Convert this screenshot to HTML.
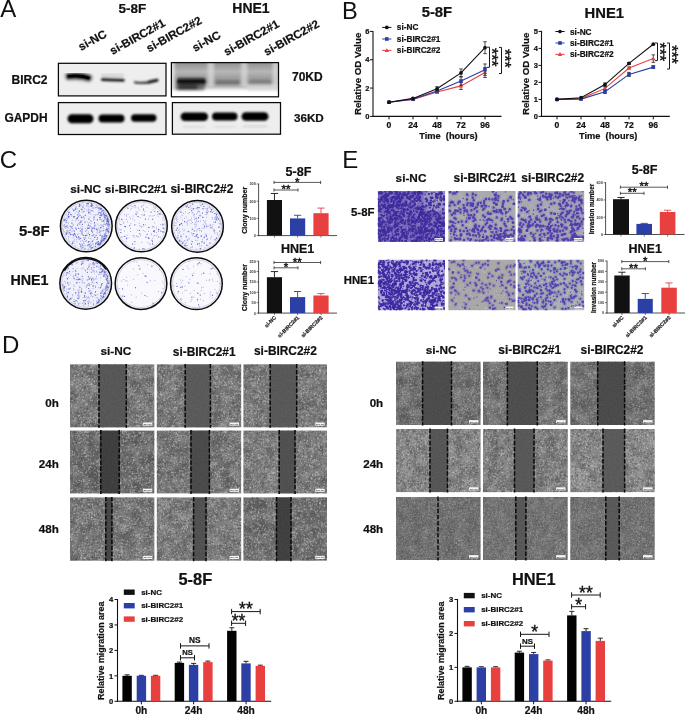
<!DOCTYPE html>
<html lang="en"><head><meta charset="utf-8"><title>Figure</title>
<style>html,body{margin:0;padding:0;background:#fff}svg{display:block}text{font-family:"Liberation Sans",Arial,sans-serif;font-weight:bold;fill:#111;stroke:#111;stroke-width:.22px}.s{stroke-width:0}</style></head>
<body>
<svg width="685" height="715" viewBox="0 0 685 715">
<defs>
<filter id="blur1" x="-10%" y="-30%" width="120%" height="160%"><feGaussianBlur stdDeviation="0.9"/></filter>
<filter id="blur2" x="-10%" y="-30%" width="120%" height="160%"><feGaussianBlur stdDeviation="1.6"/></filter>
<filter id="blur3" x="-20%" y="-20%" width="140%" height="140%"><feGaussianBlur stdDeviation="3"/></filter>
<filter id="grain" x="0" y="0" width="100%" height="100%" color-interpolation-filters="sRGB">
<feTurbulence type="fractalNoise" baseFrequency="0.75" numOctaves="2" seed="4"/>
<feColorMatrix type="matrix" values="0 0 0 1.5 -0.2  0 0 0 1.5 -0.2  0 0 0 1.5 -0.2  0 0 0 0 1"/>
</filter>
<filter id="clump" x="0" y="0" width="100%" height="100%" color-interpolation-filters="sRGB">
<feTurbulence type="fractalNoise" baseFrequency="0.09" numOctaves="2" seed="9"/>
<feColorMatrix type="matrix" values="0 0 0 2.2 -0.6  0 0 0 2.2 -0.6  0 0 0 2.2 -0.6  0 0 0 0 1"/>
</filter>
<filter id="grain2" x="0" y="0" width="100%" height="100%" color-interpolation-filters="sRGB">
<feTurbulence type="fractalNoise" baseFrequency="0.6" numOctaves="2" seed="11"/>
<feColorMatrix type="matrix" values="0 0 0 1.7 -0.27  0 0 0 1.7 -0.27  0 0 0 1.7 -0.27  0 0 0 0 1"/>
</filter>
<filter id="bggrain" x="0" y="0" width="100%" height="100%" color-interpolation-filters="sRGB">
<feTurbulence type="fractalNoise" baseFrequency="0.8" numOctaves="1" seed="2"/>
<feColorMatrix type="matrix" values="0 0 0 0.35 0.52  0 0 0 0.35 0.54  0 0 0 0.33 0.57  0 0 0 0 1"/>
</filter>

<filter id="cE11" x="0" y="0" width="100%" height="100%" color-interpolation-filters="sRGB"><feTurbulence type="fractalNoise" baseFrequency="0.42" numOctaves="2" seed="3"/><feColorMatrix type="matrix" values="0 0 0 0 0.33  0 0 0 0 0.22  0 0 0 0 0.66  0 0 0 7 -3.010"/><feComposite operator="in" in2="SourceGraphic"/></filter>
<filter id="cE12" x="0" y="0" width="100%" height="100%" color-interpolation-filters="sRGB"><feTurbulence type="fractalNoise" baseFrequency="0.36" numOctaves="2" seed="5"/><feColorMatrix type="matrix" values="0 0 0 0 0.36  0 0 0 0 0.27  0 0 0 0 0.68  0 0 0 8 -4.560"/><feComposite operator="in" in2="SourceGraphic"/></filter>
<filter id="cE13" x="0" y="0" width="100%" height="100%" color-interpolation-filters="sRGB"><feTurbulence type="fractalNoise" baseFrequency="0.36" numOctaves="2" seed="8"/><feColorMatrix type="matrix" values="0 0 0 0 0.36  0 0 0 0 0.27  0 0 0 0 0.68  0 0 0 8 -4.320"/><feComposite operator="in" in2="SourceGraphic"/></filter>
<filter id="cE21" x="0" y="0" width="100%" height="100%" color-interpolation-filters="sRGB"><feTurbulence type="fractalNoise" baseFrequency="0.45" numOctaves="2" seed="13"/><feColorMatrix type="matrix" values="0 0 0 0 0.3  0 0 0 0 0.19  0 0 0 0 0.66  0 0 0 7 -3.150"/><feComposite operator="in" in2="SourceGraphic"/></filter>
<filter id="cE22" x="0" y="0" width="100%" height="100%" color-interpolation-filters="sRGB"><feTurbulence type="fractalNoise" baseFrequency="0.42" numOctaves="2" seed="17"/><feColorMatrix type="matrix" values="0 0 0 0 0.36  0 0 0 0 0.27  0 0 0 0 0.7  0 0 0 9 -5.760"/><feComposite operator="in" in2="SourceGraphic"/></filter>
<filter id="cE23" x="0" y="0" width="100%" height="100%" color-interpolation-filters="sRGB"><feTurbulence type="fractalNoise" baseFrequency="0.42" numOctaves="2" seed="21"/><feColorMatrix type="matrix" values="0 0 0 0 0.36  0 0 0 0 0.27  0 0 0 0 0.72  0 0 0 9 -5.400"/><feComposite operator="in" in2="SourceGraphic"/></filter>
<filter id="cC1" x="0" y="0" width="100%" height="100%" color-interpolation-filters="sRGB"><feTurbulence type="fractalNoise" baseFrequency="0.47" numOctaves="3" seed="31"/><feColorMatrix type="matrix" values="0 0 0 0 0.33  0 0 0 0 0.36  0 0 0 0 0.8  0 0 0 9 -5.580"/><feComposite operator="in" in2="SourceGraphic"/></filter>
<filter id="cC2" x="0" y="0" width="100%" height="100%" color-interpolation-filters="sRGB"><feTurbulence type="fractalNoise" baseFrequency="0.47" numOctaves="3" seed="37"/><feColorMatrix type="matrix" values="0 0 0 0 0.33  0 0 0 0 0.36  0 0 0 0 0.8  0 0 0 9 -6.210"/><feComposite operator="in" in2="SourceGraphic"/></filter>
<filter id="cC3" x="0" y="0" width="100%" height="100%" color-interpolation-filters="sRGB"><feTurbulence type="fractalNoise" baseFrequency="0.47" numOctaves="3" seed="41"/><feColorMatrix type="matrix" values="0 0 0 0 0.33  0 0 0 0 0.36  0 0 0 0 0.8  0 0 0 9 -6.615"/><feComposite operator="in" in2="SourceGraphic"/></filter>
</defs>
<rect width="685" height="715" fill="#fff"/>
<filter id="soft2" x="-5%" y="-5%" width="110%" height="110%"><feGaussianBlur stdDeviation="0.35"/></filter>
<filter id="soft" x="-2%" y="-2%" width="104%" height="104%"><feGaussianBlur stdDeviation="0.5"/></filter>
<text x="0.3" y="17.3" font-size="24" style="font-weight:normal;stroke-width:0">A</text>
<text x="132.5" y="13" font-size="13.5" text-anchor="middle">5-8F</text>
<text x="251" y="12.5" font-size="14" text-anchor="middle">HNE1</text>
<text x="81" y="51" font-size="11.6" transform="rotate(-29 81 51)">si-NC</text>
<text x="112.5" y="55" font-size="11.6" transform="rotate(-29 112.5 55)">si-BIRC2#1</text>
<text x="149" y="52.5" font-size="11.6" transform="rotate(-29 149 52.5)">si-BIRC2#2</text>
<text x="195" y="52" font-size="11.6" transform="rotate(-29 195 52)">si-NC</text>
<text x="226.5" y="56" font-size="11.6" transform="rotate(-29 226.5 56)">si-BIRC2#1</text>
<text x="266.5" y="56" font-size="11.6" transform="rotate(-29 266.5 56)">si-BIRC2#2</text>
<text x="11.5" y="84" font-size="12">BIRC2</text>
<text x="4.4" y="121.9" font-size="11.95">GAPDH</text>
<text x="292" y="81.2" font-size="12">70KD</text>
<text x="293.9" y="121.8" font-size="11.7">36KD</text>
<g id="blots">
<rect x="58.4" y="63.3" width="107.6" height="32.6" fill="#eeeeee" stroke="#0a0a0a" stroke-width="1.25"/>
<g filter="url(#blur1)" fill="none" stroke-linecap="round">
<path d="M69 76.3C76 75.5 84 76.3 88.3 77.9" stroke="#d2d2d2" stroke-width="11"/>
<path d="M69 76.3C76 75.5 84 76.3 88.3 77.9" stroke="#040404" stroke-width="6.6"/>
<path d="M103 75.5H122" stroke="#d6d6d6" stroke-width="4"/>
<path d="M102.5 79.3L123 80.1" stroke="#1e1e1e" stroke-width="3.3"/>
<path d="M135 82.4C141 83.4 150 82.6 157 80.3" stroke="#3c3c3c" stroke-width="2.3"/>
<path d="M149 82L157 80.2" stroke="#1c1c1c" stroke-width="3"/>
</g>
<rect x="58.4" y="102.6" width="107.6" height="31.9" fill="#eeeeee" stroke="#0a0a0a" stroke-width="1.25"/>
<g filter="url(#blur1)">
<rect x="67.5" y="114.3" width="26.0" height="9.0" fill="#020202" rx="4.5"/>
<rect x="98.5" y="114.6" width="26.0" height="8.0" fill="#020202" rx="4"/>
<rect x="131.0" y="114.3" width="25.5" height="7.4" fill="#020202" rx="3.7"/>
</g>
<linearGradient id="gA3" x1="0" y1="0" x2="0" y2="1"><stop offset="0" stop-color="#8e8e8e"/><stop offset="0.12" stop-color="#a2a2a2"/><stop offset="0.27" stop-color="#b6b6b6"/><stop offset="0.42" stop-color="#a2a2a2"/><stop offset="0.58" stop-color="#969696"/><stop offset="0.70" stop-color="#b4b4b4"/><stop offset="0.80" stop-color="#efefef"/><stop offset="0.86" stop-color="#fff"/></linearGradient>
<clipPath id="cpA3"><rect x="171" y="62.6" width="107.5" height="34.2"/></clipPath>
<rect x="171.0" y="62.6" width="107.5" height="34.2" fill="#fff"/>
<g clip-path="url(#cpA3)">
<rect x="171.0" y="62.6" width="107.5" height="34.2" fill="url(#gA3)"/>
<g filter="url(#blur2)">
<rect x="168.0" y="60.0" width="6.5" height="30.0" fill="#e2e2e2"/>
<rect x="272.5" y="60.0" width="8.0" height="30.0" fill="#d8d8d8" opacity="0.8"/>
<rect x="207.5" y="58.0" width="6.5" height="29.0" fill="#dadada" opacity="0.75"/>
<rect x="241.0" y="58.0" width="6.5" height="29.0" fill="#d8d8d8" opacity="0.75"/>
<rect x="247.0" y="84.5" width="30.0" height="6.0" fill="#dcdcdc" opacity="0.7"/>
<rect x="175.0" y="84.0" width="30.0" height="6.0" fill="#6a6a6a" rx="3"/>
<rect x="176.0" y="78.6" width="31.0" height="6.0" fill="#0a0a0a" rx="3"/>
<rect x="178.0" y="85.5" width="20.0" height="4.0" fill="#2c2c2c" rx="2"/>
<rect x="214.5" y="80.5" width="26.0" height="3.4" fill="#6c6c6c" rx="1.7"/>
<rect x="248.0" y="80.3" width="24.0" height="3.4" fill="#767676" rx="1.7"/>
</g></g>
<rect x="171.4" y="62.6" width="107.1" height="34.2" fill="none" stroke="#0a0a0a" stroke-width="1.25"/>
<rect x="172.4" y="102.6" width="108.1" height="31.6" fill="#eeeeee" stroke="#0a0a0a" stroke-width="1.25"/>
<g filter="url(#blur1)">
<rect x="180.6" y="112.6" width="27.5" height="8.4" fill="#020202" rx="4.2"/>
<rect x="212.0" y="112.4" width="25.5" height="8.0" fill="#020202" rx="4"/>
<rect x="241.5" y="112.2" width="27.0" height="8.6" fill="#020202" rx="4.3"/>
</g>
<g filter="url(#blur1)" opacity="0.5">
<rect x="183.0" y="126.0" width="22.0" height="1.6" fill="#c0c0c0"/>
<rect x="214.0" y="126.0" width="22.0" height="1.6" fill="#c8c8c8"/>
<rect x="243.0" y="125.5" width="24.0" height="1.8" fill="#b8b8b8"/>
</g>
</g>
<text x="342" y="18.8" font-size="23.6" style="font-weight:normal;stroke-width:0">B</text>
<line x1="373" y1="30.9" x2="373" y2="116.9" stroke="#111" stroke-width="1.1"/>
<line x1="372.5" y1="116.4" x2="501.5" y2="116.4" stroke="#111" stroke-width="1.1"/>
<line x1="370" y1="116.4" x2="373" y2="116.4" stroke="#111" stroke-width="1"/>
<text x="369.4" y="119.0" font-size="7.5" text-anchor="end">0</text>
<line x1="370" y1="88.06666666666668" x2="373" y2="88.06666666666668" stroke="#111" stroke-width="1"/>
<text x="369.4" y="90.66666666666667" font-size="7.5" text-anchor="end">2</text>
<line x1="370" y1="59.73333333333334" x2="373" y2="59.73333333333334" stroke="#111" stroke-width="1"/>
<text x="369.4" y="62.33333333333334" font-size="7.5" text-anchor="end">4</text>
<line x1="370" y1="31.400000000000006" x2="373" y2="31.400000000000006" stroke="#111" stroke-width="1"/>
<text x="369.4" y="34.00000000000001" font-size="7.5" text-anchor="end">6</text>
<line x1="389" y1="116.4" x2="389" y2="119.4" stroke="#111" stroke-width="1"/>
<text x="389" y="127.60000000000001" font-size="8.6" text-anchor="middle">0</text>
<line x1="413" y1="116.4" x2="413" y2="119.4" stroke="#111" stroke-width="1"/>
<text x="413" y="127.60000000000001" font-size="8.6" text-anchor="middle">24</text>
<line x1="437" y1="116.4" x2="437" y2="119.4" stroke="#111" stroke-width="1"/>
<text x="437" y="127.60000000000001" font-size="8.6" text-anchor="middle">48</text>
<line x1="461" y1="116.4" x2="461" y2="119.4" stroke="#111" stroke-width="1"/>
<text x="461" y="127.60000000000001" font-size="8.6" text-anchor="middle">72</text>
<line x1="485" y1="116.4" x2="485" y2="119.4" stroke="#111" stroke-width="1"/>
<text x="485" y="127.60000000000001" font-size="8.6" text-anchor="middle">96</text>
<text x="448.5" y="139.0" font-size="9.25" text-anchor="middle" style="white-space:pre">Time  (hours)</text>
<text x="436.9" y="17.4" font-size="14.8" text-anchor="middle">5-8F</text>
<text x="361.0" y="73.9" font-size="9.7" text-anchor="middle" transform="rotate(-90 361.0 73.9)">Relative OD Value</text>
<polyline points="389.0,102.2 413.0,99.4 437.0,92.0 461.0,85.9 485.0,72.5" fill="none" stroke="#e8403f" stroke-width="1.1"/>
<polyline points="389.0,102.2 413.0,99.1 437.0,90.9 461.0,81.0 485.0,69.7" fill="none" stroke="#2b3fa5" stroke-width="1.1"/>
<polyline points="389.0,102.2 413.0,98.4 437.0,88.8 461.0,72.9 485.0,47.7" fill="none" stroke="#111" stroke-width="1.1"/>
<path d="M389 100.0L391.2 103.8H386.8Z" fill="#e8403f"/>
<line x1="413" y1="98.69166666666668" x2="413" y2="100.10833333333333" stroke="#222" stroke-width="0.8"/>
<line x1="411.2" y1="98.69166666666668" x2="414.8" y2="98.69166666666668" stroke="#222" stroke-width="0.8"/>
<line x1="411.2" y1="100.10833333333333" x2="414.8" y2="100.10833333333333" stroke="#222" stroke-width="0.8"/>
<path d="M413 97.2L415.2 101.0H410.8Z" fill="#e8403f"/>
<line x1="437" y1="90.9" x2="437" y2="93.16666666666669" stroke="#222" stroke-width="0.8"/>
<line x1="435.2" y1="90.9" x2="438.8" y2="90.9" stroke="#222" stroke-width="0.8"/>
<line x1="435.2" y1="93.16666666666669" x2="438.8" y2="93.16666666666669" stroke="#222" stroke-width="0.8"/>
<path d="M437 89.8L439.2 93.6H434.8Z" fill="#e8403f"/>
<line x1="461" y1="82.4" x2="461" y2="89.48333333333335" stroke="#222" stroke-width="0.8"/>
<line x1="459.2" y1="82.4" x2="462.8" y2="82.4" stroke="#222" stroke-width="0.8"/>
<line x1="459.2" y1="89.48333333333335" x2="462.8" y2="89.48333333333335" stroke="#222" stroke-width="0.8"/>
<path d="M461 83.7L463.2 87.5H458.8Z" fill="#e8403f"/>
<line x1="485" y1="67.52500000000002" x2="485" y2="77.44166666666668" stroke="#222" stroke-width="0.8"/>
<line x1="483.2" y1="67.52500000000002" x2="486.8" y2="67.52500000000002" stroke="#222" stroke-width="0.8"/>
<line x1="483.2" y1="77.44166666666668" x2="486.8" y2="77.44166666666668" stroke="#222" stroke-width="0.8"/>
<path d="M485 70.3L487.2 74.1H482.8Z" fill="#e8403f"/>
<rect x="387.2" y="100.4" width="3.6" height="3.6" fill="#2b3fa5"/>
<line x1="413" y1="98.40833333333335" x2="413" y2="99.825" stroke="#222" stroke-width="0.8"/>
<line x1="411.2" y1="98.40833333333335" x2="414.8" y2="98.40833333333335" stroke="#222" stroke-width="0.8"/>
<line x1="411.2" y1="99.825" x2="414.8" y2="99.825" stroke="#222" stroke-width="0.8"/>
<rect x="411.2" y="97.3" width="3.6" height="3.6" fill="#2b3fa5"/>
<line x1="437" y1="89.48333333333333" x2="437" y2="92.31666666666668" stroke="#222" stroke-width="0.8"/>
<line x1="435.2" y1="89.48333333333333" x2="438.8" y2="89.48333333333333" stroke="#222" stroke-width="0.8"/>
<line x1="435.2" y1="92.31666666666668" x2="438.8" y2="92.31666666666668" stroke="#222" stroke-width="0.8"/>
<rect x="435.2" y="89.1" width="3.6" height="3.6" fill="#2b3fa5"/>
<line x1="461" y1="76.73333333333335" x2="461" y2="85.23333333333335" stroke="#222" stroke-width="0.8"/>
<line x1="459.2" y1="76.73333333333335" x2="462.8" y2="76.73333333333335" stroke="#222" stroke-width="0.8"/>
<line x1="459.2" y1="85.23333333333335" x2="462.8" y2="85.23333333333335" stroke="#222" stroke-width="0.8"/>
<rect x="459.2" y="79.2" width="3.6" height="3.6" fill="#2b3fa5"/>
<line x1="485" y1="63.98333333333334" x2="485" y2="75.31666666666668" stroke="#222" stroke-width="0.8"/>
<line x1="483.2" y1="63.98333333333334" x2="486.8" y2="63.98333333333334" stroke="#222" stroke-width="0.8"/>
<line x1="483.2" y1="75.31666666666668" x2="486.8" y2="75.31666666666668" stroke="#222" stroke-width="0.8"/>
<rect x="483.2" y="67.9" width="3.6" height="3.6" fill="#2b3fa5"/>
<circle cx="389" cy="102.2" r="1.85" fill="#111"/>
<line x1="413" y1="97.7" x2="413" y2="99.11666666666666" stroke="#222" stroke-width="0.8"/>
<line x1="411.2" y1="97.7" x2="414.8" y2="97.7" stroke="#222" stroke-width="0.8"/>
<line x1="411.2" y1="99.11666666666666" x2="414.8" y2="99.11666666666666" stroke="#222" stroke-width="0.8"/>
<circle cx="413" cy="98.4" r="1.85" fill="#111"/>
<line x1="437" y1="86.65" x2="437" y2="90.9" stroke="#222" stroke-width="0.8"/>
<line x1="435.2" y1="86.65" x2="438.8" y2="86.65" stroke="#222" stroke-width="0.8"/>
<line x1="435.2" y1="90.9" x2="438.8" y2="90.9" stroke="#222" stroke-width="0.8"/>
<circle cx="437" cy="88.8" r="1.85" fill="#111"/>
<line x1="461" y1="68.94166666666668" x2="461" y2="76.87500000000001" stroke="#222" stroke-width="0.8"/>
<line x1="459.2" y1="68.94166666666668" x2="462.8" y2="68.94166666666668" stroke="#222" stroke-width="0.8"/>
<line x1="459.2" y1="76.87500000000001" x2="462.8" y2="76.87500000000001" stroke="#222" stroke-width="0.8"/>
<circle cx="461" cy="72.9" r="1.85" fill="#111"/>
<line x1="485" y1="41.741666666666674" x2="485" y2="53.64166666666668" stroke="#222" stroke-width="0.8"/>
<line x1="483.2" y1="41.741666666666674" x2="486.8" y2="41.741666666666674" stroke="#222" stroke-width="0.8"/>
<line x1="483.2" y1="53.64166666666668" x2="486.8" y2="53.64166666666668" stroke="#222" stroke-width="0.8"/>
<circle cx="485" cy="47.7" r="1.85" fill="#111"/>
<line x1="382.2" y1="27.4" x2="391.40000000000003" y2="27.4" stroke="#111" stroke-width="1"/>
<circle cx="386.8" cy="27.4" r="1.85" fill="#111"/>
<text x="396.8" y="30.4" font-size="8.25">si-NC</text>
<line x1="382.2" y1="39" x2="391.40000000000003" y2="39" stroke="#2b3fa5" stroke-width="1"/>
<rect x="385.0" y="37.2" width="3.6" height="3.6" fill="#2b3fa5"/>
<text x="396.8" y="42" font-size="8.25">si-BIRC2#1</text>
<line x1="382.2" y1="50.4" x2="391.40000000000003" y2="50.4" stroke="#e8403f" stroke-width="1"/>
<path d="M386.8 48.2L389.0 52.0H384.6Z" fill="#e8403f"/>
<text x="396.8" y="53.4" font-size="8.25">si-BIRC2#2</text>
<path d="M487.0 47.2H489.5V67.3H487.0" fill="none" stroke="#1a1a1a" stroke-width="1"/>
<text x="485.5" y="57.25" font-size="16" text-anchor="middle" style="font-weight:normal;stroke-width:0.4" transform="rotate(90 485.5 57.25)">***</text>
<path d="M499.0 47.4H501.5V73.5H499.0" fill="none" stroke="#1a1a1a" stroke-width="1"/>
<text x="498.5" y="58.45" font-size="16" text-anchor="middle" style="font-weight:normal;stroke-width:0.4" transform="rotate(90 498.5 58.45)">***</text>
<line x1="541.5" y1="30.9" x2="541.5" y2="116.9" stroke="#111" stroke-width="1.1"/>
<line x1="541.0" y1="116.4" x2="669.8" y2="116.4" stroke="#111" stroke-width="1.1"/>
<line x1="538.5" y1="116.4" x2="541.5" y2="116.4" stroke="#111" stroke-width="1"/>
<text x="537.9" y="119.0" font-size="7.5" text-anchor="end">0</text>
<line x1="538.5" y1="99.4" x2="541.5" y2="99.4" stroke="#111" stroke-width="1"/>
<text x="537.9" y="102.0" font-size="7.5" text-anchor="end">1</text>
<line x1="538.5" y1="82.4" x2="541.5" y2="82.4" stroke="#111" stroke-width="1"/>
<text x="537.9" y="85.0" font-size="7.5" text-anchor="end">2</text>
<line x1="538.5" y1="65.4" x2="541.5" y2="65.4" stroke="#111" stroke-width="1"/>
<text x="537.9" y="68.0" font-size="7.5" text-anchor="end">3</text>
<line x1="538.5" y1="48.400000000000006" x2="541.5" y2="48.400000000000006" stroke="#111" stroke-width="1"/>
<text x="537.9" y="51.00000000000001" font-size="7.5" text-anchor="end">4</text>
<line x1="538.5" y1="31.400000000000006" x2="541.5" y2="31.400000000000006" stroke="#111" stroke-width="1"/>
<text x="537.9" y="34.00000000000001" font-size="7.5" text-anchor="end">5</text>
<line x1="557" y1="116.4" x2="557" y2="119.4" stroke="#111" stroke-width="1"/>
<text x="557" y="127.60000000000001" font-size="8.6" text-anchor="middle">0</text>
<line x1="581" y1="116.4" x2="581" y2="119.4" stroke="#111" stroke-width="1"/>
<text x="581" y="127.60000000000001" font-size="8.6" text-anchor="middle">24</text>
<line x1="605" y1="116.4" x2="605" y2="119.4" stroke="#111" stroke-width="1"/>
<text x="605" y="127.60000000000001" font-size="8.6" text-anchor="middle">48</text>
<line x1="629" y1="116.4" x2="629" y2="119.4" stroke="#111" stroke-width="1"/>
<text x="629" y="127.60000000000001" font-size="8.6" text-anchor="middle">72</text>
<line x1="653.3" y1="116.4" x2="653.3" y2="119.4" stroke="#111" stroke-width="1"/>
<text x="653.3" y="127.60000000000001" font-size="8.6" text-anchor="middle">96</text>
<text x="608.2" y="139.0" font-size="9.25" text-anchor="middle" style="white-space:pre">Time  (hours)</text>
<text x="604.3" y="18.2" font-size="14.8" text-anchor="middle">HNE1</text>
<text x="529.4" y="73.9" font-size="9.7" text-anchor="middle" transform="rotate(-90 529.4 73.9)">Relative OD Value</text>
<polyline points="557.0,99.4 581.0,98.6 605.0,88.4 629.0,68.0 653.3,58.6" fill="none" stroke="#e8403f" stroke-width="1.1"/>
<polyline points="557.0,99.4 581.0,99.1 605.0,91.8 629.0,74.4 653.3,67.1" fill="none" stroke="#2b3fa5" stroke-width="1.1"/>
<polyline points="557.0,99.4 581.0,97.7 605.0,84.6 629.0,63.4 653.3,44.2" fill="none" stroke="#111" stroke-width="1.1"/>
<path d="M557 97.2L559.2 101.0H554.8Z" fill="#e8403f"/>
<path d="M581 96.4L583.2 100.2H578.8Z" fill="#e8403f"/>
<line x1="605" y1="86.99000000000001" x2="605" y2="89.71000000000001" stroke="#222" stroke-width="0.8"/>
<line x1="603.2" y1="86.99000000000001" x2="606.8" y2="86.99000000000001" stroke="#222" stroke-width="0.8"/>
<line x1="603.2" y1="89.71000000000001" x2="606.8" y2="89.71000000000001" stroke="#222" stroke-width="0.8"/>
<path d="M605 86.2L607.2 90.0H602.8Z" fill="#e8403f"/>
<line x1="629" y1="66.93" x2="629" y2="68.97" stroke="#222" stroke-width="0.8"/>
<line x1="627.2" y1="66.93" x2="630.8" y2="66.93" stroke="#222" stroke-width="0.8"/>
<line x1="627.2" y1="68.97" x2="630.8" y2="68.97" stroke="#222" stroke-width="0.8"/>
<path d="M629 65.8L631.2 69.5H626.8Z" fill="#e8403f"/>
<line x1="653.3" y1="54.86000000000001" x2="653.3" y2="62.34000000000001" stroke="#222" stroke-width="0.8"/>
<line x1="651.5" y1="54.86000000000001" x2="655.0999999999999" y2="54.86000000000001" stroke="#222" stroke-width="0.8"/>
<line x1="651.5" y1="62.34000000000001" x2="655.0999999999999" y2="62.34000000000001" stroke="#222" stroke-width="0.8"/>
<path d="M653.3 56.4L655.5 60.2H651.0999999999999Z" fill="#e8403f"/>
<rect x="555.2" y="97.6" width="3.6" height="3.6" fill="#2b3fa5"/>
<rect x="579.2" y="97.3" width="3.6" height="3.6" fill="#2b3fa5"/>
<line x1="605" y1="90.05" x2="605" y2="93.45" stroke="#222" stroke-width="0.8"/>
<line x1="603.2" y1="90.05" x2="606.8" y2="90.05" stroke="#222" stroke-width="0.8"/>
<line x1="603.2" y1="93.45" x2="606.8" y2="93.45" stroke="#222" stroke-width="0.8"/>
<rect x="603.2" y="90.0" width="3.6" height="3.6" fill="#2b3fa5"/>
<line x1="629" y1="72.36999999999999" x2="629" y2="76.45" stroke="#222" stroke-width="0.8"/>
<line x1="627.2" y1="72.36999999999999" x2="630.8" y2="72.36999999999999" stroke="#222" stroke-width="0.8"/>
<line x1="627.2" y1="76.45" x2="630.8" y2="76.45" stroke="#222" stroke-width="0.8"/>
<rect x="627.2" y="72.6" width="3.6" height="3.6" fill="#2b3fa5"/>
<line x1="653.3" y1="65.74000000000001" x2="653.3" y2="68.46000000000001" stroke="#222" stroke-width="0.8"/>
<line x1="651.5" y1="65.74000000000001" x2="655.0999999999999" y2="65.74000000000001" stroke="#222" stroke-width="0.8"/>
<line x1="651.5" y1="68.46000000000001" x2="655.0999999999999" y2="68.46000000000001" stroke="#222" stroke-width="0.8"/>
<rect x="651.5" y="65.3" width="3.6" height="3.6" fill="#2b3fa5"/>
<circle cx="557" cy="99.4" r="1.85" fill="#111"/>
<circle cx="581" cy="97.7" r="1.85" fill="#111"/>
<line x1="605" y1="82.91" x2="605" y2="86.31" stroke="#222" stroke-width="0.8"/>
<line x1="603.2" y1="82.91" x2="606.8" y2="82.91" stroke="#222" stroke-width="0.8"/>
<line x1="603.2" y1="86.31" x2="606.8" y2="86.31" stroke="#222" stroke-width="0.8"/>
<circle cx="605" cy="84.6" r="1.85" fill="#111"/>
<line x1="629" y1="62.510000000000005" x2="629" y2="64.21000000000001" stroke="#222" stroke-width="0.8"/>
<line x1="627.2" y1="62.510000000000005" x2="630.8" y2="62.510000000000005" stroke="#222" stroke-width="0.8"/>
<line x1="627.2" y1="64.21000000000001" x2="630.8" y2="64.21000000000001" stroke="#222" stroke-width="0.8"/>
<circle cx="629" cy="63.4" r="1.85" fill="#111"/>
<circle cx="653.3" cy="44.2" r="1.85" fill="#111"/>
<line x1="555.4" y1="31.5" x2="564.6" y2="31.5" stroke="#111" stroke-width="1"/>
<circle cx="560" cy="31.5" r="1.85" fill="#111"/>
<text x="570" y="34.5" font-size="8.25">si-NC</text>
<line x1="555.4" y1="43" x2="564.6" y2="43" stroke="#2b3fa5" stroke-width="1"/>
<rect x="558.2" y="41.2" width="3.6" height="3.6" fill="#2b3fa5"/>
<text x="570" y="46" font-size="8.25">si-BIRC2#1</text>
<line x1="555.4" y1="54.3" x2="564.6" y2="54.3" stroke="#e8403f" stroke-width="1"/>
<path d="M560 52.1L562.2 55.9H557.8Z" fill="#e8403f"/>
<text x="570" y="57.3" font-size="8.25">si-BIRC2#2</text>
<path d="M655.0 43H657.5V60.6H655.0" fill="none" stroke="#1a1a1a" stroke-width="1"/>
<text x="654.2" y="51.8" font-size="16" text-anchor="middle" style="font-weight:normal;stroke-width:0.4" transform="rotate(90 654.2 51.8)">***</text>
<path d="M667.0 43H669.5V69H667.0" fill="none" stroke="#1a1a1a" stroke-width="1"/>
<text x="665.8" y="54.5" font-size="16" text-anchor="middle" style="font-weight:normal;stroke-width:0.4" transform="rotate(90 665.8 54.5)">***</text>
<text x="-0.2" y="168.2" font-size="24" style="font-weight:normal;stroke-width:0">C</text>
<text x="70.3" y="192.5" font-size="11.8">si-NC</text>
<text x="104.8" y="192.5" font-size="11.8">si-BIRC2#1</text>
<text x="170.5" y="192.5" font-size="11.9">si-BIRC2#2</text>
<text x="19" y="236.3" font-size="14.9">5-8F</text>
<text x="10.4" y="285" font-size="14.3">HNE1</text>
<circle cx="86.3" cy="226.0" r="25.85" fill="#f0f0fa"/>
<g filter="url(#soft2)">
<path d="M96.4 229.0h0M84.1 217.5h0M94.0 216.7h0M101.7 227.1h0M87.8 228.6h0M83.5 241.5h0M93.8 246.1h0M80.3 244.5h0M81.9 232.0h0M68.7 233.7h0M67.7 227.5h0M92.6 232.0h0M97.4 237.9h0M95.5 215.0h0M89.6 219.0h0M89.2 244.8h0M90.9 205.8h0M96.7 239.6h0M87.9 246.1h0M69.4 216.7h0M91.2 203.4h0M63.6 230.9h0M80.9 247.2h0M101.8 238.1h0M100.1 215.5h0M72.7 242.2h0M94.0 207.9h0M76.9 239.8h0M103.2 226.2h0M79.5 243.9h0M101.7 227.9h0M96.4 235.2h0M106.4 223.3h0M77.7 214.9h0M89.6 228.4h0M64.2 219.5h0M85.3 215.3h0M97.2 224.1h0M102.2 230.8h0M80.5 227.9h0M97.3 219.9h0M82.7 228.9h0M108.9 227.9h0M104.2 222.0h0M94.7 228.7h0M87.9 227.9h0M90.8 211.0h0M98.1 228.2h0M70.1 230.2h0M77.9 225.0h0M88.5 219.1h0M67.7 233.1h0M88.9 228.1h0M105.6 224.6h0M93.0 243.6h0M103.3 238.6h0M93.8 227.9h0M89.5 244.1h0M94.1 217.6h0M88.6 211.2h0M67.8 231.0h0M87.6 245.5h0M81.1 233.7h0M75.8 213.1h0M108.2 231.7h0M88.1 210.6h0M91.9 206.4h0M91.8 227.1h0M71.2 226.9h0M82.1 217.6h0M95.5 237.0h0M89.5 225.7h0M103.5 220.9h0M81.9 231.7h0M72.0 231.6h0M100.2 231.0h0M106.5 215.7h0M82.2 212.1h0M89.4 222.5h0M82.3 206.9h0M94.7 237.3h0M68.5 236.5h0M76.7 219.8h0M93.1 211.3h0M89.0 212.4h0M79.2 237.4h0M96.9 243.4h0M78.2 213.9h0M70.9 214.3h0M94.6 223.9h0M104.3 238.4h0M104.8 219.1h0M64.2 220.5h0M91.6 221.3h0M79.0 206.4h0M83.0 246.7h0M100.2 217.4h0M70.7 234.6h0M93.0 208.5h0M102.5 224.9h0M82.3 234.0h0M82.8 209.1h0M68.0 211.7h0M98.9 210.3h0M77.7 217.5h0M73.1 225.2h0M63.4 229.2h0M67.1 217.7h0M74.1 216.6h0M99.4 212.8h0M77.1 238.1h0M75.8 206.8h0M92.3 228.8h0M78.3 216.5h0M98.9 243.9h0M78.7 220.4h0M100.1 219.2h0M90.4 226.6h0M97.7 244.5h0M75.2 209.1h0M75.8 209.1h0M79.5 239.1h0M67.7 232.7h0M73.2 241.2h0M88.9 241.5h0M79.6 224.3h0M101.8 236.2h0M94.0 239.7h0M101.4 215.6h0M76.2 211.0h0M85.6 235.6h0M85.7 235.6h0M92.1 241.6h0M67.8 218.6h0M78.7 223.6h0M75.1 234.4h0M100.0 244.2h0M91.3 245.1h0M92.9 240.8h0M91.3 247.8h0M79.7 205.9h0M99.1 225.7h0M70.7 232.8h0M81.3 205.0h0M71.9 223.1h0M93.5 218.0h0M77.6 225.0h0M74.1 217.0h0M106.5 229.3h0M101.5 221.2h0M108.5 230.3h0M77.0 242.1h0M103.7 230.6h0M90.4 214.2h0M69.8 241.7h0M100.7 234.0h0M100.6 227.7h0M88.6 219.3h0M71.2 216.1h0M95.9 207.6h0M83.1 207.1h0M102.7 214.9h0M86.1 230.0h0M79.1 211.2h0M94.5 222.7h0M79.9 244.0h0M75.6 235.7h0M73.1 230.2h0M101.2 208.6h0M83.6 238.0h0M101.2 231.2h0M101.1 225.8h0M89.6 234.5h0M74.0 243.5h0M79.9 205.9h0M94.6 216.9h0M79.8 204.4h0M95.6 207.7h0M90.1 238.3h0M77.1 225.4h0M79.7 206.0h0M82.5 226.8h0M64.5 224.6h0M102.0 237.1h0M80.3 230.8h0M99.4 217.3h0M90.4 220.9h0M91.0 238.8h0M85.0 222.1h0M84.6 218.8h0M92.1 227.5h0M65.3 220.8h0M94.7 225.9h0M73.0 237.7h0M78.3 212.3h0M88.6 233.6h0M95.3 246.6h0M93.0 205.7h0M99.4 232.6h0M76.3 207.1h0M69.5 232.8h0M70.4 214.6h0M105.4 224.9h0M97.6 214.6h0M73.9 210.1h0M93.0 231.8h0M79.2 213.8h0M98.1 233.2h0M74.5 233.3h0M82.2 240.5h0M78.6 233.8h0M73.0 234.3h0M92.0 210.5h0M73.6 235.6h0M85.2 241.2h0M84.1 243.2h0M66.2 233.8h0M105.1 238.8h0M102.5 214.3h0M105.6 229.7h0M80.9 246.0h0M83.6 243.1h0M90.1 212.1h0M85.7 231.5h0M77.2 218.6h0M81.2 244.1h0M93.2 214.9h0M70.4 226.3h0M88.3 225.2h0M72.6 234.8h0M90.8 245.8h0M88.7 209.5h0M76.5 237.0h0M95.9 244.3h0M85.1 248.7h0M97.9 241.5h0M88.3 242.2h0M82.8 203.1h0M97.0 232.7h0M96.7 235.7h0M68.3 216.3h0M101.8 211.6h0M66.0 232.4h0M108.7 221.3h0M78.7 228.4h0M83.6 216.6h0M94.1 234.4h0M65.3 228.1h0M100.1 235.4h0M86.4 206.1h0M76.3 236.7h0M92.5 232.7h0M72.1 228.3h0M103.9 215.8h0M74.3 233.5h0M73.1 242.1h0M81.6 217.2h0M78.9 237.1h0M66.4 230.9h0M72.7 226.5h0M80.6 238.4h0M71.9 215.1h0M81.2 217.7h0M87.3 204.4h0M81.9 229.2h0M101.7 215.1h0M84.1 245.6h0M82.3 230.5h0M81.3 209.3h0M89.2 227.2h0M77.4 234.6h0M64.4 231.9h0M97.2 229.8h0M91.5 229.1h0M68.7 213.1h0M68.4 223.7h0M81.0 221.2h0M79.4 239.0h0M83.0 220.2h0M81.0 246.2h0M88.8 213.1h0M74.7 241.1h0M88.2 208.1h0M89.0 245.8h0M83.9 211.6h0M87.9 206.1h0M104.0 239.2h0M75.4 228.1h0M80.0 222.7h0M75.8 228.0h0M88.6 224.0h0M97.1 206.2h0M66.6 220.6h0M73.8 211.1h0M90.5 243.2h0M68.0 222.2h0M78.5 236.9h0M101.9 219.7h0M96.1 205.4h0M104.8 216.4h0M76.3 229.2h0M88.5 237.7h0M80.7 241.3h0M93.0 244.3h0M85.2 235.5h0M87.4 228.5h0M98.3 214.4h0M106.4 216.2h0M82.6 244.9h0M84.7 208.7h0M103.8 240.0h0M104.2 234.8h0M74.8 234.5h0M105.5 232.3h0M88.3 249.0h0M101.9 213.9h0M66.5 233.1h0M77.3 208.6h0M100.7 213.1h0M78.4 216.1h0M89.0 244.6h0M93.0 207.7h0M101.3 214.3h0M87.2 222.1h0M93.1 235.2h0M88.2 232.0h0M89.4 235.9h0M97.6 231.3h0M73.7 210.4h0M97.3 239.5h0M74.4 239.4h0M92.0 247.2h0M74.3 231.1h0M73.2 224.3h0M96.1 214.8h0M92.2 241.3h0M99.8 244.8h0M105.8 231.8h0M86.2 241.0h0M83.3 217.2h0M73.4 216.8h0M100.7 214.4h0M99.9 231.1h0M101.5 238.0h0M69.4 212.4h0M76.3 218.1h0M95.2 235.4h0M78.4 238.8h0M85.1 237.8h0M100.0 232.1h0M68.6 212.4h0M94.7 219.0h0M83.3 235.3h0M104.3 224.0h0M86.7 230.5h0M99.5 212.6h0M91.7 230.9h0M81.0 225.0h0M86.6 210.0h0M76.1 218.9h0M82.4 224.3h0M74.5 216.9h0M90.0 209.5h0M103.9 224.3h0M91.7 206.3h0M91.1 223.7h0M68.8 240.0h0M86.8 233.9h0M67.0 225.8h0M91.5 230.9h0M90.9 245.2h0M93.0 236.3h0M86.8 235.4h0M89.2 206.7h0M97.0 207.7h0M102.4 221.6h0M107.4 229.3h0M104.2 233.7h0M85.6 245.6h0M75.5 220.8h0M107.9 228.9h0M98.9 207.8h0M99.2 208.4h0M82.6 209.9h0M73.5 235.1h0M87.8 226.9h0M85.7 228.2h0M75.1 236.4h0M95.7 243.4h0M82.8 247.6h0M68.1 228.2h0M91.4 235.4h0M66.1 222.5h0M93.4 220.1h0M100.9 224.6h0M72.3 220.1h0M68.7 217.0h0M99.6 230.2h0M80.3 221.9h0M69.3 226.1h0M70.9 234.4h0M65.4 234.9h0M95.3 225.0h0M88.0 244.4h0M80.0 215.6h0M90.5 225.9h0M89.7 217.0h0M103.1 238.9h0M84.5 239.3h0M81.3 248.3h0M103.1 220.1h0M91.6 205.4h0M98.6 212.8h0M81.3 222.2h0M70.5 234.8h0M86.2 240.8h0M79.4 211.1h0M77.4 214.9h0M86.5 205.3h0M99.0 228.9h0M100.7 209.2h0M104.0 237.7h0M108.5 221.4h0M104.3 238.8h0M65.8 226.4h0M103.3 240.9h0M107.0 218.5h0M107.1 235.8h0M105.1 217.4h0M106.0 221.0h0M63.8 225.6h0M105.6 235.8h0M100.8 212.8h0M66.1 227.8h0M103.8 236.7h0M99.5 207.8h0M108.0 220.3h0M98.8 243.9h0M104.0 238.8h0M99.0 242.9h0M104.4 238.3h0M102.9 210.4h0M98.9 244.3h0M102.9 236.6h0M105.3 215.5h0M98.2 207.9h0M104.5 235.6h0M108.0 224.1h0M72.4 243.3h0M106.3 236.4h0M108.8 223.1h0M104.5 212.2h0M103.8 240.1h0M64.2 225.6h0M101.4 209.9h0M108.6 231.1h0M109.2 224.8h0M103.5 213.9h0M106.1 237.4h0M109.0 224.1h0M103.1 210.5h0M105.2 213.4h0M102.9 210.8h0M85.0 248.7h0M104.9 236.2h0M68.7 238.1h0M104.2 216.9h0M66.7 234.6h0M101.2 241.5h0M67.1 215.6h0M100.7 242.9h0M101.8 241.6h0M105.6 238.2h0M108.4 232.1h0M105.0 216.7h0M101.3 239.8h0M100.2 242.8h0M72.5 209.0h0M64.4 227.1h0M100.4 243.1h0M87.0 203.4h0M83.9 247.7h0M108.2 223.6h0M98.8 208.2h0M68.4 214.4h0M106.3 236.5h0M105.1 217.9h0M102.1 240.9h0M108.9 224.7h0M107.8 221.2h0M63.9 220.9h0M99.9 208.1h0M102.0 240.2h0M108.2 219.2h0M104.1 239.5h0M104.6 236.4h0M92.8 247.5h0M104.8 238.8h0M102.2 241.6h0M103.6 240.7h0M107.6 217.9h0M102.8 239.4h0M101.1 242.2h0M101.8 240.5h0M65.1 219.3h0M106.7 235.9h0M82.5 247.9h0M108.7 225.7h0M104.5 214.8h0M75.7 245.8h0M106.9 229.9h0M106.9 224.7h0M98.3 241.5h0M103.9 240.1h0M107.2 216.6h0M101.8 241.4h0M108.0 221.8h0M100.7 208.3h0M99.5 244.3h0M107.8 223.2h0M100.0 244.4h0M105.0 239.0h0M107.9 219.4h0M103.8 236.6h0M108.3 232.0h0M101.0 208.5h0M99.2 209.5h0M102.6 211.2h0M97.9 244.8h0M98.8 208.0h0M91.8 204.4h0M106.6 227.9h0M107.2 230.8h0M101.3 212.0h0M103.7 214.7h0M105.2 219.1h0M106.3 235.6h0M105.1 233.8h0M107.5 225.8h0M105.1 234.2h0M91.2 248.2h0M101.4 208.6h0M83.5 205.1h0M103.3 212.2h0M107.4 220.2h0M102.6 237.8h0M98.6 243.2h0M65.9 218.6h0M106.9 219.0h0M107.8 218.3h0M103.7 212.1h0M103.8 228.4h0M98.6 244.1h0M101.1 240.1h0M64.1 219.9h0M106.2 229.6h0M92.2 205.3h0M106.9 216.4h0M106.4 221.8h0M101.3 241.6h0M90.0 246.9h0M106.4 233.7h0M97.9 243.1h0M107.9 226.3h0M91.7 204.2h0M97.0 207.1h0M98.9 244.5h0M101.8 210.0h0M102.4 235.8h0M107.6 224.0h0M104.4 214.3h0M108.8 228.0h0M88.3 203.5h0M106.9 220.0h0M104.0 217.3h0M105.4 234.2h0M108.3 222.2h0M107.0 231.7h0M108.6 222.1h0M106.2 230.1h0M107.5 221.4h0M95.6 244.8h0M101.1 241.3h0M100.8 208.6h0M100.8 243.4h0M105.8 218.2h0M107.1 224.9h0M99.0 245.0h0M103.6 213.3h0M104.5 219.8h0M105.3 215.2h0M109.1 224.2h0M107.3 221.2h0M72.1 244.1h0M106.3 235.8h0M105.0 234.7h0M97.0 242.6h0M79.5 204.1h0M101.7 242.1h0M75.6 208.2h0M108.1 221.3h0M100.9 240.6h0M107.9 219.2h0M98.2 244.3h0M88.3 203.8h0M109.1 226.6h0M105.7 215.2h0M75.1 209.1h0M107.7 219.3h0" fill="none" stroke="#5d68cc" stroke-width="0.9" stroke-linecap="round" opacity="0.7"/>
<path d="M96.4 229.0h0M87.8 228.6h0M81.9 232.0h0M97.4 237.9h0M90.9 205.8h0M91.2 203.4h0M100.1 215.5h0M103.2 226.2h0M106.4 223.3h0M85.3 215.3h0M97.3 219.9h0M94.7 228.7h0M70.1 230.2h0M88.9 228.1h0M93.8 227.9h0M67.8 231.0h0M108.2 231.7h0M71.2 226.9h0M103.5 220.9h0M106.5 215.7h0M94.7 237.3h0M89.0 212.4h0M70.9 214.3h0M64.2 220.5h0M100.2 217.4h0M82.3 234.0h0M77.7 217.5h0M74.1 216.6h0M92.3 228.8h0M100.1 219.2h0M75.8 209.1h0M88.9 241.5h0M101.4 215.6h0M92.1 241.6h0M100.0 244.2h0M79.7 205.9h0M71.9 223.1h0M106.5 229.3h0M103.7 230.6h0M100.6 227.7h0M83.1 207.1h0M94.5 222.7h0M101.2 208.6h0M89.6 234.5h0M79.8 204.4h0M79.7 206.0h0M80.3 230.8h0M85.0 222.1h0M94.7 225.9h0M95.3 246.6h0M69.5 232.8h0M73.9 210.1h0M74.5 233.3h0M92.0 210.5h0M66.2 233.8h0M80.9 246.0h0M77.2 218.6h0M88.3 225.2h0M76.5 237.0h0M88.3 242.2h0M68.3 216.3h0M78.7 228.4h0M100.1 235.4h0M72.1 228.3h0M81.6 217.2h0M80.6 238.4h0M81.9 229.2h0M81.3 209.3h0M97.2 229.8h0M81.0 221.2h0M88.8 213.1h0M83.9 211.6h0M80.0 222.7h0M66.6 220.6h0M78.5 236.9h0M76.3 229.2h0M85.2 235.5h0M82.6 244.9h0M74.8 234.5h0M66.5 233.1h0M89.0 244.6h0M93.1 235.2h0M73.7 210.4h0M74.3 231.1h0M99.8 244.8h0M73.4 216.8h0M69.4 212.4h0M85.1 237.8h0M83.3 235.3h0M91.7 230.9h0M82.4 224.3h0M91.7 206.3h0M67.0 225.8h0M86.8 235.4h0M107.4 229.3h0M107.9 228.9h0M73.5 235.1h0M95.7 243.4h0M66.1 222.5h0M68.7 217.0h0M70.9 234.4h0M80.0 215.6h0M84.5 239.3h0M98.6 212.8h0M79.4 211.1h0M100.7 209.2h0M65.8 226.4h0M105.1 217.4h0M100.8 212.8h0M108.0 220.3h0M104.4 238.3h0M105.3 215.5h0M72.4 243.3h0M103.8 240.1h0M109.2 224.8h0M103.1 210.5h0M104.9 236.2h0M101.2 241.5h0M105.6 238.2h0M100.2 242.8h0M87.0 203.4h0M68.4 214.4h0M108.9 224.7h0M102.0 240.2h0M92.8 247.5h0M107.6 217.9h0M65.1 219.3h0M104.5 214.8h0M98.3 241.5h0M108.0 221.8h0M100.0 244.4h0M108.3 232.0h0M97.9 244.8h0M107.2 230.8h0M106.3 235.6h0M91.2 248.2h0M107.4 220.2h0M106.9 219.0h0M98.6 244.1h0M92.2 205.3h0M90.0 246.9h0M91.7 204.2h0M102.4 235.8h0M88.3 203.5h0M108.3 222.2h0M107.5 221.4h0M100.8 243.4h0M103.6 213.3h0M107.3 221.2h0M97.0 242.6h0M108.1 221.3h0M88.3 203.8h0M107.7 219.3h0" fill="none" stroke="#4a54c2" stroke-width="1.25" stroke-linecap="round" opacity="0.7"/>
</g>
<circle cx="86.3" cy="226.0" r="23.950000000000003" fill="none" stroke="#a9adc4" stroke-width="0.5"/>
<circle cx="86.3" cy="226.0" r="25.85" fill="none" stroke="#0c0c10" stroke-width="1.5"/>
<circle cx="141.4" cy="226.0" r="25.85" fill="#f6f6fc"/>
<g filter="url(#soft2)">
<path d="M153.5 231.4h0M153.8 226.3h0M141.7 206.6h0M121.6 229.8h0M120.8 232.5h0M134.7 220.5h0M126.7 219.5h0M130.9 223.6h0M138.0 216.5h0M137.9 236.8h0M140.4 235.8h0M141.8 207.0h0M158.7 229.4h0M157.8 234.8h0M127.1 235.4h0M142.9 205.5h0M136.2 214.5h0M156.1 235.9h0M119.9 221.3h0M148.8 219.2h0M124.8 236.4h0M121.5 237.2h0M156.3 227.3h0M153.9 207.1h0M129.7 225.6h0M130.4 218.9h0M136.9 213.2h0M147.8 242.6h0M143.6 209.9h0M126.7 216.3h0M139.6 225.7h0M126.3 241.6h0M120.9 224.5h0M145.7 224.7h0M139.2 209.9h0M152.3 226.2h0M125.6 226.7h0M150.9 215.9h0M144.9 211.5h0M162.9 218.0h0M152.5 243.9h0M151.6 234.8h0M152.9 215.9h0M143.0 226.2h0M162.9 224.2h0M154.6 223.0h0M134.9 244.1h0M158.5 231.5h0M147.1 234.3h0M141.9 214.7h0M160.4 224.7h0M126.3 215.0h0M142.9 248.7h0M162.8 231.5h0M123.7 222.3h0M127.5 222.0h0M148.3 237.9h0M133.1 216.0h0M146.9 207.4h0M148.4 227.3h0M151.1 212.1h0M152.7 238.6h0M122.8 220.0h0M119.2 229.2h0M163.2 228.0h0M137.6 212.3h0M148.5 231.3h0M135.9 207.8h0M134.8 224.8h0M154.5 235.6h0M151.2 233.9h0M152.3 227.8h0M121.6 219.3h0M154.1 227.1h0M136.1 235.5h0M140.8 226.4h0M145.9 237.1h0M149.3 216.0h0M133.9 207.1h0M136.1 211.6h0M134.8 241.5h0M133.2 235.9h0M137.5 230.0h0M129.8 217.0h0M154.0 231.0h0M156.5 232.5h0M119.6 218.9h0M151.6 240.3h0M144.3 214.9h0M124.4 231.2h0M153.3 236.1h0M159.7 213.4h0M143.6 224.5h0M131.7 208.5h0M136.9 236.4h0M135.3 213.7h0M152.7 219.3h0M154.3 211.5h0M126.7 239.0h0M157.4 214.4h0M139.8 233.8h0M124.6 214.7h0M132.8 218.7h0M130.3 209.9h0M126.4 238.3h0M130.8 205.8h0M163.9 228.6h0M140.1 217.5h0M148.6 238.2h0M128.1 214.3h0M122.8 236.8h0M123.7 223.2h0M135.0 205.7h0M145.0 231.6h0M120.5 229.9h0M154.7 215.3h0M152.4 241.0h0M153.2 209.7h0M143.7 230.5h0M130.4 228.6h0M132.6 244.1h0M143.4 208.5h0M158.3 216.2h0M149.4 238.3h0M134.3 247.9h0M130.6 231.5h0M155.1 207.8h0M133.2 235.5h0M139.3 230.4h0M139.2 223.2h0M162.4 225.3h0M128.0 237.7h0M145.4 219.1h0M132.1 206.6h0M119.7 224.0h0M141.4 227.2h0M144.2 249.0h0M134.3 237.2h0M154.6 232.2h0M141.7 242.4h0M148.9 227.5h0M163.7 228.5h0M143.1 215.4h0M138.2 236.7h0M124.8 226.4h0M138.4 208.0h0M158.7 230.4h0M156.3 228.9h0M154.6 230.8h0M152.7 241.8h0M160.2 237.3h0M163.8 224.8h0M160.9 231.1h0M143.9 204.1h0M163.1 232.4h0M139.3 248.9h0M163.1 231.9h0M149.8 243.5h0M150.2 244.8h0M158.7 237.1h0M160.2 214.0h0M158.8 213.7h0M154.1 245.1h0M158.7 237.1h0M157.8 211.7h0M155.0 211.4h0M159.6 214.2h0M162.8 220.3h0M127.9 208.2h0M155.1 208.6h0" fill="none" stroke="#5d68cc" stroke-width="0.9" stroke-linecap="round" opacity="0.7"/>
<path d="M153.5 231.4h0M120.8 232.5h0M138.0 216.5h0M158.7 229.4h0M136.2 214.5h0M124.8 236.4h0M129.7 225.6h0M143.6 209.9h0M120.9 224.5h0M125.6 226.7h0M152.5 243.9h0M162.9 224.2h0M147.1 234.3h0M142.9 248.7h0M148.3 237.9h0M151.1 212.1h0M163.2 228.0h0M134.8 224.8h0M121.6 219.3h0M145.9 237.1h0M134.8 241.5h0M154.0 231.0h0M144.3 214.9h0M143.6 224.5h0M152.7 219.3h0M139.8 233.8h0M126.4 238.3h0M148.6 238.2h0M135.0 205.7h0M152.4 241.0h0M132.6 244.1h0M134.3 247.9h0M139.3 230.4h0M145.4 219.1h0M144.2 249.0h0M148.9 227.5h0M124.8 226.4h0M154.6 230.8h0M160.9 231.1h0M163.1 231.9h0M160.2 214.0h0M157.8 211.7h0M127.9 208.2h0" fill="none" stroke="#4a54c2" stroke-width="1.25" stroke-linecap="round" opacity="0.7"/>
</g>
<circle cx="141.4" cy="226.0" r="23.950000000000003" fill="none" stroke="#a9adc4" stroke-width="0.5"/>
<circle cx="141.4" cy="226.0" r="25.85" fill="none" stroke="#0c0c10" stroke-width="1.5"/>
<circle cx="197.5" cy="226.3" r="25.85" fill="#f3f3fb"/>
<g filter="url(#soft2)">
<path d="M199.1 207.7h0M188.8 231.9h0M187.3 205.8h0M178.2 235.7h0M214.0 230.1h0M202.4 241.9h0M181.0 212.5h0M176.1 223.2h0M193.6 233.7h0M178.3 230.6h0M196.3 222.0h0M197.6 238.0h0M176.3 230.1h0M196.8 231.2h0M214.9 213.3h0M198.1 221.8h0M196.8 236.1h0M204.6 222.1h0M205.1 234.1h0M200.1 216.3h0M210.3 225.0h0M191.5 218.1h0M191.9 247.2h0M208.9 226.1h0M194.2 230.8h0M202.4 239.8h0M180.1 224.0h0M192.1 233.8h0M184.6 221.6h0M184.6 245.3h0M195.1 224.8h0M219.6 220.2h0M179.8 241.0h0M215.1 240.0h0M208.0 245.2h0M187.5 205.9h0M191.4 244.1h0M205.3 223.3h0M204.4 242.2h0M201.1 230.3h0M211.1 227.6h0M188.2 213.5h0M194.5 224.0h0M211.6 236.7h0M199.0 228.5h0M214.9 233.4h0M213.4 222.2h0M207.8 226.7h0M188.8 207.5h0M201.8 241.6h0M214.1 230.2h0M198.1 209.9h0M200.0 215.3h0M189.5 212.5h0M192.5 222.5h0M180.0 231.5h0M199.2 243.5h0M212.4 228.2h0M214.9 219.5h0M175.8 225.5h0M191.7 210.7h0M182.1 241.6h0M182.6 219.9h0M191.2 232.9h0M204.1 243.1h0M177.6 221.5h0M183.8 230.8h0M186.5 222.3h0M215.5 221.9h0M192.4 241.8h0M209.7 207.2h0M190.8 205.6h0M202.4 213.1h0M183.7 234.1h0M214.4 232.0h0M178.0 219.6h0M185.2 245.7h0M196.2 208.7h0M200.7 248.5h0M190.0 209.4h0M201.1 236.0h0M204.9 247.3h0M179.3 233.1h0M190.0 206.7h0M195.0 236.4h0M206.0 224.3h0M212.1 226.3h0M210.1 228.0h0M199.0 211.6h0M201.6 231.3h0M214.2 231.7h0M184.7 240.5h0M206.2 235.1h0M185.0 221.9h0M193.4 215.2h0M197.6 207.4h0M180.9 236.5h0M184.8 244.6h0M196.8 213.9h0M208.4 211.4h0M210.4 211.5h0M212.2 217.5h0M186.3 242.8h0M212.6 218.8h0M193.7 208.6h0M192.3 235.3h0M190.7 219.7h0M178.1 233.0h0M186.3 236.7h0M214.9 222.5h0M187.6 223.7h0M197.4 212.2h0M192.7 204.1h0M202.9 216.8h0M214.6 218.1h0M199.7 230.6h0M197.7 244.1h0M195.9 226.4h0M203.2 224.4h0M206.2 212.4h0M203.9 206.4h0M192.7 212.8h0M187.1 225.1h0M197.2 229.8h0M182.9 242.9h0M196.4 220.6h0M189.1 239.1h0M181.1 223.9h0M202.9 217.5h0M185.6 211.8h0M206.5 227.2h0M210.9 238.6h0M211.3 209.4h0M206.6 211.7h0M183.6 213.4h0M192.6 241.7h0M206.4 236.3h0M182.4 243.3h0M201.6 242.0h0M202.8 228.4h0M179.7 224.5h0M174.7 222.8h0M179.3 229.1h0M203.4 220.5h0M198.5 217.9h0M212.4 212.5h0M201.7 205.2h0M204.0 228.2h0M192.3 229.2h0M205.8 221.1h0M199.7 246.0h0M214.3 239.9h0M187.3 240.0h0M200.7 220.9h0M197.1 240.6h0M194.2 214.2h0M188.2 231.3h0M184.7 218.3h0M196.4 224.8h0M176.4 218.2h0M198.2 237.6h0M198.7 217.5h0M182.6 225.3h0M204.0 238.0h0M203.0 208.7h0M197.6 244.2h0M206.7 226.0h0M196.4 217.9h0M197.0 234.4h0M181.0 217.2h0M193.3 208.9h0M189.3 220.3h0M196.7 234.8h0M204.5 225.5h0M205.9 214.6h0M207.1 214.3h0M216.2 219.2h0M198.3 221.2h0M195.7 222.7h0M186.2 217.2h0M207.2 239.0h0M191.6 241.2h0M191.6 221.0h0M182.7 229.2h0M216.6 214.4h0M195.6 240.2h0M184.8 229.8h0M217.8 219.1h0M206.8 245.4h0M209.0 208.0h0M195.0 227.8h0M194.2 216.9h0M196.0 218.6h0M191.0 223.4h0M188.0 220.3h0M217.5 234.0h0M197.8 207.6h0M189.0 238.3h0M187.4 221.8h0M194.4 219.4h0M204.3 237.2h0M179.6 225.6h0M193.1 209.2h0M177.9 235.6h0M181.5 223.4h0M201.5 246.0h0M217.3 232.8h0M185.8 206.2h0M207.2 212.7h0M192.1 212.9h0M190.7 247.7h0M181.7 238.1h0M204.6 226.7h0M207.5 210.6h0M197.0 208.2h0M206.5 239.9h0M180.0 224.6h0M213.0 224.8h0M191.8 208.3h0M215.9 239.9h0M177.9 237.9h0M206.4 217.2h0M182.2 215.4h0M194.6 214.6h0M201.3 236.1h0M182.5 243.4h0M181.0 235.3h0M206.8 226.0h0M179.7 240.2h0M184.1 241.7h0M219.1 223.4h0M186.5 245.6h0M216.6 238.0h0M200.3 205.7h0M192.6 246.9h0M216.3 237.8h0M215.9 217.2h0M176.0 218.6h0M216.2 218.8h0M176.6 220.2h0M214.9 213.5h0M219.5 231.5h0M220.2 224.3h0M200.1 203.9h0M186.7 206.8h0M217.0 219.1h0M219.9 226.9h0M211.5 210.5h0M180.8 212.0h0M218.0 235.2h0M220.3 223.3h0M200.5 248.4h0M202.6 204.2h0M205.2 208.4h0M215.5 239.4h0M181.2 241.6h0M200.2 248.8h0M212.5 209.2h0M174.6 225.6h0M216.3 215.9h0M218.8 227.2h0M210.4 208.1h0M217.1 220.7h0M219.9 231.1h0M177.3 228.2h0M207.9 206.9h0M219.8 221.3h0M216.3 215.2h0M217.3 217.2h0M196.8 249.1h0M211.3 212.1h0M185.6 243.5h0M207.1 208.9h0M213.5 211.3h0M187.4 245.8h0M212.5 212.0h0M218.5 218.8h0M177.1 216.8h0M220.1 224.0h0M216.7 214.0h0M210.0 243.2h0" fill="none" stroke="#5d68cc" stroke-width="0.9" stroke-linecap="round" opacity="0.7"/>
<path d="M199.1 207.7h0M214.0 230.1h0M193.6 233.7h0M176.3 230.1h0M196.8 236.1h0M210.3 225.0h0M194.2 230.8h0M184.6 221.6h0M179.8 241.0h0M191.4 244.1h0M211.1 227.6h0M199.0 228.5h0M188.8 207.5h0M200.0 215.3h0M199.2 243.5h0M191.7 210.7h0M204.1 243.1h0M215.5 221.9h0M202.4 213.1h0M185.2 245.7h0M201.1 236.0h0M195.0 236.4h0M199.0 211.6h0M206.2 235.1h0M180.9 236.5h0M210.4 211.5h0M193.7 208.6h0M186.3 236.7h0M192.7 204.1h0M197.7 244.1h0M203.9 206.4h0M182.9 242.9h0M202.9 217.5h0M211.3 209.4h0M206.4 236.3h0M179.7 224.5h0M198.5 217.9h0M192.3 229.2h0M187.3 240.0h0M188.2 231.3h0M198.2 237.6h0M203.0 208.7h0M197.0 234.4h0M196.7 234.8h0M216.2 219.2h0M207.2 239.0h0M216.6 214.4h0M206.8 245.4h0M196.0 218.6h0M197.8 207.6h0M204.3 237.2h0M181.5 223.4h0M207.2 212.7h0M204.6 226.7h0M180.0 224.6h0M177.9 237.9h0M201.3 236.1h0M179.7 240.2h0M216.6 238.0h0M215.9 217.2h0M214.9 213.5h0M186.7 206.8h0M180.8 212.0h0M202.6 204.2h0M200.2 248.8h0M218.8 227.2h0M177.3 228.2h0M217.3 217.2h0M207.1 208.9h0M218.5 218.8h0M210.0 243.2h0" fill="none" stroke="#4a54c2" stroke-width="1.25" stroke-linecap="round" opacity="0.7"/>
</g>
<circle cx="197.5" cy="226.3" r="23.950000000000003" fill="none" stroke="#a9adc4" stroke-width="0.5"/>
<circle cx="197.5" cy="226.3" r="25.85" fill="none" stroke="#0c0c10" stroke-width="1.5"/>
<circle cx="85.7" cy="283.3" r="25.85" fill="#f0f0fa"/>
<g filter="url(#soft2)">
<path d="M103.7 294.8h0M77.0 277.0h0M89.0 265.7h0M94.3 267.3h0M82.3 263.1h0M81.7 289.3h0M92.1 278.5h0M64.0 275.2h0M78.7 292.9h0M78.0 290.3h0M85.7 270.6h0M101.8 291.3h0M85.1 293.1h0M106.9 285.5h0M72.7 295.8h0M64.2 285.9h0M102.6 290.9h0M91.6 272.5h0M73.4 288.8h0M75.6 303.5h0M88.4 303.1h0M105.5 288.9h0M103.8 293.3h0M95.6 287.6h0M84.6 295.6h0M88.5 267.0h0M95.2 286.1h0M68.6 292.9h0M75.5 270.8h0M93.7 262.1h0M107.7 276.1h0M105.9 272.1h0M81.6 264.4h0M73.1 276.0h0M93.2 271.0h0M98.5 274.7h0M106.9 286.3h0M84.1 283.5h0M94.3 264.4h0M97.0 272.2h0M91.1 292.7h0M67.2 278.9h0M75.0 279.3h0M99.4 301.7h0M108.2 283.0h0M79.3 282.5h0M88.9 300.3h0M99.1 269.2h0M103.0 297.3h0M76.1 271.4h0M87.6 268.5h0M82.1 282.4h0M105.6 293.6h0M67.5 293.0h0M75.6 293.8h0M102.6 297.4h0M85.4 303.7h0M91.3 294.8h0M102.2 293.5h0M101.7 274.2h0M78.6 274.2h0M93.2 281.0h0M85.7 300.8h0M77.8 273.7h0M79.1 279.0h0M100.2 287.9h0M66.4 273.1h0M63.7 287.9h0M88.1 260.5h0M81.9 268.7h0M73.0 268.7h0M85.4 293.0h0M78.1 298.6h0M98.9 287.6h0M99.5 301.0h0M69.0 288.5h0M95.7 295.3h0M106.3 278.3h0M93.7 278.4h0M99.0 267.2h0M75.8 292.7h0M96.5 276.6h0M84.0 301.9h0M70.3 282.9h0M68.2 292.3h0M83.0 268.0h0M96.9 278.8h0M83.1 297.6h0M102.2 283.5h0M73.8 285.0h0M70.4 288.2h0M70.7 275.0h0M78.0 295.1h0M89.8 278.8h0M92.3 277.9h0M92.9 296.8h0M96.6 282.5h0M104.9 289.7h0M77.3 282.8h0M99.4 272.0h0M82.2 276.3h0M81.9 280.1h0M85.0 300.8h0M108.1 282.3h0M93.5 304.0h0M91.5 279.0h0M95.6 286.9h0M97.5 283.1h0M67.4 278.7h0M73.9 289.9h0M66.5 275.1h0M86.5 287.6h0M64.1 290.3h0M89.6 278.3h0M82.6 261.4h0M87.6 279.9h0M101.3 284.6h0M106.7 276.1h0M78.8 304.9h0M91.2 269.3h0M89.2 291.0h0M81.7 288.7h0M67.5 282.9h0M92.1 282.3h0M100.8 293.4h0M90.8 290.8h0M69.2 273.2h0M87.6 269.4h0M87.2 285.1h0M90.8 264.1h0M100.9 292.3h0M100.7 288.2h0M97.2 263.6h0M67.0 272.5h0M62.9 284.1h0M86.1 286.4h0M62.7 285.5h0M73.4 268.6h0M89.3 264.1h0M84.8 269.7h0M74.0 301.5h0M85.2 300.1h0M87.7 301.9h0M64.2 288.1h0M81.7 292.2h0M89.1 283.5h0M85.1 304.5h0M94.1 283.2h0M91.6 279.9h0M89.2 269.1h0M95.7 291.5h0M103.8 274.7h0M69.6 271.5h0M96.6 271.3h0M100.2 267.9h0M77.1 268.9h0M89.1 279.2h0M84.0 303.1h0M75.8 273.7h0M100.5 295.4h0M101.8 296.1h0M82.9 278.6h0M78.2 303.5h0M67.0 289.1h0M75.5 275.2h0M73.0 271.6h0M94.9 263.9h0M80.1 291.6h0M78.7 279.5h0M91.7 268.0h0M96.1 297.8h0M97.6 294.6h0M83.7 300.5h0M95.9 262.8h0M74.1 286.4h0M65.5 282.9h0M103.5 276.2h0M93.1 270.8h0M103.1 289.8h0M79.2 289.4h0M84.6 296.9h0M94.6 294.6h0M73.9 276.4h0M79.1 298.5h0M79.9 287.1h0M82.4 281.1h0M100.9 269.7h0M101.2 292.7h0M69.1 289.0h0M65.7 286.4h0M66.6 291.1h0M90.6 277.6h0M93.3 285.9h0M98.4 299.0h0M78.2 279.9h0M69.0 284.7h0M93.0 264.0h0M86.1 297.0h0M106.2 288.2h0M72.7 294.5h0M100.5 287.3h0M66.4 273.1h0M93.3 300.8h0M84.1 282.3h0M78.9 296.9h0M106.5 274.9h0M93.0 267.4h0M96.4 262.7h0M67.8 272.8h0M91.7 284.3h0M74.1 299.6h0M101.9 299.7h0M88.4 276.7h0M89.6 284.4h0M101.3 271.7h0M88.2 296.7h0M95.5 291.9h0M81.3 263.7h0M83.7 305.3h0M94.1 279.6h0M74.0 278.2h0M94.2 272.9h0M88.4 267.3h0M83.2 263.4h0M72.0 264.5h0M68.6 277.4h0M100.1 274.0h0M92.1 293.4h0M77.0 279.6h0M89.6 266.4h0M107.3 283.8h0M92.3 282.4h0M101.7 272.0h0M94.0 265.7h0M83.6 261.9h0M85.5 270.8h0M87.4 272.3h0M92.0 279.5h0M93.1 288.4h0M89.7 298.1h0M80.0 279.3h0M68.1 284.8h0M100.8 277.9h0M91.2 272.0h0M90.3 293.6h0M97.4 302.9h0M100.0 274.0h0M108.9 283.4h0M102.6 271.0h0M64.7 281.3h0M101.4 285.2h0M86.5 299.0h0M97.9 302.7h0M94.3 263.7h0M87.1 280.0h0M88.3 305.0h0M68.6 268.0h0M88.4 283.9h0M78.1 277.6h0M104.9 272.2h0M69.7 299.4h0M82.5 303.4h0M88.6 297.9h0M84.1 260.7h0M88.7 288.5h0M101.6 286.1h0M87.6 297.9h0M91.6 267.8h0M106.9 279.0h0M79.9 303.1h0M77.4 298.0h0M96.4 301.3h0M67.8 282.8h0M95.5 278.9h0M92.8 296.4h0M107.7 276.0h0M76.0 300.6h0M93.0 270.1h0M72.1 297.9h0M97.5 297.7h0M88.2 260.5h0M76.0 274.2h0M100.8 266.1h0M89.4 301.5h0M81.6 291.2h0M105.9 290.8h0M92.7 285.9h0M85.2 300.6h0M76.5 282.8h0M94.5 271.2h0M96.8 303.4h0M77.6 301.3h0M70.8 298.4h0M75.7 301.5h0M81.7 261.3h0M91.0 296.1h0M89.2 285.3h0M99.6 300.3h0M78.9 291.2h0M79.8 295.1h0M100.9 298.2h0M102.8 297.9h0M97.0 301.1h0M108.0 288.4h0M103.5 296.3h0M64.4 286.6h0M106.9 284.1h0M104.8 274.0h0M104.2 272.4h0M67.7 269.9h0M74.2 303.1h0M93.5 262.4h0M104.5 292.9h0M102.5 269.3h0M107.4 290.0h0M105.8 272.2h0M93.1 262.9h0M106.4 288.7h0M104.5 294.2h0M105.2 291.9h0M107.7 276.7h0M76.5 263.2h0M64.6 288.1h0M104.5 271.2h0M101.0 268.7h0M98.1 266.1h0M101.4 269.0h0M103.8 269.2h0M104.0 271.1h0M107.4 289.6h0M105.9 292.1h0M108.2 287.3h0M67.5 296.4h0M108.3 287.5h0M108.3 287.1h0M106.3 274.4h0M107.4 281.1h0M78.7 304.1h0M98.5 302.1h0M103.9 274.9h0M104.3 275.9h0M86.5 260.6h0M104.5 293.3h0M63.2 287.8h0M67.4 297.1h0M66.5 293.9h0M71.2 299.2h0M107.3 277.3h0M102.8 269.9h0M100.4 266.2h0M105.1 273.3h0M103.0 297.1h0M108.3 283.5h0M106.3 287.1h0M108.0 280.7h0M107.7 287.2h0M102.3 271.1h0M105.9 276.7h0M105.6 292.8h0M105.3 277.5h0M107.3 287.6h0M63.1 284.8h0M63.4 288.7h0M77.5 262.5h0M105.8 287.0h0M107.8 287.0h0M104.1 296.6h0M103.8 296.3h0M96.7 266.6h0M104.6 293.7h0M100.1 300.3h0M108.1 281.9h0M100.1 272.4h0M105.1 272.8h0M100.4 296.0h0M63.0 286.4h0M64.3 287.3h0M105.3 288.8h0M105.0 271.5h0M103.9 289.1h0M72.1 264.8h0M67.5 295.1h0M105.3 291.5h0M100.2 265.7h0M98.8 299.9h0M106.9 286.5h0M107.5 282.8h0M101.6 299.9h0M107.6 278.3h0M106.2 285.9h0M106.7 280.5h0M103.8 293.9h0M97.2 302.9h0M107.9 280.2h0M98.9 300.0h0M103.0 292.1h0M106.1 290.0h0M106.6 284.2h0M66.2 275.0h0M104.2 274.2h0M98.5 301.9h0M106.3 275.2h0M102.2 298.0h0M90.9 302.8h0M106.2 279.5h0M105.3 274.3h0M107.8 285.7h0M105.8 274.8h0" fill="none" stroke="#5d68cc" stroke-width="0.9" stroke-linecap="round" opacity="0.7"/>
<path d="M103.7 294.8h0M82.3 263.1h0M78.7 292.9h0M85.1 293.1h0M102.6 290.9h0M88.4 303.1h0M84.6 295.6h0M75.5 270.8h0M81.6 264.4h0M106.9 286.3h0M91.1 292.7h0M108.2 283.0h0M103.0 297.3h0M105.6 293.6h0M85.4 303.7h0M78.6 274.2h0M79.1 279.0h0M88.1 260.5h0M78.1 298.6h0M95.7 295.3h0M75.8 292.7h0M68.2 292.3h0M102.2 283.5h0M78.0 295.1h0M96.6 282.5h0M82.2 276.3h0M93.5 304.0h0M67.4 278.7h0M64.1 290.3h0M101.3 284.6h0M89.2 291.0h0M100.8 293.4h0M87.2 285.1h0M97.2 263.6h0M62.7 285.5h0M74.0 301.5h0M81.7 292.2h0M91.6 279.9h0M69.6 271.5h0M89.1 279.2h0M101.8 296.1h0M75.5 275.2h0M78.7 279.5h0M83.7 300.5h0M103.5 276.2h0M84.6 296.9h0M79.9 287.1h0M69.1 289.0h0M93.3 285.9h0M93.0 264.0h0M100.5 287.3h0M78.9 296.9h0M67.8 272.8h0M88.4 276.7h0M95.5 291.9h0M74.0 278.2h0M72.0 264.5h0M77.0 279.6h0M101.7 272.0h0M87.4 272.3h0M80.0 279.3h0M90.3 293.6h0M102.6 271.0h0M97.9 302.7h0M68.6 268.0h0M69.7 299.4h0M88.7 288.5h0M106.9 279.0h0M67.8 282.8h0M76.0 300.6h0M88.2 260.5h0M81.6 291.2h0M76.5 282.8h0M70.8 298.4h0M89.2 285.3h0M100.9 298.2h0M103.5 296.3h0M104.2 272.4h0M104.5 292.9h0M93.1 262.9h0M107.7 276.7h0M101.0 268.7h0M104.0 271.1h0M67.5 296.4h0M107.4 281.1h0M104.3 275.9h0M67.4 297.1h0M102.8 269.9h0M108.3 283.5h0M102.3 271.1h0M107.3 287.6h0M105.8 287.0h0M96.7 266.6h0M100.1 272.4h0M64.3 287.3h0M72.1 264.8h0M98.8 299.9h0M107.6 278.3h0M97.2 302.9h0M106.1 290.0h0M98.5 301.9h0M106.2 279.5h0" fill="none" stroke="#4a54c2" stroke-width="1.25" stroke-linecap="round" opacity="0.7"/>
</g>
<circle cx="85.7" cy="283.3" r="23.950000000000003" fill="none" stroke="#a9adc4" stroke-width="0.5"/>
<circle cx="85.7" cy="283.3" r="25.85" fill="none" stroke="#0c0c10" stroke-width="1.5"/>
<circle cx="141.0" cy="283.6" r="25.85" fill="#f9f9fd"/>
<g filter="url(#soft2)">
<path d="M135.6 287.7h0M133.7 279.3h0M127.7 285.1h0M137.9 274.9h0M147.1 282.3h0M158.4 291.5h0M162.5 281.4h0M145.1 275.5h0M145.0 295.5h0M141.8 293.2h0M136.2 297.1h0M131.7 302.3h0M145.3 276.2h0M121.3 280.9h0M163.0 288.5h0M126.8 277.3h0M122.8 296.1h0M125.8 280.8h0M150.5 280.7h0M119.2 288.5h0M151.9 266.2h0M146.4 276.4h0M133.3 269.0h0M164.0 283.4h0M124.5 296.4h0M131.3 294.9h0M136.8 262.2h0M143.1 273.6h0M161.7 292.7h0M123.8 279.5h0M134.3 262.0h0M138.4 265.5h0M122.5 288.9h0M139.2 266.2h0M154.8 280.6h0M159.5 269.6h0M139.9 268.9h0M127.1 281.0h0M147.5 264.3h0M147.2 296.5h0M153.1 303.2h0" fill="none" stroke="#5d68cc" stroke-width="0.9" stroke-linecap="round" opacity="0.7"/>
<path d="M135.6 287.7h0M147.1 282.3h0M145.0 295.5h0M145.3 276.2h0M122.8 296.1h0M151.9 266.2h0M124.5 296.4h0M161.7 292.7h0M122.5 288.9h0M139.9 268.9h0M153.1 303.2h0" fill="none" stroke="#4a54c2" stroke-width="1.25" stroke-linecap="round" opacity="0.7"/>
</g>
<circle cx="141.0" cy="283.6" r="23.950000000000003" fill="none" stroke="#a9adc4" stroke-width="0.5"/>
<circle cx="141.0" cy="283.6" r="25.85" fill="none" stroke="#0c0c10" stroke-width="1.5"/>
<circle cx="196.4" cy="283.7" r="25.85" fill="#f8f8fd"/>
<g filter="url(#soft2)">
<path d="M178.3 291.6h0M180.4 280.0h0M201.6 274.0h0M212.9 281.2h0M212.6 295.3h0M199.5 306.4h0M192.2 274.1h0M209.2 280.6h0M198.1 283.2h0M190.9 301.3h0M194.1 297.0h0M210.8 294.7h0M203.7 273.2h0M188.4 268.7h0M189.1 261.7h0M182.8 280.4h0M177.0 286.4h0M219.5 283.5h0M194.0 290.5h0M206.4 280.3h0M192.7 275.6h0M176.6 283.5h0M209.7 279.6h0M177.8 293.2h0M188.8 282.8h0M190.3 293.3h0M197.3 265.0h0M210.5 292.2h0M199.5 262.6h0M193.5 266.2h0M173.8 285.7h0M184.9 286.2h0M191.9 297.2h0M186.3 290.4h0M181.0 298.8h0M201.2 290.6h0M197.8 293.2h0M217.5 281.5h0M196.8 282.8h0M187.0 266.2h0M200.2 295.0h0M181.7 282.7h0M182.4 293.1h0M201.0 263.8h0M211.1 268.8h0M203.3 300.7h0M197.2 300.9h0M181.2 300.0h0M180.8 287.3h0M191.8 299.7h0M189.8 279.2h0M212.4 279.1h0M198.6 304.8h0M215.0 289.7h0M180.2 299.3h0M216.2 293.4h0M183.0 269.4h0M184.9 290.4h0M186.2 276.6h0M210.1 273.8h0M198.2 263.7h0M200.7 299.2h0M203.1 287.2h0M217.3 293.4h0M182.2 286.9h0M193.8 273.1h0M201.3 287.8h0M204.2 293.5h0M197.6 299.3h0M185.4 302.7h0M212.1 298.0h0M216.9 292.1h0M212.9 268.2h0M217.1 274.0h0" fill="none" stroke="#5d68cc" stroke-width="0.9" stroke-linecap="round" opacity="0.7"/>
<path d="M178.3 291.6h0M212.6 295.3h0M198.1 283.2h0M203.7 273.2h0M177.0 286.4h0M192.7 275.6h0M188.8 282.8h0M199.5 262.6h0M191.9 297.2h0M197.8 293.2h0M200.2 295.0h0M211.1 268.8h0M180.8 287.3h0M198.6 304.8h0M183.0 269.4h0M198.2 263.7h0M182.2 286.9h0M197.6 299.3h0M212.9 268.2h0" fill="none" stroke="#4a54c2" stroke-width="1.25" stroke-linecap="round" opacity="0.7"/>
</g>
<circle cx="196.4" cy="283.7" r="23.950000000000003" fill="none" stroke="#a9adc4" stroke-width="0.5"/>
<circle cx="196.4" cy="283.7" r="25.85" fill="none" stroke="#0c0c10" stroke-width="1.5"/>
<path d="M64.7 270.2A24.8 24.8 0 0 1 106.0 269.1" fill="none" stroke="#0c0c10" stroke-width="1.5" stroke-linecap="round"/>
<line x1="258.6" y1="183.6" x2="258.6" y2="236.0" stroke="#222" stroke-width="0.8"/>
<line x1="258.20000000000005" y1="235.6" x2="337" y2="235.6" stroke="#222" stroke-width="0.8"/>
<line x1="256.6" y1="235.6" x2="258.6" y2="235.6" stroke="#222" stroke-width="0.6"/>
<text x="255.8" y="237.0" font-size="3.8" text-anchor="end" class="s" style="fill:#333;stroke:#333">0</text>
<line x1="256.6" y1="218.4" x2="258.6" y2="218.4" stroke="#222" stroke-width="0.6"/>
<text x="255.8" y="219.8" font-size="3.8" text-anchor="end" class="s" style="fill:#333;stroke:#333">100</text>
<line x1="256.6" y1="201.2" x2="258.6" y2="201.2" stroke="#222" stroke-width="0.6"/>
<text x="255.8" y="202.6" font-size="3.8" text-anchor="end" class="s" style="fill:#333;stroke:#333">200</text>
<line x1="256.6" y1="184.0" x2="258.6" y2="184.0" stroke="#222" stroke-width="0.6"/>
<text x="255.8" y="185.4" font-size="3.8" text-anchor="end" class="s" style="fill:#333;stroke:#333">300</text>
<line x1="274.45" y1="199.99599999999998" x2="274.45" y2="193.46" stroke="#111" stroke-width="0.9"/>
<line x1="270.84999999999997" y1="193.46" x2="278.05" y2="193.46" stroke="#111" stroke-width="0.9"/>
<rect x="266.9" y="200.0" width="15.1" height="35.6" fill="#111"/>
<line x1="274.45" y1="235.6" x2="274.45" y2="237.6" stroke="#222" stroke-width="0.6"/>
<line x1="297.6" y1="218.4" x2="297.6" y2="215.304" stroke="#2b3fa5" stroke-width="0.9"/>
<line x1="294.0" y1="215.304" x2="301.20000000000005" y2="215.304" stroke="#2b3fa5" stroke-width="0.9"/>
<rect x="290.0" y="218.4" width="15.2" height="17.2" fill="#2b3fa5"/>
<line x1="297.6" y1="235.6" x2="297.6" y2="237.6" stroke="#222" stroke-width="0.6"/>
<line x1="321.0" y1="213.24" x2="321.0" y2="208.07999999999998" stroke="#e8403f" stroke-width="0.9"/>
<line x1="317.4" y1="208.07999999999998" x2="324.6" y2="208.07999999999998" stroke="#e8403f" stroke-width="0.9"/>
<rect x="313.4" y="213.2" width="15.2" height="22.4" fill="#e8403f"/>
<line x1="321.0" y1="235.6" x2="321.0" y2="237.6" stroke="#222" stroke-width="0.6"/>
<text x="298.5" y="176" font-size="12.6" text-anchor="middle">5-8F</text>
<text x="247.2" y="210.3" font-size="7.0" text-anchor="middle" transform="rotate(-90 247.2 210.3)">Clony number</text>
<path d="M274 184.0V180.8M274 182.4H320.6M320.6 180.8V184.0" fill="none" stroke="#222" stroke-width="0.75"/>
<text x="297.3" y="185.59375000000003" font-size="11.5" text-anchor="middle" style="font-weight:normal;stroke-width:0.4">*</text>
<path d="M274 191.6V188.4M274 190H298M298 188.4V191.6" fill="none" stroke="#222" stroke-width="0.75"/>
<text x="286.0" y="193.19375000000002" font-size="11.5" text-anchor="middle" style="font-weight:normal;stroke-width:0.4">**</text>
<line x1="258.6" y1="260.8" x2="258.6" y2="313.5" stroke="#222" stroke-width="0.8"/>
<line x1="258.20000000000005" y1="313.1" x2="337" y2="313.1" stroke="#222" stroke-width="0.8"/>
<line x1="256.6" y1="313.1" x2="258.6" y2="313.1" stroke="#222" stroke-width="0.6"/>
<text x="255.8" y="314.5" font-size="3.8" text-anchor="end" class="s" style="fill:#333;stroke:#333">0</text>
<line x1="256.6" y1="302.72" x2="258.6" y2="302.72" stroke="#222" stroke-width="0.6"/>
<text x="255.8" y="304.12" font-size="3.8" text-anchor="end" class="s" style="fill:#333;stroke:#333">50</text>
<line x1="256.6" y1="292.34000000000003" x2="258.6" y2="292.34000000000003" stroke="#222" stroke-width="0.6"/>
<text x="255.8" y="293.74" font-size="3.8" text-anchor="end" class="s" style="fill:#333;stroke:#333">100</text>
<line x1="256.6" y1="281.96" x2="258.6" y2="281.96" stroke="#222" stroke-width="0.6"/>
<text x="255.8" y="283.35999999999996" font-size="3.8" text-anchor="end" class="s" style="fill:#333;stroke:#333">150</text>
<line x1="256.6" y1="271.58" x2="258.6" y2="271.58" stroke="#222" stroke-width="0.6"/>
<text x="255.8" y="272.97999999999996" font-size="3.8" text-anchor="end" class="s" style="fill:#333;stroke:#333">200</text>
<line x1="256.6" y1="261.2" x2="258.6" y2="261.2" stroke="#222" stroke-width="0.6"/>
<text x="255.8" y="262.59999999999997" font-size="3.8" text-anchor="end" class="s" style="fill:#333;stroke:#333">250</text>
<line x1="274.45" y1="277.1852" x2="274.45" y2="271.58" stroke="#111" stroke-width="0.9"/>
<line x1="270.84999999999997" y1="271.58" x2="278.05" y2="271.58" stroke="#111" stroke-width="0.9"/>
<rect x="266.9" y="277.2" width="15.1" height="35.9" fill="#111"/>
<line x1="274.45" y1="313.1" x2="274.45" y2="315.1" stroke="#222" stroke-width="0.6"/>
<line x1="297.6" y1="297.1148" x2="297.6" y2="291.5096" stroke="#2b3fa5" stroke-width="0.9"/>
<line x1="294.0" y1="291.5096" x2="301.20000000000005" y2="291.5096" stroke="#2b3fa5" stroke-width="0.9"/>
<rect x="290.0" y="297.1" width="15.2" height="16.0" fill="#2b3fa5"/>
<line x1="297.6" y1="313.1" x2="297.6" y2="315.1" stroke="#222" stroke-width="0.6"/>
<line x1="321.0" y1="295.454" x2="321.0" y2="293.5856" stroke="#e8403f" stroke-width="0.9"/>
<line x1="317.4" y1="293.5856" x2="324.6" y2="293.5856" stroke="#e8403f" stroke-width="0.9"/>
<rect x="313.4" y="295.5" width="15.2" height="17.6" fill="#e8403f"/>
<line x1="321.0" y1="313.1" x2="321.0" y2="315.1" stroke="#222" stroke-width="0.6"/>
<text x="297.6" y="253.2" font-size="12.5" text-anchor="middle">HNE1</text>
<text x="247.2" y="287.65" font-size="7.0" text-anchor="middle" transform="rotate(-90 247.2 287.65)">Clony number</text>
<path d="M274 264.1V260.9M274 262.5H320.6M320.6 260.9V264.1" fill="none" stroke="#222" stroke-width="0.75"/>
<text x="297.3" y="265.69375" font-size="11.5" text-anchor="middle" style="font-weight:normal;stroke-width:0.4">**</text>
<path d="M274 269.40000000000003V266.2M274 267.8H298M298 266.2V269.40000000000003" fill="none" stroke="#222" stroke-width="0.75"/>
<text x="286.0" y="270.99375000000003" font-size="11.5" text-anchor="middle" style="font-weight:normal;stroke-width:0.4">*</text>
<text x="276.45" y="318.1" font-size="5.3" text-anchor="end" transform="rotate(-45 276.45 318.1)" style="fill:#222;stroke:#222">si-NC</text>
<text x="299.6" y="318.1" font-size="5.3" text-anchor="end" transform="rotate(-45 299.6 318.1)" style="fill:#222;stroke:#222">si-BIRC2#1</text>
<text x="323.0" y="318.1" font-size="5.3" text-anchor="end" transform="rotate(-45 323.0 318.1)" style="fill:#222;stroke:#222">si-BIRC2#2</text>
<text x="342.3" y="168.2" font-size="24" style="font-weight:normal;stroke-width:0">E</text>
<text x="395.6" y="182" font-size="11.8">si-NC</text>
<text x="453.6" y="182" font-size="11.9">si-BIRC2#1</text>
<text x="521.3" y="182" font-size="11.9">si-BIRC2#2</text>
<text x="351" y="216" font-size="11.4">5-8F</text>
<text x="343.8" y="283.5" font-size="11.3">HNE1</text>
<clipPath id="cpE0"><rect x="377.7" y="191.0" width="67.4" height="50.9"/></clipPath>
<g clip-path="url(#cpE0)">
<rect x="377.7" y="191.0" width="67.4" height="50.9" fill="#7a66bb"/>
<g filter="url(#soft)">
<ellipse cx="435.7" cy="200.2" rx="12.4" ry="12.2" fill="#9c94c4" filter="url(#blur2)"/>
<path d="M387.9 214.2h0M429.4 226.7h0M426.8 213.1h0M431.3 218.1h0M383.5 214.3h0M381.4 238.1h0M441.1 208.2h0M398.7 229.8h0M391.7 200.4h0M390.7 208.8h0M419.8 239.6h0M392.2 239.2h0M415.1 236.5h0M432.5 199.5h0M421.3 197.7h0M378.6 211.2h0M429.6 219.8h0M391.0 233.5h0M438.9 203.3h0M408.0 223.3h0M438.1 197.8h0M415.0 239.8h0M418.6 227.3h0M429.7 216.8h0M397.4 221.0h0M413.3 208.6h0M434.9 209.6h0M410.3 229.5h0M432.2 235.9h0M421.5 204.1h0M434.5 236.9h0M425.7 229.8h0M412.3 216.1h0M416.9 198.8h0M423.1 234.5h0M389.1 229.1h0M425.1 197.5h0M381.6 221.2h0M392.8 207.0h0M419.4 224.0h0M427.9 219.9h0M400.4 192.1h0M385.8 201.1h0M413.1 227.4h0M392.1 211.0h0M440.4 211.5h0M425.6 222.4h0M422.0 215.3h0M414.4 226.5h0M388.9 231.4h0M436.2 193.9h0M391.4 203.9h0M384.5 198.5h0M420.8 197.6h0M382.6 238.7h0M404.9 218.5h0M409.7 208.6h0M408.4 201.2h0M416.7 204.0h0M387.8 201.9h0M405.6 237.9h0M417.9 240.4h0M404.8 204.5h0M425.4 201.0h0M444.5 211.0h0M396.2 205.0h0M398.4 238.2h0M444.1 219.4h0M393.6 192.0h0M383.5 206.4h0M420.9 222.8h0M434.9 232.5h0M401.6 225.1h0M407.7 227.8h0M390.4 240.2h0M379.7 222.3h0M401.6 231.5h0M387.7 236.0h0M378.4 228.2h0M424.9 216.8h0M389.8 210.6h0M407.9 202.1h0M388.9 233.5h0M414.7 205.0h0M419.7 223.1h0M387.2 220.7h0M417.0 197.0h0M398.2 234.6h0M416.6 202.6h0M404.3 214.4h0M425.2 234.5h0M384.0 193.8h0M407.5 192.5h0M388.4 196.8h0M384.1 222.7h0M384.5 219.8h0M442.4 198.5h0M428.6 220.7h0M389.5 238.9h0M427.1 210.4h0M437.2 196.7h0M433.6 233.5h0M385.9 237.2h0M430.3 237.1h0M396.9 228.3h0M430.0 208.9h0M380.5 192.2h0M411.8 218.8h0M386.5 223.0h0M381.7 215.4h0M412.1 201.7h0M381.4 236.6h0M434.8 220.8h0M380.1 217.7h0M442.1 229.8h0M423.9 193.5h0M416.6 203.1h0M443.7 192.0h0M393.0 235.4h0M386.2 206.5h0M398.5 235.5h0M424.4 238.1h0M390.9 195.9h0M401.0 229.7h0M419.3 238.2h0M425.5 195.6h0M399.1 201.7h0M396.0 224.8h0M407.7 229.3h0M379.3 236.8h0M389.0 228.6h0M434.3 193.6h0M414.2 240.2h0M378.7 216.3h0M406.4 210.5h0M391.1 200.5h0M395.9 202.4h0M397.7 236.5h0M441.2 204.5h0M380.0 204.8h0M435.1 200.3h0M422.2 196.1h0M401.6 200.0h0M419.1 210.0h0M429.6 217.4h0M405.0 192.6h0M433.9 193.4h0M411.3 240.8h0M430.7 209.2h0M439.9 204.4h0M416.8 220.2h0M426.1 205.9h0M404.6 207.7h0M439.2 228.3h0M400.8 230.1h0M419.2 203.8h0M411.3 196.4h0M392.2 195.3h0M383.6 222.2h0M433.3 233.2h0M392.8 238.8h0M400.4 226.0h0M417.7 215.3h0M424.0 236.0h0M424.4 216.9h0M435.4 228.7h0M403.1 240.4h0M405.0 193.5h0M442.2 238.5h0M413.7 228.9h0M424.4 196.4h0M431.0 222.8h0M442.3 215.4h0M396.6 229.9h0M414.9 235.0h0M381.0 225.7h0M438.6 200.6h0M384.2 216.0h0M421.6 223.0h0M413.4 208.4h0M425.4 240.8h0M411.8 211.2h0M442.5 200.4h0M415.6 233.4h0M430.7 228.8h0M423.5 213.9h0M442.3 191.6h0M406.3 214.0h0M425.9 205.8h0M391.3 213.9h0M420.4 217.9h0M436.3 215.1h0M391.8 223.5h0M404.1 192.7h0M404.8 197.0h0M420.7 236.6h0M426.9 239.3h0M387.7 233.2h0M428.9 203.5h0M409.6 200.1h0M398.7 217.7h0M404.0 210.9h0M425.4 225.3h0M385.9 220.0h0M429.8 193.1h0M427.8 192.5h0M406.6 210.6h0M379.5 195.2h0M422.7 204.8h0M412.7 199.6h0M419.1 238.2h0M428.2 209.8h0M441.8 209.0h0M396.7 212.6h0M443.6 210.8h0M397.5 218.6h0M420.5 229.4h0M425.3 225.1h0M405.5 213.4h0M443.4 216.2h0" fill="none" stroke="#d2d2dc" stroke-width="0.9" stroke-linecap="round" opacity="0.5"/>
<path d="M428.7 209.4h0M379.0 211.0h0M412.9 211.4h0M392.1 199.5h0M381.5 226.7h0M413.2 232.2h0M435.5 229.1h0M430.9 236.6h0M438.9 232.4h0M437.7 208.9h0M444.4 236.1h0M432.2 233.9h0M427.8 220.2h0M412.6 238.0h0M397.2 223.7h0M440.2 204.7h0M388.6 207.0h0M407.5 216.8h0M393.7 203.6h0M387.9 215.0h0M387.6 209.1h0M389.6 223.1h0M419.4 203.0h0M444.5 205.7h0M438.4 206.5h0M415.5 220.9h0M416.6 208.4h0M430.7 222.6h0M415.4 215.5h0M397.0 211.9h0M427.0 226.9h0M444.3 227.8h0M444.1 207.9h0M396.6 241.3h0M406.5 220.4h0M435.9 197.7h0M386.1 214.8h0M391.5 194.6h0M425.5 219.0h0M408.4 223.4h0M398.5 211.3h0M400.4 223.6h0M408.6 220.4h0M414.7 219.9h0M381.2 230.4h0M438.5 195.0h0M427.5 220.0h0M427.4 192.3h0M380.5 218.7h0M415.0 196.7h0M429.7 196.4h0M437.5 231.2h0M426.3 234.2h0M397.6 222.0h0M379.7 229.0h0M390.3 194.0h0M428.7 194.5h0M420.9 239.4h0M414.1 218.8h0M428.7 228.6h0M411.4 194.1h0M443.6 227.8h0M409.9 224.8h0M394.9 203.1h0M380.8 211.3h0M415.8 196.6h0M390.5 210.9h0M378.2 231.9h0M388.9 236.7h0M416.1 207.0h0M382.9 222.9h0M382.1 208.1h0M444.5 232.9h0M425.3 220.6h0M419.3 228.7h0M436.4 196.4h0M437.7 240.2h0M416.9 208.0h0M381.7 208.7h0M380.6 225.3h0M417.7 228.0h0M435.9 207.2h0M428.0 228.4h0M415.3 194.6h0M435.6 219.0h0M409.1 234.0h0M385.9 193.2h0M422.4 227.2h0M413.4 219.4h0M429.4 232.7h0M421.2 228.1h0M412.0 199.7h0M431.3 193.9h0M389.4 220.0h0M402.6 235.8h0M398.1 216.0h0M390.7 233.6h0M402.2 227.3h0M427.0 213.9h0M385.8 239.6h0M380.6 232.7h0M388.7 212.9h0M407.7 212.7h0M417.3 225.2h0M423.2 194.8h0M402.8 201.0h0M442.5 218.5h0M443.9 202.0h0M423.7 217.5h0M400.1 201.0h0M418.3 235.9h0M411.0 217.3h0M441.0 204.4h0M401.6 235.5h0M383.5 193.3h0M422.2 215.5h0M438.4 219.9h0M396.7 224.6h0M407.7 222.8h0M391.3 194.7h0M438.6 233.5h0M388.2 196.8h0M433.2 226.9h0M408.0 233.8h0M432.5 232.6h0M438.9 231.9h0M378.3 223.4h0M384.5 236.1h0M432.9 221.8h0M407.2 225.8h0M397.9 225.9h0M442.1 193.4h0M404.1 231.7h0M390.1 209.0h0M432.5 220.0h0M395.6 211.5h0M402.4 216.9h0M444.1 203.9h0M399.6 235.9h0M410.6 223.7h0M435.8 196.5h0M390.0 198.6h0M389.9 194.6h0M393.9 237.2h0M437.9 225.7h0M412.4 228.7h0M441.7 205.6h0M426.7 197.8h0M403.5 217.7h0M419.9 201.8h0M405.5 199.8h0M402.2 231.6h0M394.1 207.9h0M418.2 201.0h0M436.8 207.7h0M398.2 207.4h0M408.3 213.9h0M405.1 212.2h0M391.1 194.7h0M435.6 233.2h0" fill="none" stroke="#8c8c98" stroke-width="0.9" stroke-linecap="round" opacity="0.45"/>
<path d="M427.6 215.7h0M386.8 194.1h0M414.3 218.5h0M425.8 224.6h0M412.3 230.8h0M433.4 230.1h0M392.8 204.9h0M388.0 221.4h0M443.7 217.9h0M385.1 221.3h0M387.0 214.7h0M397.6 205.0h0M442.2 231.4h0M383.2 238.8h0M425.2 224.8h0M405.5 229.6h0M396.3 219.6h0M411.6 219.7h0M389.5 191.7h0M420.8 192.5h0M390.4 214.3h0M430.9 200.7h0M429.3 226.2h0M394.5 213.8h0M419.6 230.8h0M436.7 233.7h0M428.6 230.4h0M393.2 215.4h0M418.3 239.5h0M418.0 232.4h0M387.5 218.9h0M398.6 195.8h0M429.5 241.3h0M425.7 229.5h0M419.0 237.0h0M406.3 202.8h0M426.5 201.7h0M442.1 193.7h0M431.6 224.5h0M396.1 225.0h0M408.6 224.4h0M379.8 206.6h0M387.1 208.0h0M415.4 193.1h0M398.0 223.7h0M408.5 192.2h0M408.8 198.6h0M387.7 210.6h0M402.0 195.9h0M418.0 238.5h0M385.8 211.7h0M393.9 239.1h0M429.2 216.5h0M416.0 241.0h0M427.5 218.4h0M396.4 233.8h0M440.6 194.0h0M393.2 205.5h0M392.2 220.5h0M382.1 229.7h0M412.7 201.5h0M416.4 239.6h0M397.2 198.5h0M410.9 207.5h0M430.5 203.8h0M437.3 205.6h0M381.9 223.1h0M426.0 237.9h0M406.5 235.5h0M382.0 205.0h0M392.9 241.1h0M438.0 238.2h0M402.4 220.3h0M444.2 223.7h0M395.9 220.5h0M426.7 227.8h0M383.9 215.4h0M430.8 202.7h0M396.8 207.3h0M436.9 240.3h0M407.6 194.1h0M408.0 209.8h0M444.6 225.4h0M424.2 231.7h0M410.2 207.4h0M381.2 236.6h0M388.3 235.8h0M428.2 211.9h0M411.7 197.2h0M411.8 222.5h0M389.4 226.6h0M444.2 213.4h0M444.0 231.0h0M423.3 234.9h0M401.2 208.3h0M417.9 192.0h0M397.5 212.0h0M433.3 201.7h0M431.8 193.5h0M425.4 219.4h0M428.9 194.0h0M392.0 218.8h0M414.1 228.9h0M382.0 197.1h0M392.5 197.1h0M407.1 213.2h0M415.2 222.8h0M443.7 224.8h0M410.5 229.3h0M438.1 207.0h0M439.3 204.0h0M395.5 193.8h0M378.7 219.1h0M435.5 240.8h0M411.3 236.5h0M382.4 221.3h0M378.7 203.6h0M420.5 230.8h0M387.2 208.1h0M434.9 213.0h0M425.9 223.3h0M405.0 221.1h0M426.2 205.4h0M382.4 239.6h0M380.5 241.0h0M432.5 198.0h0M428.0 219.6h0M424.8 225.0h0M435.9 223.7h0M413.2 216.7h0M440.7 218.1h0M437.3 230.8h0M385.2 191.8h0M421.6 223.8h0M421.9 236.1h0M440.5 230.9h0M384.8 212.3h0M392.6 210.0h0M396.2 238.7h0M440.7 196.4h0M391.1 201.5h0M397.1 218.4h0M412.3 206.3h0M402.4 196.7h0M394.6 192.0h0M418.8 229.3h0M380.4 211.6h0M434.8 224.0h0M415.8 232.3h0M420.2 219.8h0M437.0 213.1h0M434.5 211.3h0M380.3 232.5h0M391.5 218.7h0M426.0 215.5h0M424.4 240.8h0M378.6 205.9h0M382.4 193.1h0M417.4 197.0h0M430.4 219.1h0M426.3 236.3h0M399.4 201.2h0M381.0 193.2h0M413.9 210.8h0M391.4 199.5h0M427.0 234.7h0M401.7 229.8h0M435.7 216.6h0M381.5 197.6h0M441.2 200.5h0M381.7 205.2h0M379.0 226.2h0M434.9 222.7h0M384.4 206.2h0M437.2 227.6h0M427.7 215.7h0M387.7 229.6h0M406.0 201.7h0M391.1 192.3h0M394.4 205.7h0M434.0 214.2h0M397.6 231.2h0M399.2 194.1h0M387.2 217.6h0M383.8 234.8h0M436.2 207.5h0M381.7 215.3h0M386.2 196.4h0M381.2 209.1h0M390.4 223.7h0M413.5 228.5h0M387.3 238.7h0M421.0 211.6h0M440.2 199.4h0M423.8 232.8h0M422.2 193.7h0M426.8 224.2h0M416.7 239.1h0M441.4 234.8h0M415.2 232.7h0M392.3 198.6h0M385.8 235.8h0M413.1 230.9h0M408.6 217.5h0M416.5 200.9h0M391.1 229.2h0M395.8 194.1h0M420.6 241.1h0M408.6 230.6h0M438.7 238.0h0M427.1 214.0h0M402.6 235.1h0M420.6 220.9h0M421.6 217.3h0M394.1 218.8h0M408.6 191.5h0M437.9 238.3h0M434.1 226.3h0M405.7 195.2h0M418.1 227.7h0M418.3 239.3h0M416.6 233.9h0M412.7 231.2h0M399.2 216.8h0M437.7 232.1h0M409.9 199.2h0M383.1 232.4h0M401.5 236.7h0M379.3 237.4h0M422.5 203.6h0M400.1 201.3h0M384.2 222.4h0M398.9 202.2h0M387.2 212.2h0M381.7 227.0h0M422.2 228.5h0M421.4 215.5h0M444.4 204.5h0M388.9 193.9h0M418.7 209.2h0M419.9 193.3h0M436.1 193.9h0M405.7 237.8h0M429.8 207.7h0M395.3 222.0h0M401.2 221.0h0M416.9 220.4h0M380.3 231.8h0M426.2 236.2h0M391.6 205.5h0M378.5 210.9h0M407.4 209.1h0M433.8 226.1h0M437.3 220.4h0M414.7 226.0h0M396.2 234.7h0M392.8 207.4h0M436.9 194.1h0M391.7 198.3h0M384.8 198.9h0M410.1 211.4h0M428.8 233.8h0M425.9 231.4h0M440.1 223.0h0M410.3 203.7h0M405.2 210.3h0M420.8 215.8h0M407.7 233.0h0M391.5 238.3h0M396.1 213.4h0M389.3 205.0h0M412.1 217.3h0M409.3 220.5h0M385.2 234.4h0M386.0 199.5h0M378.7 229.9h0M424.6 224.3h0M395.3 240.8h0M380.0 238.9h0M438.2 220.7h0M410.9 237.0h0M414.8 222.4h0M393.1 238.1h0M393.1 205.7h0M429.9 221.9h0M439.4 219.2h0M410.2 229.1h0M425.5 222.5h0M387.1 207.6h0M436.3 224.3h0M441.0 239.5h0M393.4 215.5h0M439.0 229.6h0M400.3 213.6h0M414.8 204.0h0M380.6 192.0h0M400.7 221.5h0M381.7 193.5h0M429.0 225.2h0M412.7 234.5h0M438.5 194.2h0M399.9 237.9h0M439.2 217.5h0M431.0 205.3h0M423.9 214.1h0M440.8 235.5h0M404.6 237.2h0M414.3 240.4h0M441.3 228.9h0M413.9 214.7h0M390.9 240.9h0M410.1 196.3h0M404.0 214.8h0M431.0 235.9h0M397.2 197.2h0M383.3 206.2h0M396.1 215.2h0M384.2 228.9h0M384.1 232.0h0M437.4 236.6h0M419.1 191.8h0M388.7 227.3h0M420.6 237.3h0M421.8 211.7h0M438.1 228.4h0M394.0 202.9h0M436.1 237.4h0M379.7 225.3h0M429.2 222.1h0M392.0 227.7h0M379.7 221.3h0M391.4 210.3h0M422.6 212.9h0M442.0 223.9h0M385.8 233.4h0M426.0 235.3h0M427.6 218.2h0M378.2 199.2h0M390.3 206.5h0M442.2 198.6h0M402.2 223.1h0M401.4 211.7h0M411.8 241.2h0M419.3 219.6h0M382.4 222.6h0M399.0 200.7h0M412.7 227.8h0M423.7 226.2h0M443.0 209.5h0M431.8 239.9h0M439.2 221.8h0M413.4 240.9h0M401.3 221.8h0M424.5 231.4h0M390.3 207.4h0M417.8 192.6h0M404.5 236.5h0M408.4 205.6h0M394.6 227.2h0M417.3 207.2h0M379.7 231.6h0M410.4 197.1h0M423.2 209.8h0M413.3 220.8h0M412.2 222.3h0M389.2 230.8h0M385.6 232.1h0M396.6 230.2h0M433.2 238.9h0M384.2 226.6h0M396.5 220.4h0M405.1 209.9h0M418.7 222.2h0M410.2 229.7h0M401.8 194.2h0M395.4 223.0h0M420.8 238.9h0M383.3 207.7h0M393.9 211.2h0M431.7 233.8h0M438.0 213.8h0M440.3 226.1h0M397.7 195.6h0M426.7 221.8h0M402.0 236.3h0M380.6 217.8h0M420.8 226.6h0M399.8 222.1h0M387.2 239.1h0M419.4 207.6h0M440.6 235.0h0M421.8 231.1h0M417.8 195.8h0M429.7 239.3h0M417.4 209.2h0M410.4 223.8h0M423.8 231.6h0M385.9 224.6h0M380.7 222.7h0M409.7 213.7h0M440.6 197.7h0M397.0 202.9h0M406.7 236.7h0M391.5 206.8h0M395.4 226.3h0M394.7 225.9h0M440.8 235.0h0M430.8 211.2h0M400.3 202.3h0M430.5 223.9h0M407.0 238.6h0M394.3 218.1h0M421.4 213.7h0M425.2 207.1h0M391.1 205.9h0M437.8 197.6h0M440.4 231.7h0M393.6 201.5h0M386.0 207.7h0M384.8 195.1h0M401.6 205.3h0M438.9 226.1h0M396.9 191.8h0M387.7 199.4h0M426.6 237.9h0M389.8 216.6h0M415.3 221.5h0M390.4 193.4h0M414.8 226.9h0M381.0 199.3h0M442.6 213.7h0M409.7 229.3h0M395.9 193.5h0M441.5 192.4h0M414.6 204.8h0M407.8 193.4h0M416.6 240.9h0M385.5 207.8h0M383.6 196.2h0M429.0 205.1h0M414.5 227.5h0M444.4 204.0h0M437.3 222.8h0M399.3 198.1h0M422.4 237.6h0M386.8 196.0h0M380.3 235.5h0M403.6 234.1h0M404.0 216.1h0M388.2 221.9h0M387.8 238.8h0M413.8 235.2h0M401.5 232.0h0M399.4 240.8h0M427.4 237.4h0M430.1 215.2h0M407.4 194.2h0M444.0 196.3h0M404.2 209.2h0M402.2 240.9h0M420.7 209.3h0M424.3 217.8h0M379.9 230.7h0M415.7 208.3h0M393.1 204.6h0M424.0 237.6h0M410.8 214.4h0M401.0 200.1h0M395.2 227.1h0M409.1 216.2h0M414.0 201.5h0M389.8 221.5h0M433.0 209.3h0M422.6 212.6h0M422.8 238.2h0M384.2 202.0h0M423.2 228.1h0M398.3 234.2h0M435.1 214.3h0M396.6 240.0h0M383.1 231.6h0M408.7 193.4h0M407.3 209.8h0M392.7 237.0h0M389.3 223.1h0M388.0 206.1h0M396.3 199.5h0M400.1 192.7h0M380.0 200.1h0M401.1 204.8h0M403.5 204.5h0M391.1 218.0h0M430.7 215.4h0M395.3 231.9h0M443.8 240.3h0M398.5 193.3h0M403.8 229.9h0M443.7 217.7h0M425.0 216.2h0M383.1 231.0h0M401.4 227.1h0M421.7 236.8h0M420.5 201.2h0M423.8 212.7h0M391.4 222.8h0M402.1 232.0h0M411.6 226.2h0M444.1 213.7h0M436.2 212.6h0M420.3 227.6h0M404.0 210.3h0M421.8 239.3h0M419.3 232.0h0M386.0 200.1h0M379.8 209.3h0M400.3 238.5h0M406.1 203.6h0M393.5 204.7h0M418.6 218.0h0M397.4 226.2h0M424.2 220.5h0M436.5 197.9h0M435.1 237.2h0M423.2 237.2h0M442.6 238.8h0M427.4 200.3h0M434.0 205.7h0M424.5 224.1h0M419.3 215.9h0M419.4 198.4h0M419.7 214.5h0M379.5 208.5h0M435.6 225.9h0M383.7 230.4h0M412.3 229.5h0M416.3 221.6h0M418.6 198.6h0M440.5 240.9h0M404.8 205.7h0M388.9 205.4h0M388.5 231.9h0M443.8 198.2h0M379.2 231.3h0M398.2 196.7h0M428.9 202.9h0M421.2 208.8h0M439.1 215.4h0M437.8 230.1h0M420.0 196.7h0M392.5 219.1h0M382.1 223.8h0M388.2 227.9h0M437.7 231.7h0M436.7 227.4h0M425.1 229.9h0M432.9 232.1h0M420.7 208.3h0M426.8 240.3h0M408.3 213.6h0M407.7 220.2h0M439.9 215.8h0M429.7 226.1h0M378.8 205.7h0M400.0 199.2h0M417.6 208.1h0M386.5 200.8h0M406.4 236.2h0M430.0 230.7h0M380.8 225.4h0M410.2 204.6h0M421.6 224.0h0M422.4 233.1h0M395.3 212.2h0M438.2 221.0h0M421.6 232.2h0M386.3 198.0h0M414.5 198.9h0M398.6 208.5h0M424.7 233.3h0M385.3 231.1h0M414.1 205.6h0M384.8 240.5h0M402.2 230.4h0M382.0 234.9h0M404.1 195.1h0M425.3 221.6h0M398.0 193.5h0M416.2 230.6h0M426.4 236.4h0M407.4 196.6h0M443.8 233.2h0M416.9 212.2h0M382.0 217.8h0M393.9 211.7h0M391.1 230.4h0M412.2 193.0h0M429.9 207.8h0M442.0 237.2h0M403.0 233.2h0M384.7 238.2h0" fill="none" stroke="#3d2c9c" stroke-width="2.3" stroke-linecap="round" opacity="0.96"/>
<path d="M442.4 230.9h0M434.8 200.9h0M407.4 217.0h0M395.6 196.7h0M403.9 215.8h0M397.5 215.5h0M438.5 195.2h0M442.7 212.3h0M381.4 235.8h0M393.7 236.4h0M382.2 199.1h0M403.1 204.4h0M422.9 211.4h0M420.8 223.5h0M407.8 222.6h0M391.2 239.4h0M422.4 218.9h0M386.7 222.7h0M414.2 204.7h0M443.3 237.0h0M390.9 204.5h0M408.7 218.6h0M426.9 206.5h0M436.0 194.6h0M380.8 199.3h0M403.2 192.6h0M398.9 218.9h0M383.8 221.1h0M402.0 219.9h0M400.9 218.7h0M421.9 221.0h0M439.2 222.1h0M426.6 228.5h0M378.9 209.2h0M443.1 204.5h0M410.9 196.1h0M399.5 219.5h0M385.2 199.0h0M392.9 228.5h0M442.3 209.0h0M431.3 232.0h0M387.4 203.6h0M388.6 237.7h0M423.1 225.1h0M414.0 236.9h0M399.7 204.3h0M402.5 232.7h0M401.1 196.3h0M386.7 201.3h0M438.4 234.6h0M392.7 234.9h0M404.0 205.9h0M429.2 238.8h0M405.0 235.3h0M438.9 207.5h0M379.2 203.8h0M440.0 239.0h0M437.3 212.4h0M434.1 222.7h0M421.1 219.1h0M426.4 191.8h0M413.9 229.3h0M381.7 225.2h0M413.7 195.6h0M422.0 214.4h0M391.4 200.7h0M413.8 236.1h0M402.5 208.9h0M426.3 229.6h0M410.2 231.8h0M402.0 231.5h0M399.3 206.4h0M408.8 227.7h0M403.4 193.1h0M415.9 237.2h0M404.4 235.6h0M381.0 214.7h0M391.8 217.1h0M399.9 227.0h0M383.4 205.6h0M437.2 200.3h0M390.6 214.9h0M412.3 212.8h0M415.7 229.1h0M439.1 218.9h0M402.2 234.2h0M403.6 203.7h0M420.9 237.6h0M431.3 239.7h0M386.0 200.6h0M378.4 201.5h0M388.2 225.0h0M411.8 226.1h0M389.2 206.9h0M430.3 197.2h0M422.7 216.9h0M387.1 240.0h0M404.5 210.0h0M389.8 206.2h0M435.1 199.9h0M401.7 195.2h0M415.5 204.0h0M404.1 212.2h0M403.0 207.3h0M396.6 235.8h0M392.3 233.1h0M418.0 219.3h0M395.8 234.6h0M385.9 196.7h0M430.7 215.0h0M414.9 214.3h0M414.9 191.8h0M388.9 210.5h0M411.5 202.6h0M422.9 216.2h0M423.2 240.1h0M436.1 236.7h0M401.2 228.3h0M421.3 206.5h0M431.1 217.8h0M435.7 225.1h0M442.5 224.6h0M399.8 224.1h0M391.0 216.7h0M396.2 219.4h0M425.1 194.7h0M411.7 220.7h0M391.3 223.3h0M406.8 236.7h0M413.3 225.8h0M409.5 215.0h0M414.5 193.3h0M402.9 198.2h0M379.1 240.6h0M423.3 218.0h0M440.9 234.7h0M417.1 208.5h0M388.9 213.6h0M420.1 230.2h0M433.9 233.0h0M411.9 236.7h0M401.6 206.8h0M394.1 238.0h0M390.2 198.2h0M432.7 230.2h0M387.8 209.7h0M392.0 228.8h0M438.3 220.4h0M392.1 200.2h0M440.3 211.8h0M414.9 235.1h0M392.0 192.8h0M398.7 235.2h0M417.2 197.7h0M403.2 208.5h0M427.9 224.7h0M420.0 237.0h0M415.4 194.4h0M388.3 202.7h0M403.6 195.3h0M430.0 224.3h0M403.7 195.8h0M419.5 240.9h0M380.6 199.3h0M438.3 217.2h0M405.9 203.5h0M428.4 239.9h0M406.7 212.2h0M395.1 202.1h0M404.3 232.4h0M442.1 219.1h0M432.0 213.9h0M440.9 233.9h0M386.2 226.8h0M416.9 200.4h0M392.1 231.0h0M393.9 201.1h0M433.3 215.7h0M417.2 237.6h0M387.6 221.4h0M384.4 202.8h0M412.3 208.1h0M398.8 196.5h0M388.3 228.2h0M403.9 215.9h0M405.5 234.5h0M413.8 228.5h0M388.6 211.3h0M385.2 194.1h0M378.5 206.9h0M416.4 196.4h0M415.2 223.8h0M424.3 220.3h0M379.3 238.9h0M382.5 198.0h0M390.9 218.3h0M398.0 221.7h0M442.1 233.9h0M434.1 222.1h0M384.8 233.8h0M410.9 200.7h0M436.5 212.5h0M385.3 208.8h0M436.2 236.3h0M392.3 216.0h0M418.3 208.9h0M408.8 227.5h0M415.4 200.3h0M436.6 216.1h0M420.8 197.6h0M405.9 203.0h0M409.2 230.4h0M385.9 194.6h0M421.5 223.0h0M423.6 226.5h0M392.9 219.7h0M394.3 241.1h0M380.6 218.6h0M395.6 231.0h0M384.3 207.2h0M411.5 222.2h0M414.6 193.9h0M408.1 234.1h0M394.2 217.4h0M416.3 233.1h0M418.4 239.4h0M418.9 218.9h0M421.0 214.3h0M402.0 237.8h0M434.7 237.0h0M401.4 226.8h0M410.2 225.0h0M431.6 218.0h0M397.5 201.7h0M397.5 205.3h0M395.7 222.8h0M383.5 227.9h0M415.3 198.5h0M443.4 200.0h0M387.7 228.6h0M437.0 218.2h0M384.8 197.7h0M433.4 207.0h0M380.0 230.8h0M383.5 216.6h0M413.2 215.8h0M399.6 195.0h0M394.7 197.7h0M394.8 235.2h0M419.7 199.4h0M379.8 224.1h0M436.3 234.7h0M422.3 220.1h0M429.9 217.3h0M383.0 216.8h0M400.2 193.9h0M429.2 219.4h0M378.6 204.2h0M380.9 197.9h0M438.0 203.2h0M416.0 211.0h0M401.1 204.8h0M405.3 221.6h0M425.4 212.1h0M411.3 217.9h0M387.1 195.2h0M400.4 238.6h0M420.3 233.5h0M398.9 211.5h0M383.3 229.8h0M420.8 210.8h0M398.1 224.2h0M434.6 232.6h0M391.8 209.5h0M381.3 200.1h0M401.4 198.6h0M443.2 219.9h0M404.5 202.2h0M398.0 205.6h0M384.9 200.5h0M379.1 223.4h0M388.7 235.1h0M396.1 192.7h0M431.8 214.1h0M431.8 231.0h0M442.1 241.3h0M413.2 208.6h0M382.8 220.1h0M423.6 218.7h0M427.2 235.3h0M434.1 192.6h0M427.6 231.3h0M398.3 202.6h0M432.8 216.3h0M378.2 236.2h0M408.4 223.8h0M394.8 197.4h0M418.3 231.0h0M404.9 231.8h0M380.8 224.9h0" fill="none" stroke="#3d2c9c" stroke-width="1.4949999999999999" stroke-linecap="round" opacity="0.9"/>
<path d="M396.4 218.0h0M419.3 192.0h0M417.1 197.5h0M398.8 205.3h0M418.2 195.0h0M391.5 193.1h0M395.4 224.9h0M397.9 229.4h0M402.8 214.0h0M396.3 205.6h0M379.0 219.7h0M410.7 211.7h0M416.7 220.1h0M384.6 197.1h0M426.7 221.6h0M382.1 230.5h0M431.9 229.2h0M389.4 212.4h0M418.4 240.0h0M389.0 228.4h0M399.4 239.8h0M436.3 196.3h0M407.5 197.4h0M401.3 217.2h0M426.1 198.9h0M387.7 201.2h0M440.8 222.6h0M418.7 199.4h0M439.7 204.5h0M412.7 222.1h0M402.2 204.6h0M418.2 237.6h0M433.8 211.5h0M388.7 225.7h0M421.4 208.9h0M434.0 232.4h0M431.4 197.9h0M419.8 238.1h0M389.9 207.1h0M406.1 205.0h0M392.8 205.2h0M422.3 221.2h0M384.0 230.3h0M379.3 193.3h0M425.6 215.1h0M419.8 215.1h0M387.7 195.7h0M427.6 230.7h0M421.4 229.5h0M440.1 218.6h0M412.9 195.7h0M430.0 219.5h0M394.3 215.0h0M378.8 233.6h0M436.7 219.6h0M402.6 220.2h0M420.3 233.5h0M386.5 211.4h0M429.6 238.6h0M378.2 224.0h0M411.6 235.9h0M379.5 202.6h0M418.5 194.1h0M406.8 232.4h0M405.7 241.3h0M443.5 222.8h0M384.7 205.2h0M399.1 216.3h0M393.8 197.2h0M421.8 213.9h0M422.9 206.6h0M440.0 192.7h0M397.9 196.5h0M414.5 193.0h0M394.8 226.4h0M404.6 193.4h0M395.8 199.2h0M382.2 200.0h0M408.6 221.1h0M429.5 231.0h0M404.1 211.2h0M442.8 238.1h0M433.2 210.8h0M444.1 199.5h0M390.3 219.5h0M444.1 238.2h0M409.6 207.0h0M442.7 225.7h0M387.8 232.0h0M429.1 212.4h0M424.8 228.0h0M395.0 215.3h0M420.3 213.1h0M379.2 218.5h0M388.0 209.1h0M403.7 233.8h0M404.7 223.5h0M401.9 198.1h0M418.6 217.4h0M416.1 241.3h0" fill="none" stroke="#3d2c9c" stroke-width="2.9899999999999998" stroke-linecap="round" opacity="0.95"/>
<path d="M382.7 217.5h0M399.4 221.3h0M383.4 240.1h0M411.4 204.0h0M427.6 238.1h0M433.4 209.9h0M389.7 224.6h0M420.9 202.4h0M440.0 199.5h0M411.4 234.7h0M388.7 225.4h0M402.2 216.8h0M386.3 237.8h0M420.7 240.0h0M378.4 240.0h0M384.1 208.6h0M414.6 210.7h0M430.7 240.8h0M412.1 192.3h0M392.9 232.0h0M434.9 212.1h0M441.0 237.2h0M410.9 223.6h0M382.9 228.3h0M409.1 206.7h0M436.9 236.4h0M387.4 224.9h0M442.1 198.4h0M379.6 203.4h0M438.5 199.9h0M391.4 223.7h0M444.6 215.0h0M389.7 214.4h0M401.3 192.7h0M422.8 219.5h0M394.7 192.3h0M409.2 211.0h0M401.3 203.7h0M431.3 215.0h0M426.4 226.7h0M432.8 222.5h0M390.7 224.8h0M395.1 204.5h0M418.2 202.8h0M427.1 209.3h0M412.7 208.7h0M418.5 239.9h0M414.2 227.8h0M421.5 217.6h0M434.2 224.1h0M394.6 216.3h0M416.6 206.4h0M385.5 213.1h0M422.4 234.2h0M407.8 217.4h0M413.8 213.1h0M389.0 226.1h0M430.7 222.0h0M409.0 196.0h0M435.1 239.3h0M393.3 227.5h0M432.9 240.7h0M429.4 208.3h0M437.0 206.9h0M396.4 221.3h0M423.8 237.9h0M429.0 225.7h0M442.2 202.3h0M401.9 195.5h0M424.1 210.7h0M393.5 217.9h0M432.8 202.9h0M442.1 214.2h0M407.7 232.2h0M430.8 226.9h0M413.0 234.5h0M427.2 224.5h0M380.7 217.3h0M424.3 203.6h0M417.5 196.9h0M405.2 211.0h0M429.2 235.7h0M398.7 193.0h0M411.7 236.6h0M425.3 207.3h0M383.2 214.4h0M423.6 204.5h0M429.3 206.2h0M405.5 233.7h0M385.4 219.1h0M399.5 210.4h0M423.5 228.7h0M404.3 220.6h0M385.1 220.9h0M418.8 223.4h0M439.4 234.5h0M441.5 212.8h0M391.8 224.7h0M416.9 213.6h0M407.9 211.9h0M427.5 225.6h0M420.5 216.6h0M422.9 236.1h0M424.6 233.8h0M433.4 232.2h0M409.9 205.6h0M440.5 211.9h0M437.8 207.0h0M419.8 195.4h0M379.4 232.5h0" fill="none" stroke="#a99cd8" stroke-width="1.0" stroke-linecap="round" opacity="0.7"/>
</g>
<rect x="434.8" y="238.1" width="8.2" height="2.8" fill="#f6f6f6"/>
<text x="438.9" y="240.3" font-size="2.3" text-anchor="middle" style="font-weight:normal;stroke-width:0">100 μm</text>
</g>
<clipPath id="cpE1"><rect x="448.2" y="191.0" width="67.5" height="50.8"/></clipPath>
<g clip-path="url(#cpE1)">
<rect x="448.2" y="191.0" width="67.5" height="50.8" fill="#a8aab0"/>
<g filter="url(#soft)">
<path d="M487.3 201.2h0M512.9 237.5h0M479.8 224.5h0M463.0 202.5h0M467.9 226.0h0M462.8 239.9h0M453.4 201.1h0M454.6 229.8h0M473.1 215.0h0M470.4 223.2h0M475.6 201.9h0M477.3 206.7h0M456.1 232.5h0M493.9 224.6h0M507.4 211.2h0M473.9 212.6h0M475.6 224.8h0M449.1 214.6h0M484.3 208.7h0M450.2 226.6h0M449.3 219.6h0M458.9 193.2h0M460.7 194.8h0M458.7 225.6h0M497.1 209.6h0M492.1 215.2h0M481.8 235.1h0M469.4 234.8h0M494.7 225.5h0M449.1 195.7h0M450.8 208.7h0M511.6 235.1h0M504.5 197.4h0M495.6 230.1h0M502.5 231.0h0M458.0 200.4h0M501.4 228.3h0M508.0 213.7h0M507.9 198.4h0M512.3 235.5h0M471.1 194.9h0M485.2 225.8h0M472.0 194.4h0M467.2 232.6h0M454.7 238.2h0M465.3 201.7h0M456.2 240.4h0M508.6 207.4h0M455.1 224.0h0M507.7 192.1h0M490.8 234.2h0M479.2 219.9h0M502.2 203.4h0M466.9 224.4h0M485.4 218.2h0M470.9 238.2h0M467.9 225.3h0M508.2 211.5h0M452.3 202.5h0M453.1 198.9h0M456.7 208.6h0M473.3 213.8h0M492.9 225.2h0M494.4 209.6h0M492.8 218.9h0M457.2 218.7h0M469.9 225.2h0M497.6 203.5h0M477.6 214.2h0M468.4 193.5h0M452.0 240.9h0M497.9 213.4h0M493.0 204.9h0M495.9 238.9h0M500.1 214.7h0M514.1 237.4h0M452.6 212.0h0M478.8 205.2h0M489.7 198.6h0M498.4 234.2h0M452.8 226.0h0M466.4 223.3h0M494.7 240.1h0M501.8 208.4h0M497.2 198.8h0M496.2 212.3h0M466.3 203.4h0M463.1 231.2h0M455.1 203.1h0M461.5 199.4h0M497.2 220.7h0M492.9 236.3h0M478.5 193.4h0M461.3 217.2h0M496.3 237.2h0M482.7 202.8h0M488.1 238.0h0M470.8 237.9h0M508.8 220.2h0M480.7 197.9h0M456.0 193.5h0M489.4 227.0h0M514.8 221.5h0M514.8 211.6h0M457.6 194.5h0M467.9 217.9h0M514.3 206.3h0M464.3 227.5h0M474.5 219.3h0M458.8 234.0h0M509.8 229.1h0M510.9 208.1h0M450.9 206.7h0M508.4 214.9h0M462.0 199.0h0M459.6 213.4h0M510.3 235.5h0M499.1 229.2h0M461.4 230.2h0M463.6 217.7h0M450.9 235.9h0M457.2 221.0h0M492.7 223.6h0M494.1 209.9h0M501.4 238.2h0M489.7 240.3h0M505.2 194.3h0M493.4 196.1h0M492.7 210.0h0M505.5 193.7h0M511.6 193.7h0M452.5 191.6h0M457.0 240.6h0M504.2 237.2h0M461.1 225.7h0M501.6 227.7h0M466.6 239.8h0M497.1 225.6h0M467.6 211.3h0M499.1 217.2h0M481.1 237.3h0M476.7 234.3h0M451.8 217.9h0M496.1 192.0h0M495.0 205.7h0M490.3 222.5h0M457.8 238.5h0M464.8 198.3h0M478.1 194.7h0M455.4 229.4h0M455.2 218.5h0M507.6 214.1h0M502.9 232.8h0M459.6 195.3h0M500.9 234.6h0M505.4 227.1h0M482.6 239.2h0M497.9 229.5h0M509.3 194.2h0M498.0 220.6h0M449.5 204.2h0M496.3 217.8h0M486.1 205.8h0M486.4 235.3h0M513.9 219.0h0M497.3 195.8h0M458.0 219.4h0M503.7 197.4h0M458.5 216.4h0M469.0 198.5h0M459.2 212.6h0M501.4 200.0h0M502.3 195.2h0M465.4 224.8h0M449.2 207.5h0M459.0 203.0h0M507.7 199.4h0M496.6 236.8h0M465.1 234.5h0M470.0 230.0h0M487.3 209.0h0M507.6 226.2h0M469.9 220.1h0M468.3 205.7h0M511.1 240.1h0M459.2 237.1h0M496.2 192.1h0M455.9 213.2h0M507.7 235.0h0M465.4 213.7h0M510.2 201.9h0M455.7 212.2h0M494.0 235.0h0M507.0 192.1h0M460.4 197.9h0M488.3 211.7h0M510.0 222.1h0M489.6 225.7h0M462.3 236.1h0M506.0 232.5h0M500.7 200.1h0M452.2 209.7h0M496.4 201.5h0M506.5 234.2h0M495.0 215.6h0M458.7 231.8h0M460.2 216.2h0M499.1 223.1h0M464.4 235.3h0M470.0 212.4h0M477.9 226.4h0M451.3 223.3h0M481.1 231.4h0M473.0 220.0h0M513.0 194.4h0M501.4 214.8h0M468.6 205.2h0M463.2 233.5h0M462.2 239.4h0M483.1 205.7h0" fill="none" stroke="#d2d2dc" stroke-width="0.9" stroke-linecap="round" opacity="0.5"/>
<path d="M500.8 220.4h0M507.5 198.7h0M494.7 192.9h0M460.9 212.2h0M469.5 205.6h0M486.6 228.7h0M476.4 216.8h0M500.7 202.8h0M515.1 192.7h0M473.4 232.6h0M464.3 208.0h0M460.1 240.0h0M507.0 195.5h0M484.5 199.1h0M449.9 202.5h0M495.4 217.8h0M467.8 220.4h0M454.2 208.6h0M455.2 232.5h0M474.1 227.1h0M471.0 212.2h0M487.0 204.4h0M485.1 230.0h0M453.6 201.4h0M450.1 215.8h0M456.0 217.4h0M459.4 217.7h0M467.5 228.8h0M502.9 239.3h0M479.5 235.8h0M506.0 208.2h0M513.9 239.2h0M459.2 228.9h0M494.4 222.2h0M496.0 205.4h0M504.2 227.5h0M460.9 239.6h0M497.5 194.3h0M450.8 199.9h0M492.7 227.5h0M510.6 235.5h0M462.3 201.2h0M454.3 210.9h0M476.9 210.4h0M503.3 222.0h0M502.2 234.4h0M499.6 217.1h0M475.9 218.2h0M479.3 224.8h0M505.4 225.2h0M465.6 219.6h0M479.0 197.6h0M455.7 214.0h0M511.3 226.5h0M452.4 237.1h0M496.9 221.6h0M449.1 206.9h0M470.9 215.5h0M456.9 222.9h0M489.4 223.4h0M481.6 219.3h0M456.2 232.7h0M506.4 233.9h0M499.7 203.6h0M468.2 194.0h0M500.9 234.3h0M511.0 221.4h0M501.8 233.6h0M456.7 194.9h0M507.0 239.8h0M496.3 222.4h0M475.0 234.2h0M467.7 194.2h0M502.1 194.5h0M496.3 223.9h0M456.0 213.2h0M466.8 231.7h0M500.4 207.9h0M459.0 208.6h0M477.9 221.7h0M511.7 207.5h0M458.5 222.7h0M477.0 228.4h0M492.7 218.7h0M503.0 201.3h0M500.8 200.6h0M480.6 219.2h0M484.8 197.1h0M479.2 205.5h0M467.1 212.5h0M476.2 201.8h0M494.3 237.9h0M511.7 200.5h0M464.1 211.8h0M488.2 226.0h0M487.9 216.1h0M515.1 239.4h0M502.1 204.0h0M499.7 193.3h0M511.7 226.4h0M510.2 212.6h0M496.0 204.0h0M510.2 200.4h0M449.3 205.4h0M492.9 218.3h0M502.4 225.5h0M500.6 238.4h0M453.1 196.8h0M467.9 198.2h0M485.4 227.3h0M460.8 216.2h0M465.1 192.3h0M466.3 204.7h0M494.4 239.8h0M453.2 215.9h0M479.6 222.8h0M458.6 239.1h0M467.0 220.3h0M475.8 219.5h0M507.3 222.3h0M471.4 238.9h0M460.4 239.3h0M493.5 203.7h0M514.3 234.6h0M482.5 231.8h0M454.9 205.2h0M480.5 238.5h0M473.3 240.9h0M487.3 227.3h0M500.7 198.1h0M509.8 221.0h0M456.8 199.0h0M501.8 219.5h0M510.4 234.3h0M485.2 212.4h0M499.4 240.2h0M469.1 217.4h0M456.6 193.7h0M452.8 210.2h0M489.8 234.5h0M498.6 239.5h0M465.7 234.0h0M470.0 210.2h0M484.8 241.1h0M479.6 194.4h0M473.1 219.8h0M494.1 199.1h0M467.6 199.8h0M482.8 211.1h0M469.9 216.8h0M498.8 222.2h0M497.5 211.6h0M510.3 197.3h0M453.5 196.3h0M480.7 207.7h0M461.9 191.9h0M501.1 194.4h0M490.7 239.6h0M465.5 220.8h0M507.5 213.3h0" fill="none" stroke="#8c8c98" stroke-width="0.9" stroke-linecap="round" opacity="0.45"/>
<path d="M514.0 233.2h0M494.7 234.9h0M451.8 201.8h0M482.1 240.7h0M500.8 212.4h0M453.1 202.5h0M489.2 199.0h0M473.2 235.3h0M504.4 223.6h0M467.3 205.0h0M484.1 201.1h0M490.6 213.7h0M473.2 231.2h0M471.0 239.3h0M450.5 202.8h0M487.0 222.8h0M501.6 236.4h0M480.5 231.0h0M492.5 199.5h0M472.9 193.8h0M472.8 197.7h0M491.1 235.9h0M496.7 212.1h0M510.7 197.0h0M449.8 205.6h0M473.9 217.5h0M489.5 213.9h0M479.0 226.3h0M498.4 196.2h0M495.1 228.4h0M451.4 222.0h0M474.4 231.7h0M450.7 240.5h0M500.1 234.3h0M499.3 237.9h0M454.0 226.6h0M455.7 218.9h0M497.8 200.5h0M505.1 230.8h0M449.9 227.3h0M491.8 240.0h0M503.0 203.8h0M513.9 241.3h0M490.1 225.7h0M474.5 209.1h0M449.7 210.7h0M492.4 232.3h0M475.1 227.7h0M490.4 228.9h0M458.2 203.4h0M466.2 221.8h0M469.7 217.9h0M472.1 230.6h0M485.6 224.5h0M470.0 235.1h0M479.6 241.2h0M495.8 197.5h0M474.9 219.3h0M479.6 235.6h0M454.5 217.9h0M472.9 203.9h0M493.6 211.0h0M511.6 229.8h0M504.0 232.9h0M496.3 232.1h0M496.1 194.8h0M467.5 231.3h0M452.0 214.8h0M476.2 226.7h0M484.8 217.0h0M510.4 216.9h0M495.0 198.7h0M455.0 213.4h0M481.8 230.3h0M496.8 217.4h0M472.4 204.9h0M501.0 230.9h0M501.5 220.1h0M494.7 211.5h0M506.4 235.5h0M453.8 213.0h0M506.0 226.2h0M454.6 204.9h0M489.0 227.3h0M453.1 193.5h0M483.3 226.9h0M511.0 218.1h0M493.7 236.9h0M507.9 200.6h0M450.3 221.4h0M461.7 221.5h0M488.1 240.4h0M467.1 194.5h0M484.3 208.4h0M483.0 236.9h0M475.8 207.5h0M501.9 218.8h0M471.1 215.2h0M448.9 227.5h0M500.0 236.2h0M466.1 228.1h0M455.3 193.4h0M496.6 210.2h0M454.9 238.2h0M473.3 229.3h0M491.1 220.0h0M511.8 229.6h0M484.5 205.4h0M467.1 234.1h0M454.9 231.5h0M451.3 230.8h0M455.0 228.9h0M472.8 205.9h0M500.9 239.9h0M474.2 214.8h0M466.6 210.2h0M514.1 230.8h0M500.4 238.7h0M470.7 205.5h0M478.7 234.0h0M498.5 239.0h0M460.8 235.4h0M475.7 235.4h0M513.0 235.8h0M470.4 203.1h0M467.0 199.5h0M475.7 240.5h0M513.3 226.9h0M460.4 212.5h0M463.8 231.1h0M483.1 209.6h0M460.4 209.5h0M487.3 220.0h0M504.9 237.6h0M497.2 234.6h0M486.1 206.2h0M464.5 210.5h0M469.2 233.6h0M482.3 228.4h0M505.3 233.5h0M496.4 229.0h0M452.5 202.3h0M482.2 241.0h0M477.6 229.3h0M473.8 200.3h0M458.4 222.1h0M470.0 240.1h0M474.8 225.9h0M460.2 230.5h0M458.8 201.8h0M477.8 205.0h0M467.2 211.7h0M487.8 213.4h0M513.0 239.8h0M457.3 238.9h0M453.6 222.6h0M493.0 191.6h0M473.5 221.0h0M475.6 224.7h0M468.4 214.8h0M475.6 195.1h0M483.4 240.1h0M484.1 203.3h0M506.9 240.4h0M491.5 226.2h0M467.6 203.3h0M480.8 202.7h0M509.8 209.2h0M468.0 238.6h0M477.8 203.8h0M455.5 239.0h0M502.3 213.4h0M463.6 205.1h0M454.0 234.5h0M478.3 232.8h0M477.1 211.5h0M483.2 215.5h0M499.5 210.2h0M485.9 199.2h0M451.5 229.5h0M455.9 228.9h0M464.0 239.9h0M477.9 229.7h0M493.6 207.6h0M496.6 238.2h0M500.9 210.5h0M495.7 224.8h0M462.7 225.3h0M457.0 191.7h0M485.7 239.2h0M486.1 199.1h0M507.1 230.2h0M512.1 218.8h0M494.2 238.1h0M471.5 210.2h0" fill="none" stroke="#7d6cc0" stroke-width="5.0" stroke-linecap="round" opacity="0.33"/>
<path d="M514.0 233.2h0M494.7 234.9h0M451.8 201.8h0M482.1 240.7h0M500.8 212.4h0M453.1 202.5h0M489.2 199.0h0M473.2 235.3h0M504.4 223.6h0M467.3 205.0h0M484.1 201.1h0M490.6 213.7h0M473.2 231.2h0M471.0 239.3h0M450.5 202.8h0M487.0 222.8h0M501.6 236.4h0M480.5 231.0h0M492.5 199.5h0M472.9 193.8h0M472.8 197.7h0M491.1 235.9h0M496.7 212.1h0M510.7 197.0h0M449.8 205.6h0M473.9 217.5h0M489.5 213.9h0M479.0 226.3h0M498.4 196.2h0M495.1 228.4h0M451.4 222.0h0M474.4 231.7h0M450.7 240.5h0M500.1 234.3h0M499.3 237.9h0M454.0 226.6h0M455.7 218.9h0M497.8 200.5h0M505.1 230.8h0M449.9 227.3h0M491.8 240.0h0M503.0 203.8h0M513.9 241.3h0M490.1 225.7h0M474.5 209.1h0M449.7 210.7h0M492.4 232.3h0M475.1 227.7h0M490.4 228.9h0M458.2 203.4h0M466.2 221.8h0M469.7 217.9h0M472.1 230.6h0M485.6 224.5h0M470.0 235.1h0M479.6 241.2h0M495.8 197.5h0M474.9 219.3h0M479.6 235.6h0M454.5 217.9h0M472.9 203.9h0M493.6 211.0h0M511.6 229.8h0M504.0 232.9h0M496.3 232.1h0M496.1 194.8h0M467.5 231.3h0M452.0 214.8h0M476.2 226.7h0M484.8 217.0h0M510.4 216.9h0M495.0 198.7h0M455.0 213.4h0M481.8 230.3h0M496.8 217.4h0M472.4 204.9h0M501.0 230.9h0M501.5 220.1h0M494.7 211.5h0M506.4 235.5h0M453.8 213.0h0M506.0 226.2h0M454.6 204.9h0M489.0 227.3h0M453.1 193.5h0M483.3 226.9h0M511.0 218.1h0M493.7 236.9h0M507.9 200.6h0M450.3 221.4h0M461.7 221.5h0M488.1 240.4h0M467.1 194.5h0M484.3 208.4h0M483.0 236.9h0M475.8 207.5h0M501.9 218.8h0M471.1 215.2h0M448.9 227.5h0M500.0 236.2h0M466.1 228.1h0M455.3 193.4h0M496.6 210.2h0M454.9 238.2h0M473.3 229.3h0M491.1 220.0h0M511.8 229.6h0M484.5 205.4h0M467.1 234.1h0M454.9 231.5h0M451.3 230.8h0M455.0 228.9h0M472.8 205.9h0M500.9 239.9h0M474.2 214.8h0M466.6 210.2h0M514.1 230.8h0M500.4 238.7h0M470.7 205.5h0M478.7 234.0h0M498.5 239.0h0M460.8 235.4h0M475.7 235.4h0M513.0 235.8h0M470.4 203.1h0M467.0 199.5h0M475.7 240.5h0M513.3 226.9h0M460.4 212.5h0M463.8 231.1h0M483.1 209.6h0M460.4 209.5h0M487.3 220.0h0M504.9 237.6h0M497.2 234.6h0M486.1 206.2h0M464.5 210.5h0M469.2 233.6h0M482.3 228.4h0M505.3 233.5h0M496.4 229.0h0M452.5 202.3h0M482.2 241.0h0M477.6 229.3h0M473.8 200.3h0M458.4 222.1h0M470.0 240.1h0M474.8 225.9h0M460.2 230.5h0M458.8 201.8h0M477.8 205.0h0M467.2 211.7h0M487.8 213.4h0M513.0 239.8h0M457.3 238.9h0M453.6 222.6h0M493.0 191.6h0M473.5 221.0h0M475.6 224.7h0M468.4 214.8h0M475.6 195.1h0M483.4 240.1h0M484.1 203.3h0M506.9 240.4h0M491.5 226.2h0M467.6 203.3h0M480.8 202.7h0M509.8 209.2h0M468.0 238.6h0M477.8 203.8h0M455.5 239.0h0M502.3 213.4h0M463.6 205.1h0M454.0 234.5h0M478.3 232.8h0M477.1 211.5h0M483.2 215.5h0M499.5 210.2h0M485.9 199.2h0M451.5 229.5h0M455.9 228.9h0M464.0 239.9h0M477.9 229.7h0M493.6 207.6h0M496.6 238.2h0M500.9 210.5h0M495.7 224.8h0M462.7 225.3h0M457.0 191.7h0M485.7 239.2h0M486.1 199.1h0M507.1 230.2h0M512.1 218.8h0M494.2 238.1h0M471.5 210.2h0" fill="none" stroke="#4f3cac" stroke-width="2.4" stroke-linecap="round" opacity="0.96"/>
<path d="M501.9 234.0h0M502.2 241.1h0M472.8 216.4h0M460.0 201.0h0M512.9 219.1h0M496.4 232.1h0M455.5 223.5h0M500.6 210.5h0M509.1 230.4h0M484.6 220.7h0M505.2 224.1h0M513.7 203.9h0M493.0 220.5h0M460.3 201.9h0M472.1 195.5h0M478.8 202.4h0M457.0 235.9h0M458.9 207.9h0M505.6 192.0h0M454.8 237.5h0M505.9 216.2h0M498.5 198.0h0M498.2 230.7h0M450.5 211.7h0M477.6 240.2h0M508.4 211.6h0M496.2 192.5h0M449.2 205.7h0M463.2 198.5h0M504.3 231.2h0M507.6 240.2h0M456.3 235.3h0M483.4 234.4h0M466.8 220.2h0M451.7 202.7h0M479.0 237.6h0M508.9 236.9h0M504.3 234.6h0M469.9 229.7h0M504.5 221.6h0M497.9 198.2h0M463.7 213.3h0M451.5 214.6h0M509.2 237.0h0M464.9 208.1h0M452.8 221.8h0M451.3 237.0h0M507.9 221.8h0M450.7 233.9h0M480.1 219.9h0M452.7 225.2h0M464.0 215.2h0M490.9 231.9h0M483.2 220.0h0M472.6 218.1h0M487.0 237.1h0M469.1 215.9h0M488.1 237.5h0M477.3 207.4h0M453.8 232.2h0M494.1 240.6h0M505.7 214.1h0M498.3 212.3h0M504.3 237.0h0M495.4 227.5h0M476.4 236.5h0M466.7 217.9h0M502.9 239.5h0M480.0 239.8h0M490.9 213.2h0M476.5 229.4h0M508.8 221.5h0M481.7 229.7h0M513.4 199.7h0M511.4 198.8h0M502.3 233.9h0M509.2 197.9h0M451.0 239.8h0M504.4 225.2h0M478.0 230.4h0M450.9 231.2h0M454.4 192.2h0M489.1 206.5h0M492.5 222.4h0M511.7 234.7h0M467.4 230.0h0M460.4 231.6h0M488.2 211.6h0M494.3 234.2h0M476.1 220.5h0M468.0 195.7h0M497.5 238.2h0M494.7 236.5h0M486.4 235.7h0M464.6 211.8h0M489.0 206.6h0M490.5 226.5h0" fill="none" stroke="#4f3cac" stroke-width="1.56" stroke-linecap="round" opacity="0.9"/>
<path d="M506.3 212.3h0M450.0 192.0h0M489.0 219.1h0M455.5 210.6h0M508.0 219.3h0M494.1 202.7h0M513.9 203.8h0M504.7 209.0h0M500.8 228.4h0M510.7 234.9h0M495.0 194.8h0M473.7 229.6h0M461.1 234.6h0M485.2 231.3h0M487.1 237.2h0M498.6 235.8h0M513.0 222.5h0M481.8 206.1h0M472.6 203.9h0M503.6 201.3h0M452.3 225.7h0M495.5 199.6h0M459.9 238.9h0M504.3 236.3h0M502.6 206.6h0M498.0 238.2h0M508.0 236.1h0M469.1 218.3h0M464.1 207.8h0M496.5 204.4h0M500.6 210.8h0M457.6 210.7h0" fill="none" stroke="#4f3cac" stroke-width="3.12" stroke-linecap="round" opacity="0.95"/>
</g>
<rect x="505.4" y="238.0" width="8.2" height="2.8" fill="#f6f6f6"/>
<text x="509.5" y="240.2" font-size="2.3" text-anchor="middle" style="font-weight:normal;stroke-width:0">100 μm</text>
</g>
<clipPath id="cpE2"><rect x="517.5" y="191.0" width="66.9" height="50.8"/></clipPath>
<g clip-path="url(#cpE2)">
<rect x="517.5" y="191.0" width="66.9" height="50.8" fill="#a6a9b0"/>
<g filter="url(#soft)">
<path d="M527.8 222.2h0M529.2 227.0h0M558.1 210.6h0M558.7 219.7h0M520.8 217.9h0M558.8 217.4h0M576.0 228.1h0M542.9 202.8h0M526.4 231.8h0M563.5 221.8h0M547.1 216.5h0M532.6 217.9h0M527.6 222.4h0M559.5 224.9h0M534.2 196.1h0M539.9 225.7h0M551.6 228.7h0M546.4 211.3h0M577.8 199.8h0M531.7 220.8h0M559.6 213.1h0M554.8 213.4h0M562.1 235.8h0M572.4 223.3h0M549.0 238.7h0M547.5 222.7h0M575.2 225.5h0M543.7 228.5h0M557.6 237.1h0M559.1 218.1h0M582.2 217.8h0M544.3 238.2h0M580.2 200.1h0M522.8 234.2h0M576.2 210.6h0M534.8 225.6h0M580.0 202.1h0M547.5 224.5h0M532.6 212.2h0M527.4 215.4h0M533.2 195.5h0M543.6 199.0h0M525.8 199.0h0M545.5 207.3h0M566.0 212.1h0M534.0 200.9h0M537.6 228.5h0M531.3 214.7h0M571.2 232.8h0M548.5 233.5h0M560.3 202.8h0M524.1 200.0h0M570.1 210.9h0M573.2 239.7h0M578.6 214.9h0M518.5 205.3h0M532.4 223.8h0M564.3 237.4h0M564.5 239.3h0M560.0 215.1h0M573.1 205.1h0M569.3 227.7h0M575.1 194.5h0M530.4 238.8h0M527.4 214.0h0M557.7 215.5h0M575.9 239.1h0M540.5 198.2h0M578.3 214.1h0M534.4 198.4h0M518.6 220.5h0M536.5 219.2h0M578.9 215.6h0M580.8 194.8h0M568.0 229.1h0M581.2 193.0h0M551.4 219.2h0M557.4 215.0h0M536.0 236.5h0M575.9 226.4h0M581.2 219.1h0M523.2 226.1h0M524.9 228.9h0M560.7 201.8h0M528.0 194.9h0M529.7 240.2h0M533.0 235.5h0M526.9 208.4h0M549.1 209.3h0M581.6 203.5h0M549.9 201.7h0M525.2 225.9h0M540.3 215.8h0M563.7 195.9h0M521.6 225.7h0M583.5 192.4h0M547.8 241.0h0M572.9 240.8h0M552.9 239.9h0M521.7 215.0h0M573.9 211.0h0M547.0 213.9h0M543.0 232.0h0M582.1 203.0h0M539.3 231.5h0M567.0 232.1h0M562.9 237.1h0M573.7 223.1h0M536.7 195.7h0M574.7 234.2h0M576.8 204.7h0M566.7 237.8h0M531.6 192.7h0M529.5 202.4h0M562.8 232.4h0M572.0 225.8h0M582.5 239.9h0M547.0 237.4h0M565.4 203.7h0M556.6 200.0h0M544.3 232.0h0M518.7 218.2h0M546.7 205.6h0M522.3 217.6h0M540.0 196.3h0M544.5 225.3h0M523.2 230.6h0M523.5 214.9h0M542.2 234.2h0M576.8 228.2h0M537.4 207.7h0M572.4 216.9h0M559.9 227.5h0M530.6 210.7h0M580.9 208.0h0M573.9 199.2h0M518.9 216.5h0M536.7 221.2h0M568.7 193.4h0M550.9 210.1h0M577.7 233.5h0M576.3 228.4h0M540.9 222.3h0M553.9 209.8h0M537.1 223.8h0M577.1 203.5h0M541.5 199.4h0M542.1 210.8h0M524.2 223.6h0M540.7 231.7h0M534.0 228.1h0M582.6 199.9h0M542.4 239.9h0M544.6 207.9h0M528.1 232.8h0M539.5 235.3h0M554.8 200.5h0M583.4 236.3h0M567.3 221.4h0M567.7 238.7h0M531.0 203.5h0M568.2 212.3h0M582.9 233.0h0M552.4 199.4h0M558.3 221.5h0M556.2 230.3h0M549.5 236.0h0M557.2 199.5h0M572.1 199.9h0M577.7 237.7h0M530.9 201.5h0M564.3 214.2h0M542.7 228.9h0M540.1 198.0h0M554.3 235.2h0M581.3 196.8h0M567.2 207.6h0M582.0 210.9h0M524.8 208.0h0M552.0 200.3h0M568.7 207.9h0M566.9 203.1h0M550.4 224.3h0M531.6 205.9h0M573.3 211.1h0M541.0 222.3h0M563.6 234.5h0M555.2 234.0h0M576.8 237.7h0M578.6 226.1h0M563.9 210.9h0M525.0 237.4h0M545.3 208.3h0M554.2 229.1h0M572.7 197.2h0M569.7 238.4h0M582.5 238.4h0M555.7 235.8h0M556.9 233.8h0M583.2 210.2h0M526.1 228.9h0M579.8 236.5h0M548.5 213.9h0M526.2 233.9h0M535.9 197.6h0M524.7 237.9h0M545.4 231.0h0M522.6 215.5h0M567.2 229.9h0M530.5 215.5h0M571.6 237.0h0M524.2 220.8h0M576.6 222.4h0M569.7 206.3h0M550.5 192.2h0M570.6 219.5h0M529.9 238.4h0M531.9 193.2h0M565.8 195.5h0M561.4 198.3h0" fill="none" stroke="#d2d2dc" stroke-width="0.9" stroke-linecap="round" opacity="0.5"/>
<path d="M519.5 228.2h0M558.4 224.3h0M564.7 227.2h0M529.6 212.6h0M557.0 234.6h0M560.5 215.8h0M572.0 233.5h0M534.5 200.6h0M518.4 234.9h0M532.0 220.3h0M552.6 224.3h0M579.8 224.2h0M529.3 212.9h0M530.2 210.5h0M566.8 224.0h0M559.4 234.5h0M583.8 204.0h0M564.2 223.7h0M519.8 240.9h0M544.3 225.0h0M533.1 212.6h0M525.8 239.7h0M520.8 195.1h0M565.9 220.2h0M539.3 238.4h0M564.1 213.8h0M564.9 238.2h0M575.5 209.6h0M569.0 202.5h0M543.4 241.0h0M566.4 211.5h0M553.8 213.3h0M564.6 217.5h0M547.9 212.4h0M576.0 231.9h0M534.0 211.3h0M577.3 227.8h0M557.6 222.8h0M531.3 219.8h0M567.2 213.5h0M545.0 213.0h0M557.5 202.4h0M572.1 194.7h0M569.0 217.6h0M534.5 204.0h0M535.8 199.6h0M583.4 205.4h0M523.6 224.3h0M582.3 205.8h0M533.2 220.6h0M539.5 214.4h0M555.7 241.2h0M542.8 209.6h0M564.7 219.9h0M575.8 213.1h0M559.9 216.9h0M557.8 215.9h0M528.7 197.7h0M544.2 241.3h0M551.6 216.4h0M547.5 230.1h0M541.3 210.9h0M540.1 220.0h0M549.6 221.5h0M579.7 208.6h0M559.2 240.9h0M566.9 233.5h0M571.5 201.3h0M559.7 208.7h0M541.4 197.9h0M569.5 237.5h0M574.8 213.2h0M578.5 231.5h0M558.6 231.5h0M569.2 192.1h0M558.9 223.9h0M541.7 231.8h0M566.6 196.0h0M543.5 191.9h0M542.7 197.0h0M518.1 206.4h0M565.2 200.2h0M581.9 200.8h0M572.7 205.0h0M575.7 216.7h0M573.4 213.7h0M536.4 235.6h0M519.3 197.9h0M527.2 219.4h0M568.0 203.7h0M556.3 233.9h0M518.3 229.5h0M527.1 192.8h0M550.5 210.8h0M544.0 223.2h0M519.0 221.6h0M527.6 238.5h0M549.2 202.1h0M552.6 212.0h0M522.7 229.4h0M546.4 233.5h0M568.0 232.6h0M580.8 206.2h0M555.2 219.9h0M558.7 228.6h0M568.3 223.9h0M557.8 218.5h0M527.3 205.0h0M525.9 221.2h0M557.9 202.7h0M542.9 234.6h0M528.3 218.2h0M551.8 215.0h0M536.8 238.9h0M555.0 216.5h0M523.1 193.4h0M548.9 204.7h0M563.1 226.8h0M522.0 210.4h0M538.5 223.8h0M555.3 234.4h0M520.6 215.3h0M565.9 199.7h0M520.7 213.7h0M533.4 193.7h0M574.0 228.4h0M562.2 234.9h0M566.4 213.5h0M568.4 237.8h0M580.3 235.0h0M570.1 239.7h0M580.2 222.9h0M545.7 226.0h0M582.3 196.2h0M546.6 198.4h0M525.0 220.0h0M530.3 196.6h0M556.2 219.1h0M550.7 192.8h0M526.8 218.4h0M522.2 196.9h0M540.5 238.6h0M568.4 235.7h0M569.5 196.6h0M565.6 224.9h0M578.8 194.5h0M529.4 197.9h0M545.9 208.4h0M536.0 230.1h0M579.7 238.2h0M523.1 199.8h0M547.5 229.9h0M568.2 233.3h0M526.2 219.3h0M521.4 225.8h0M572.7 207.2h0M543.1 195.1h0M575.8 208.5h0M536.4 210.5h0M528.4 240.8h0" fill="none" stroke="#8c8c98" stroke-width="0.9" stroke-linecap="round" opacity="0.45"/>
<path d="M579.7 218.6h0M550.1 238.1h0M532.5 225.1h0M550.8 196.3h0M579.4 226.2h0M574.1 200.3h0M581.5 210.0h0M558.0 237.1h0M536.1 226.6h0M583.4 218.9h0M568.1 213.4h0M540.8 192.4h0M575.1 223.4h0M519.4 231.5h0M564.6 239.3h0M523.5 239.0h0M557.0 193.0h0M573.0 199.3h0M572.2 200.6h0M529.3 199.9h0M569.5 210.9h0M564.6 227.5h0M562.3 217.5h0M557.7 222.1h0M549.6 194.0h0M551.2 234.1h0M573.2 216.3h0M563.8 209.3h0M567.3 238.7h0M560.2 231.3h0M533.5 234.7h0M533.0 223.9h0M576.3 197.7h0M551.8 233.4h0M579.3 224.1h0M545.7 219.5h0M551.8 194.8h0M568.4 240.1h0M563.0 230.5h0M572.0 196.5h0M581.2 201.6h0M575.3 220.5h0M554.3 203.0h0M561.8 208.5h0M569.2 220.3h0M570.7 210.6h0M546.2 193.7h0M535.5 192.9h0M551.3 203.9h0M562.7 212.5h0M559.2 196.4h0M576.2 209.4h0M559.7 196.6h0M539.1 219.6h0M555.3 193.0h0M524.6 192.1h0M543.1 195.7h0M570.8 232.6h0M551.6 219.6h0M519.5 239.3h0M536.3 217.8h0M572.3 236.4h0M524.1 240.0h0M567.8 239.7h0M557.2 231.7h0M572.2 224.8h0M553.5 229.5h0M561.9 234.8h0M540.1 211.4h0M564.9 192.2h0M528.4 224.0h0M536.2 193.2h0M578.2 216.4h0M550.3 222.0h0M558.5 226.3h0M541.2 210.6h0M546.8 197.9h0M575.3 224.9h0M549.4 229.4h0M550.9 226.1h0M540.6 240.7h0M543.2 191.9h0M540.0 235.1h0M565.0 193.0h0M531.0 219.5h0M522.2 240.0h0M545.8 217.9h0M573.1 239.6h0M569.7 196.7h0M579.0 200.1h0M566.2 194.7h0M544.7 234.7h0M569.1 212.8h0M556.8 237.7h0M568.3 220.0h0M574.3 197.7h0M518.6 197.8h0M519.5 231.7h0M564.0 240.2h0M565.4 222.1h0M523.0 194.7h0M529.3 225.6h0M560.4 194.3h0M563.0 202.8h0M527.6 225.9h0M570.9 239.9h0M520.3 192.4h0M564.3 201.2h0M571.2 205.8h0M568.4 194.5h0M581.5 240.4h0M571.5 238.2h0M537.4 230.4h0M535.0 221.9h0M579.1 198.4h0M576.4 206.6h0M552.1 238.7h0M580.2 225.8h0M573.6 214.5h0M521.4 210.3h0M557.6 240.0h0M531.0 233.2h0M562.4 224.9h0M524.5 196.5h0M549.0 223.9h0M529.9 217.1h0M568.0 205.1h0M549.6 230.3h0M545.2 196.8h0M518.6 215.1h0M562.5 234.9h0M581.8 221.3h0M554.3 231.3h0M577.8 237.7h0M577.2 236.7h0M561.3 213.8h0M547.8 240.0h0M520.9 232.0h0M519.1 202.1h0M555.7 196.5h0M564.9 239.3h0M575.7 238.6h0M574.2 211.6h0M520.5 223.0h0M574.6 202.0h0M540.2 240.7h0M544.0 234.0h0M561.2 224.4h0M566.5 228.7h0M519.9 224.5h0M564.6 219.8h0M551.2 213.3h0M537.9 205.8h0M549.8 231.3h0M579.5 237.0h0M530.0 193.1h0M523.3 224.5h0M540.9 204.4h0M582.5 213.1h0M555.5 225.3h0M557.8 197.8h0M540.3 221.6h0M538.1 208.8h0M563.7 234.3h0M567.5 204.7h0M547.4 199.2h0M571.8 217.2h0M566.9 211.4h0M538.3 209.3h0M520.8 230.5h0M557.5 229.5h0M550.8 236.1h0M578.9 240.5h0M541.4 229.8h0M534.8 192.2h0M557.1 237.4h0M519.4 193.9h0M539.7 199.2h0M581.7 203.0h0M581.4 222.6h0M523.3 207.9h0M577.9 223.8h0M578.6 209.1h0M566.7 203.1h0M578.7 240.4h0M541.9 215.9h0M519.4 196.8h0M547.9 238.1h0M528.1 192.6h0M525.4 220.4h0M579.4 205.2h0M546.8 228.4h0M520.8 230.2h0M561.8 226.3h0M560.7 205.9h0M534.4 237.9h0M560.3 215.8h0M548.7 229.6h0M536.6 218.6h0M577.5 229.0h0M577.7 227.9h0M525.0 236.0h0M527.3 211.9h0M575.0 198.8h0M559.6 193.7h0M571.4 221.4h0M562.6 239.5h0M553.8 236.3h0M573.6 192.6h0M575.9 237.3h0M518.3 238.8h0M565.1 233.9h0M543.7 215.0h0M521.0 193.0h0M579.6 196.7h0M536.7 224.8h0M530.7 192.9h0M567.0 214.2h0M550.2 228.0h0M577.1 217.2h0M575.5 199.2h0M576.0 236.1h0M537.9 225.2h0M574.4 224.2h0M523.6 219.9h0M565.9 216.2h0M557.8 235.2h0M522.0 236.4h0M527.7 194.6h0M573.5 234.7h0M521.8 226.7h0M565.6 205.8h0M577.1 213.2h0M556.2 231.3h0M547.9 233.2h0M525.7 222.0h0M546.5 219.4h0M564.2 192.6h0M550.8 198.7h0M521.7 219.3h0M521.1 240.2h0M567.2 197.6h0M554.3 229.0h0M521.2 237.9h0M571.3 191.5h0" fill="none" stroke="#7d6cc0" stroke-width="5.0" stroke-linecap="round" opacity="0.33"/>
<path d="M579.7 218.6h0M550.1 238.1h0M532.5 225.1h0M550.8 196.3h0M579.4 226.2h0M574.1 200.3h0M581.5 210.0h0M558.0 237.1h0M536.1 226.6h0M583.4 218.9h0M568.1 213.4h0M540.8 192.4h0M575.1 223.4h0M519.4 231.5h0M564.6 239.3h0M523.5 239.0h0M557.0 193.0h0M573.0 199.3h0M572.2 200.6h0M529.3 199.9h0M569.5 210.9h0M564.6 227.5h0M562.3 217.5h0M557.7 222.1h0M549.6 194.0h0M551.2 234.1h0M573.2 216.3h0M563.8 209.3h0M567.3 238.7h0M560.2 231.3h0M533.5 234.7h0M533.0 223.9h0M576.3 197.7h0M551.8 233.4h0M579.3 224.1h0M545.7 219.5h0M551.8 194.8h0M568.4 240.1h0M563.0 230.5h0M572.0 196.5h0M581.2 201.6h0M575.3 220.5h0M554.3 203.0h0M561.8 208.5h0M569.2 220.3h0M570.7 210.6h0M546.2 193.7h0M535.5 192.9h0M551.3 203.9h0M562.7 212.5h0M559.2 196.4h0M576.2 209.4h0M559.7 196.6h0M539.1 219.6h0M555.3 193.0h0M524.6 192.1h0M543.1 195.7h0M570.8 232.6h0M551.6 219.6h0M519.5 239.3h0M536.3 217.8h0M572.3 236.4h0M524.1 240.0h0M567.8 239.7h0M557.2 231.7h0M572.2 224.8h0M553.5 229.5h0M561.9 234.8h0M540.1 211.4h0M564.9 192.2h0M528.4 224.0h0M536.2 193.2h0M578.2 216.4h0M550.3 222.0h0M558.5 226.3h0M541.2 210.6h0M546.8 197.9h0M575.3 224.9h0M549.4 229.4h0M550.9 226.1h0M540.6 240.7h0M543.2 191.9h0M540.0 235.1h0M565.0 193.0h0M531.0 219.5h0M522.2 240.0h0M545.8 217.9h0M573.1 239.6h0M569.7 196.7h0M579.0 200.1h0M566.2 194.7h0M544.7 234.7h0M569.1 212.8h0M556.8 237.7h0M568.3 220.0h0M574.3 197.7h0M518.6 197.8h0M519.5 231.7h0M564.0 240.2h0M565.4 222.1h0M523.0 194.7h0M529.3 225.6h0M560.4 194.3h0M563.0 202.8h0M527.6 225.9h0M570.9 239.9h0M520.3 192.4h0M564.3 201.2h0M571.2 205.8h0M568.4 194.5h0M581.5 240.4h0M571.5 238.2h0M537.4 230.4h0M535.0 221.9h0M579.1 198.4h0M576.4 206.6h0M552.1 238.7h0M580.2 225.8h0M573.6 214.5h0M521.4 210.3h0M557.6 240.0h0M531.0 233.2h0M562.4 224.9h0M524.5 196.5h0M549.0 223.9h0M529.9 217.1h0M568.0 205.1h0M549.6 230.3h0M545.2 196.8h0M518.6 215.1h0M562.5 234.9h0M581.8 221.3h0M554.3 231.3h0M577.8 237.7h0M577.2 236.7h0M561.3 213.8h0M547.8 240.0h0M520.9 232.0h0M519.1 202.1h0M555.7 196.5h0M564.9 239.3h0M575.7 238.6h0M574.2 211.6h0M520.5 223.0h0M574.6 202.0h0M540.2 240.7h0M544.0 234.0h0M561.2 224.4h0M566.5 228.7h0M519.9 224.5h0M564.6 219.8h0M551.2 213.3h0M537.9 205.8h0M549.8 231.3h0M579.5 237.0h0M530.0 193.1h0M523.3 224.5h0M540.9 204.4h0M582.5 213.1h0M555.5 225.3h0M557.8 197.8h0M540.3 221.6h0M538.1 208.8h0M563.7 234.3h0M567.5 204.7h0M547.4 199.2h0M571.8 217.2h0M566.9 211.4h0M538.3 209.3h0M520.8 230.5h0M557.5 229.5h0M550.8 236.1h0M578.9 240.5h0M541.4 229.8h0M534.8 192.2h0M557.1 237.4h0M519.4 193.9h0M539.7 199.2h0M581.7 203.0h0M581.4 222.6h0M523.3 207.9h0M577.9 223.8h0M578.6 209.1h0M566.7 203.1h0M578.7 240.4h0M541.9 215.9h0M519.4 196.8h0M547.9 238.1h0M528.1 192.6h0M525.4 220.4h0M579.4 205.2h0M546.8 228.4h0M520.8 230.2h0M561.8 226.3h0M560.7 205.9h0M534.4 237.9h0M560.3 215.8h0M548.7 229.6h0M536.6 218.6h0M577.5 229.0h0M577.7 227.9h0M525.0 236.0h0M527.3 211.9h0M575.0 198.8h0M559.6 193.7h0M571.4 221.4h0M562.6 239.5h0M553.8 236.3h0M573.6 192.6h0M575.9 237.3h0M518.3 238.8h0M565.1 233.9h0M543.7 215.0h0M521.0 193.0h0M579.6 196.7h0M536.7 224.8h0M530.7 192.9h0M567.0 214.2h0M550.2 228.0h0M577.1 217.2h0M575.5 199.2h0M576.0 236.1h0M537.9 225.2h0M574.4 224.2h0M523.6 219.9h0M565.9 216.2h0M557.8 235.2h0M522.0 236.4h0M527.7 194.6h0M573.5 234.7h0M521.8 226.7h0M565.6 205.8h0M577.1 213.2h0M556.2 231.3h0M547.9 233.2h0M525.7 222.0h0M546.5 219.4h0M564.2 192.6h0M550.8 198.7h0M521.7 219.3h0M521.1 240.2h0M567.2 197.6h0M554.3 229.0h0M521.2 237.9h0M571.3 191.5h0" fill="none" stroke="#4f3cac" stroke-width="2.4" stroke-linecap="round" opacity="0.96"/>
<path d="M557.5 235.2h0M567.1 227.2h0M575.8 199.5h0M576.0 230.8h0M532.1 236.6h0M520.6 198.1h0M583.4 238.7h0M556.1 240.2h0M571.9 234.9h0M518.4 240.2h0M528.9 216.5h0M541.8 192.8h0M574.9 224.2h0M557.5 221.2h0M565.6 215.1h0M575.8 215.0h0M541.9 202.1h0M531.1 194.5h0M565.2 199.7h0M550.9 230.5h0M571.0 223.0h0M553.0 219.7h0M580.2 207.1h0M579.0 228.7h0M534.7 221.5h0M559.3 217.5h0M574.3 237.6h0M561.1 219.4h0M547.3 196.5h0M567.3 205.9h0M558.5 203.8h0M521.9 207.5h0M541.2 233.6h0M574.1 231.7h0M544.4 237.2h0M557.7 193.7h0M521.6 226.7h0M552.9 220.3h0M543.2 197.5h0M578.7 213.4h0M575.9 234.5h0M582.6 228.3h0M563.5 218.0h0M545.7 226.2h0M552.5 225.4h0M549.2 207.4h0M518.8 195.3h0M518.2 235.8h0M558.1 215.8h0M529.1 224.6h0M550.0 232.4h0M557.8 213.6h0M524.6 210.4h0M565.9 238.4h0M520.4 199.4h0M540.7 231.6h0M582.2 224.4h0M568.9 200.5h0M581.4 211.7h0M582.4 237.4h0M548.2 228.1h0M519.7 234.4h0M518.4 207.1h0M560.5 208.5h0M542.8 230.0h0M577.7 210.2h0M569.8 225.6h0M540.6 196.5h0M533.2 236.9h0M533.2 214.3h0M578.0 227.9h0M561.4 220.6h0M573.8 231.3h0M528.8 195.1h0M559.2 209.3h0M565.5 208.0h0M581.8 195.7h0M559.2 204.8h0M546.7 197.7h0M535.5 225.8h0M537.1 215.9h0M542.9 240.4h0M530.3 216.0h0M560.0 230.4h0M537.7 196.2h0M521.4 201.7h0M537.5 199.1h0M542.0 236.7h0M582.7 191.7h0M556.9 237.9h0M577.9 198.2h0M535.7 233.5h0M559.9 217.9h0M524.4 220.4h0M566.0 197.4h0M519.8 225.1h0M561.5 235.2h0M566.6 227.0h0M539.7 227.5h0M572.7 197.6h0M571.3 206.8h0M553.5 198.1h0M569.2 193.1h0M573.5 195.7h0M524.0 238.1h0M573.3 218.1h0M536.5 217.7h0M529.1 210.6h0M557.3 192.0h0M560.1 201.0h0M570.9 221.1h0M570.5 206.6h0M518.0 230.5h0M540.4 198.0h0M566.2 229.0h0M530.0 241.1h0M527.1 230.9h0M583.8 233.0h0M582.1 224.7h0M533.6 210.1h0M548.4 238.4h0M574.9 195.5h0" fill="none" stroke="#4f3cac" stroke-width="1.56" stroke-linecap="round" opacity="0.9"/>
<path d="M543.3 226.0h0M518.2 216.0h0M554.6 213.8h0M528.3 227.2h0M530.3 225.8h0M548.0 226.9h0M582.7 236.7h0M557.1 240.7h0M556.8 218.3h0M559.6 204.0h0M564.0 200.1h0M576.7 224.2h0M562.9 195.2h0M540.0 238.9h0M571.7 231.2h0M577.3 209.8h0M525.3 208.8h0M576.0 224.6h0M545.3 209.7h0M572.9 237.0h0M580.6 208.2h0M571.3 224.6h0M540.5 225.9h0M573.7 229.7h0M549.4 196.6h0M551.0 236.3h0M574.7 233.9h0M550.2 219.0h0M550.5 196.2h0M534.6 240.2h0M525.4 197.4h0M573.7 236.0h0M581.3 200.0h0M519.4 229.1h0M539.7 199.6h0M576.5 224.5h0M527.0 230.4h0M572.3 227.9h0M536.8 219.3h0M529.3 221.7h0" fill="none" stroke="#4f3cac" stroke-width="3.12" stroke-linecap="round" opacity="0.95"/>
</g>
<rect x="574.1" y="238.0" width="8.2" height="2.8" fill="#f6f6f6"/>
<text x="578.2" y="240.2" font-size="2.3" text-anchor="middle" style="font-weight:normal;stroke-width:0">100 μm</text>
</g>
<clipPath id="cpE3"><rect x="377.7" y="259.5" width="67.4" height="50.9"/></clipPath>
<g clip-path="url(#cpE3)">
<rect x="377.7" y="259.5" width="67.4" height="50.9" fill="#b0a4dc"/>
<g filter="url(#soft)">
<path d="M443.2 282.8h0M425.9 296.7h0M392.5 263.9h0M418.2 266.1h0M403.6 304.4h0M436.1 265.9h0M383.7 271.1h0M433.2 261.2h0M393.2 265.4h0M386.7 286.1h0M390.4 280.4h0M426.9 296.1h0M405.8 299.2h0M416.2 301.3h0M394.7 278.4h0M416.7 307.2h0M419.3 283.7h0M394.9 274.0h0M392.5 309.2h0M437.1 304.6h0M413.3 295.3h0M397.9 284.0h0M387.9 281.0h0M395.0 265.0h0M439.3 264.8h0M432.2 294.9h0M384.2 284.2h0M444.3 309.2h0M415.6 298.5h0M425.3 274.6h0M414.7 289.8h0M404.4 300.9h0M407.7 297.4h0M382.5 282.2h0M381.2 292.3h0M436.1 287.1h0M415.7 291.1h0M393.4 279.3h0M416.6 292.2h0M403.4 283.8h0M400.2 287.7h0M423.1 276.4h0M423.7 302.4h0M413.8 308.9h0M398.8 305.9h0M390.3 278.1h0M432.4 261.6h0M419.0 303.5h0M440.9 294.0h0M401.1 276.6h0M420.1 263.3h0M380.1 304.0h0M419.8 268.1h0M406.7 274.4h0M435.9 274.3h0M426.3 297.1h0M399.4 272.6h0M412.8 279.9h0M417.6 276.4h0M431.0 281.0h0M387.2 298.6h0M437.6 294.0h0M414.5 303.5h0M440.2 260.5h0M410.6 260.9h0M400.3 272.1h0M408.8 293.8h0M435.4 273.0h0M379.0 309.9h0M430.1 287.5h0M385.7 262.6h0M440.2 286.4h0M435.3 299.1h0M428.1 300.2h0M395.0 272.3h0M407.0 298.3h0M430.9 297.8h0M416.7 283.8h0M391.1 293.3h0M421.6 285.7h0M426.5 308.9h0M440.9 265.3h0M397.3 290.6h0M424.0 274.2h0M440.0 283.0h0M429.0 262.6h0M396.7 261.1h0M430.7 286.0h0M441.5 290.3h0M399.8 277.8h0M403.1 269.9h0M385.4 292.4h0M399.0 282.6h0M425.3 273.7h0M407.4 276.1h0M399.7 293.2h0M384.7 279.9h0M385.5 293.4h0M398.0 308.2h0M410.3 293.0h0M413.0 300.9h0M424.7 292.0h0M380.3 267.1h0M428.1 280.6h0M443.0 291.7h0M432.9 297.2h0M442.2 292.8h0M440.5 281.2h0M396.0 265.5h0M395.0 304.6h0M421.9 262.2h0M380.0 283.0h0M414.4 278.0h0M379.5 273.1h0M436.4 296.2h0M432.5 273.5h0M422.5 269.8h0M398.2 307.7h0M392.4 274.6h0M392.7 303.3h0M423.8 289.5h0M434.7 283.1h0M439.0 298.8h0M398.1 271.8h0M413.9 282.3h0M430.6 292.5h0M427.5 290.1h0M395.7 297.1h0M443.4 291.8h0M425.4 271.7h0M386.0 282.4h0M417.6 296.3h0M409.7 287.1h0M384.1 262.4h0M386.3 275.9h0M394.4 267.1h0M400.7 276.8h0M432.9 306.7h0M444.2 296.8h0M378.9 271.9h0M444.5 294.7h0M435.2 270.0h0M394.2 264.9h0M413.1 278.3h0M409.5 266.9h0M379.9 279.3h0M439.7 292.6h0M416.2 263.1h0M407.0 278.4h0M420.1 280.1h0M431.4 273.7h0M426.6 260.2h0M387.9 299.8h0M434.9 275.1h0M391.4 308.0h0M417.5 264.5h0M443.9 288.2h0M398.1 285.2h0M402.7 288.8h0M405.7 278.8h0M426.8 275.2h0M433.3 297.3h0M440.8 267.7h0M435.4 295.6h0M390.3 305.5h0M411.6 268.9h0M392.1 309.9h0M431.5 271.7h0M437.5 261.9h0M424.4 291.6h0M435.9 305.3h0M426.8 302.1h0M409.0 306.6h0M406.7 296.3h0M428.1 280.2h0M432.6 295.8h0M388.8 289.3h0M410.5 289.7h0M380.1 295.0h0M404.6 296.8h0M394.2 261.0h0M409.1 291.9h0M429.9 287.0h0M436.7 268.2h0M386.4 280.1h0M421.9 298.2h0M382.5 289.9h0M401.4 286.4h0M384.7 268.0h0M420.5 277.0h0M443.0 285.3h0M401.4 269.3h0M413.1 285.5h0M395.2 308.4h0M412.0 298.6h0M423.6 301.5h0M385.1 308.0h0M417.9 268.2h0M417.7 262.9h0M406.3 264.9h0M381.4 282.5h0M433.9 297.9h0M440.3 298.9h0M419.2 290.0h0M441.9 266.5h0M412.7 287.2h0M379.1 303.7h0M423.3 277.0h0M431.0 283.8h0M426.4 287.4h0M435.3 285.2h0M384.2 298.1h0M393.5 288.5h0M440.2 296.1h0M382.8 301.9h0M442.4 283.2h0M395.1 283.1h0M413.5 262.3h0M434.4 292.1h0M404.8 300.7h0" fill="none" stroke="#d2d2dc" stroke-width="0.9" stroke-linecap="round" opacity="0.5"/>
<path d="M389.7 304.4h0M435.2 283.7h0M385.7 282.4h0M385.2 287.4h0M387.6 286.0h0M405.4 276.1h0M416.9 286.7h0M436.8 282.3h0M416.3 296.3h0M389.1 286.8h0M390.2 284.7h0M412.0 305.2h0M442.1 275.2h0M434.9 278.6h0M394.8 289.8h0M398.3 307.2h0M438.0 261.6h0M443.6 304.3h0M387.3 292.9h0M415.3 267.9h0M425.0 260.5h0M401.1 285.3h0M431.5 280.3h0M397.3 283.4h0M414.0 280.0h0M384.6 301.9h0M391.9 269.3h0M392.7 308.1h0M383.3 291.1h0M416.2 271.4h0M430.2 268.9h0M385.8 261.3h0M422.1 262.6h0M419.1 292.8h0M385.0 308.3h0M387.3 276.3h0M431.3 273.3h0M429.9 294.8h0M428.6 278.7h0M396.5 283.5h0M419.6 261.1h0M384.3 273.6h0M381.6 297.6h0M442.8 285.7h0M400.3 281.2h0M436.3 296.1h0M415.3 291.8h0M438.9 290.9h0M392.2 304.4h0M381.1 267.0h0M391.1 279.1h0M416.4 301.2h0M395.1 303.7h0M444.3 303.6h0M432.2 288.3h0M408.3 267.8h0M403.7 271.2h0M402.2 263.5h0M442.2 280.9h0M384.3 266.3h0M407.9 263.9h0M422.8 275.3h0M420.7 277.0h0M404.0 304.0h0M408.6 305.6h0M423.1 297.3h0M426.9 288.0h0M399.0 294.0h0M380.6 272.3h0M431.6 302.1h0M379.6 299.0h0M408.1 270.6h0M439.2 288.8h0M394.7 305.8h0M382.5 295.2h0M426.5 296.8h0M409.6 275.0h0M392.8 297.9h0M411.4 261.4h0M424.3 296.4h0M430.7 283.7h0M423.5 290.3h0M430.8 273.4h0M392.7 301.9h0M395.5 261.0h0M423.4 299.1h0M435.6 309.1h0M383.2 307.1h0M397.0 266.8h0M397.0 264.5h0M378.6 267.4h0M415.2 263.2h0M428.7 260.1h0M392.8 268.3h0M385.9 260.0h0M412.0 263.4h0M386.0 260.1h0M433.5 267.9h0M405.5 298.6h0M387.8 278.1h0M433.6 291.6h0M387.2 286.0h0M433.7 286.9h0M396.3 270.6h0M438.3 279.6h0M391.2 273.7h0M417.8 302.7h0M422.0 290.3h0M401.5 271.7h0M423.0 277.9h0M398.0 297.1h0M439.2 302.3h0M386.2 298.0h0M414.0 263.3h0M431.9 287.1h0M410.2 263.4h0M415.1 284.0h0M433.1 305.3h0M387.0 305.3h0M404.5 260.8h0M428.1 300.5h0M430.9 267.7h0M427.2 306.4h0M441.5 278.1h0M434.1 265.5h0M437.1 289.3h0M422.1 298.1h0M395.4 271.4h0M382.4 295.6h0M380.4 261.1h0M421.5 284.8h0M444.1 266.8h0M413.5 269.7h0M431.5 307.6h0M442.2 265.7h0M426.8 287.4h0M384.9 281.9h0M426.4 295.9h0M408.5 264.2h0M403.6 276.0h0M401.4 307.5h0M419.1 291.5h0M378.4 277.1h0M429.5 267.7h0M379.5 274.4h0M387.5 288.7h0M399.8 301.0h0M430.1 278.8h0M439.0 303.5h0M440.5 307.9h0M437.6 306.9h0M408.8 309.4h0M396.2 293.0h0M379.4 309.6h0M423.4 262.5h0M442.2 291.7h0M404.8 284.7h0M442.1 305.8h0M386.6 272.1h0M389.9 261.7h0" fill="none" stroke="#8c8c98" stroke-width="0.9" stroke-linecap="round" opacity="0.45"/>
<path d="M387.6 289.2h0M429.5 301.6h0M407.6 297.9h0M429.2 293.3h0M427.4 275.1h0M400.0 265.9h0M424.9 277.2h0M435.6 294.9h0M393.2 305.1h0M388.1 283.4h0M418.6 302.7h0M398.2 272.2h0M396.2 292.5h0M412.5 297.3h0M389.3 268.3h0M396.8 306.1h0M389.9 293.8h0M395.1 272.8h0M404.6 298.4h0M400.5 290.4h0M410.9 274.1h0M389.2 289.1h0M382.4 295.0h0M387.9 304.0h0M405.5 292.2h0M399.7 307.9h0M411.3 281.8h0M432.6 279.5h0M385.1 304.8h0M431.6 289.6h0M421.2 263.0h0M403.1 269.7h0M439.7 298.5h0M407.8 305.0h0M397.4 291.0h0M431.7 279.2h0M431.7 267.9h0M386.7 278.3h0M443.1 297.6h0M387.5 268.3h0M421.9 305.3h0M388.3 264.0h0M424.6 301.3h0M383.8 265.3h0M431.0 277.3h0M387.1 284.5h0M388.5 288.1h0M423.1 273.6h0M391.3 291.7h0M414.4 286.9h0M440.3 276.4h0M401.7 274.5h0M401.6 295.0h0M378.4 267.4h0M427.9 274.8h0M415.1 269.0h0M379.9 273.8h0M412.2 291.7h0M388.4 301.2h0M400.1 289.2h0M405.0 276.6h0M441.3 287.5h0M439.4 263.8h0M382.9 284.1h0M435.3 305.9h0M420.4 292.6h0M397.1 292.7h0M380.8 281.1h0M407.2 304.3h0M437.5 301.9h0M406.9 299.4h0M432.4 304.1h0M432.8 265.2h0M388.0 308.6h0M393.1 283.9h0M435.3 277.2h0M409.6 271.3h0M392.1 303.3h0M400.3 275.6h0M411.4 292.8h0M433.8 278.0h0M432.9 297.1h0M395.4 291.3h0M419.5 293.9h0M395.5 264.2h0M436.2 270.7h0M388.0 303.3h0M441.1 284.3h0M412.1 276.3h0M428.2 286.7h0M400.2 300.5h0M435.2 299.3h0M398.9 294.8h0M408.4 296.2h0M382.1 270.0h0M416.4 261.9h0M423.8 297.3h0M387.2 299.8h0M428.6 308.5h0M401.2 283.7h0M407.6 284.8h0M435.7 264.4h0M415.3 301.7h0M422.9 295.7h0M414.0 285.6h0M383.8 295.0h0M412.8 286.9h0M414.5 308.5h0M411.1 288.2h0M395.6 292.5h0M441.2 287.6h0M392.5 261.0h0M379.1 306.1h0M444.0 292.7h0M392.8 301.4h0M386.1 294.0h0M385.0 270.7h0M385.3 303.5h0M416.1 297.8h0M430.3 300.3h0M432.5 269.1h0M406.2 268.1h0M432.6 295.2h0M395.2 305.9h0M407.2 271.9h0M403.1 291.2h0M417.5 304.1h0M392.0 262.2h0M422.3 289.7h0M425.4 306.0h0M403.9 262.3h0M401.6 260.6h0M387.6 307.4h0M437.9 271.4h0M394.5 293.8h0M402.2 291.7h0M386.0 274.6h0M413.0 263.5h0M389.5 272.5h0M387.8 272.7h0M412.6 302.8h0M398.6 274.7h0M393.9 264.8h0M378.8 266.7h0M425.1 295.4h0M416.0 295.2h0M443.3 301.2h0M436.4 285.6h0M416.9 309.2h0M407.1 286.3h0M402.3 308.5h0M388.5 275.0h0M409.2 286.8h0M430.7 281.5h0M426.5 260.6h0M378.8 307.7h0M401.9 283.8h0M382.5 266.3h0M402.2 282.9h0M406.6 306.5h0M391.7 288.7h0M400.8 269.5h0M391.6 274.7h0M402.7 267.9h0M414.1 280.3h0M389.8 298.6h0M387.2 266.7h0M385.3 290.2h0M383.8 265.0h0M391.9 280.5h0M394.7 279.6h0M431.5 307.7h0M400.1 271.7h0M394.5 306.2h0M437.9 272.5h0M401.0 296.9h0M427.5 291.0h0M438.5 297.8h0M425.8 303.9h0M397.3 290.2h0M435.7 309.0h0M442.3 307.2h0M394.7 269.2h0M412.9 290.6h0M395.8 297.3h0M381.9 282.5h0M411.1 270.1h0M399.6 272.4h0M442.8 283.6h0M383.7 273.8h0M386.1 269.2h0M397.3 297.9h0M400.1 290.2h0M412.3 293.8h0M421.2 300.3h0M438.0 270.0h0M389.1 262.1h0M414.1 289.9h0M380.7 281.0h0M408.5 277.5h0M388.1 268.1h0M386.5 284.5h0M412.8 264.3h0M440.4 280.5h0M413.5 278.7h0M415.6 307.1h0M399.9 284.5h0M414.8 298.2h0M388.7 276.4h0M403.5 274.8h0M422.7 287.5h0M399.8 265.1h0M416.0 280.1h0M380.7 306.2h0M444.5 263.4h0M401.4 278.0h0M436.2 288.8h0M436.4 276.8h0M401.0 286.2h0M421.3 286.2h0M384.7 309.5h0M388.7 303.2h0M432.8 303.6h0M442.8 304.1h0M430.0 272.5h0M407.0 289.5h0M440.8 280.3h0M415.4 298.5h0M412.0 309.4h0M411.5 308.0h0M416.1 288.3h0M379.5 309.5h0M395.4 277.7h0M408.0 296.6h0M405.8 280.6h0M435.6 260.3h0M383.8 286.0h0M412.2 307.1h0M387.8 281.0h0M391.9 298.1h0M392.1 286.3h0M392.8 285.5h0M379.2 307.1h0M391.6 267.7h0M420.7 268.2h0M379.9 267.8h0M416.6 304.0h0M413.8 278.0h0M383.9 292.9h0M405.4 290.6h0M384.1 294.3h0M433.1 271.1h0M433.2 280.7h0M442.1 295.9h0M444.2 308.5h0M435.5 298.6h0M405.4 308.3h0M417.4 283.3h0M400.2 300.5h0M405.0 272.4h0M425.7 267.3h0M440.9 294.5h0M428.4 266.7h0M437.9 264.7h0M417.5 300.7h0M442.0 271.2h0M389.0 292.6h0M432.1 300.2h0M392.0 297.3h0M417.9 291.8h0M406.0 274.3h0M426.1 274.3h0M388.6 265.7h0M380.0 280.5h0M395.7 291.7h0M383.2 271.9h0M429.6 281.5h0M379.1 277.2h0M410.2 302.5h0M381.1 292.4h0M441.8 303.4h0M440.7 291.8h0M398.9 291.2h0M402.6 291.1h0M401.0 287.6h0M423.0 308.8h0M427.4 267.7h0M393.5 263.9h0M407.5 287.6h0M400.7 285.7h0M406.3 293.6h0M416.0 307.4h0M406.9 291.0h0M394.3 306.6h0M392.4 275.5h0M391.7 297.3h0M406.8 277.1h0M400.8 293.8h0M382.5 300.5h0M388.6 270.5h0M403.9 281.2h0M413.7 267.2h0M426.7 300.7h0M394.1 289.6h0M416.7 297.3h0M378.8 307.6h0M413.4 281.8h0M426.9 284.7h0M439.1 290.1h0M411.0 304.8h0M390.8 303.0h0M382.8 271.0h0M398.9 291.9h0M383.3 274.6h0M388.3 260.1h0M397.6 302.1h0M399.8 284.6h0M378.4 271.1h0M379.2 281.5h0M400.9 270.4h0M398.2 296.5h0M423.1 301.8h0M404.3 292.0h0M383.3 270.4h0M401.2 275.8h0M420.5 280.5h0M417.9 308.1h0M396.0 277.7h0M396.5 274.2h0M431.3 301.2h0M386.2 269.7h0M400.4 308.0h0M392.0 262.9h0M402.6 270.0h0M401.0 270.1h0M407.3 295.2h0M426.7 260.1h0M385.9 276.9h0M393.0 302.5h0M398.7 306.2h0M381.9 284.6h0M426.9 292.7h0M428.8 295.6h0M441.9 304.6h0M397.5 295.4h0M441.2 292.0h0M394.7 296.9h0M435.5 289.3h0M410.1 306.2h0M440.3 263.3h0M422.7 309.5h0M404.0 305.4h0M390.1 279.5h0M430.0 290.5h0M438.0 270.0h0M394.6 290.7h0M387.7 288.6h0M417.6 298.0h0M443.8 287.8h0M425.8 272.9h0M392.5 276.7h0M435.2 298.6h0M390.8 266.9h0M429.7 264.2h0M434.8 301.3h0M387.6 287.3h0M397.0 262.1h0M411.6 286.0h0M392.9 290.3h0M397.2 307.2h0M425.0 280.6h0M406.3 280.8h0M441.5 288.5h0M407.7 261.7h0M434.4 293.4h0M401.8 298.0h0M385.1 267.2h0M420.5 264.9h0M382.5 287.7h0M405.7 274.2h0M405.5 280.5h0M387.0 295.6h0M412.7 282.5h0M414.3 304.9h0M385.8 297.1h0M434.0 309.2h0M403.9 292.2h0M441.4 282.5h0M427.4 291.7h0M390.6 297.3h0M380.9 276.4h0M431.8 280.9h0M397.9 271.0h0M393.3 264.4h0M435.7 268.4h0M388.5 274.4h0M396.5 303.9h0M438.5 267.7h0M399.0 301.1h0M395.0 304.6h0M444.2 293.4h0M417.9 304.7h0M391.5 290.5h0M389.0 282.3h0M402.9 267.5h0M395.3 281.5h0M429.6 283.7h0M435.1 292.2h0M424.7 289.7h0M390.2 300.6h0M398.5 264.1h0M414.2 290.0h0M383.7 280.0h0M405.2 262.3h0M410.5 284.7h0M378.6 297.3h0M421.7 280.5h0M413.6 273.6h0M389.8 285.1h0M431.0 302.3h0M409.8 273.2h0M423.4 266.7h0M398.8 292.4h0M423.5 264.4h0M439.9 285.7h0M385.0 290.3h0M392.9 306.9h0M396.4 303.5h0M390.9 304.4h0M424.2 265.2h0M417.2 296.1h0M378.3 283.6h0M443.5 303.7h0M439.2 296.3h0M390.9 300.1h0M432.3 295.6h0M443.3 275.1h0M407.9 299.8h0M425.7 287.5h0M424.8 309.1h0M417.2 308.7h0M429.0 297.9h0M400.7 300.2h0M415.4 264.3h0M409.6 301.1h0M378.3 264.9h0M395.4 267.0h0M444.6 266.2h0M425.6 288.4h0M391.5 297.1h0M417.9 288.8h0M398.7 270.5h0M397.9 306.4h0M415.0 284.0h0M434.6 300.8h0M419.2 268.1h0M402.0 262.1h0M385.4 281.8h0M409.1 266.8h0M378.5 270.4h0M432.0 287.8h0M390.8 281.8h0M387.6 296.6h0M429.3 308.6h0M388.9 286.1h0M386.1 293.7h0M437.4 270.4h0M401.9 293.2h0M438.5 298.0h0M401.6 303.4h0M402.8 281.2h0M385.3 304.2h0M418.0 299.3h0M396.8 281.2h0M390.6 309.7h0M440.2 296.7h0M422.6 306.0h0M436.4 263.9h0M399.6 269.1h0M393.8 285.5h0M410.6 302.9h0M391.9 269.6h0M396.0 263.2h0M407.9 297.8h0M403.1 283.4h0M416.4 275.1h0M440.4 300.6h0M433.5 300.7h0M395.0 266.2h0M431.2 304.9h0M426.7 268.6h0M394.6 281.1h0M433.6 298.2h0M393.2 306.7h0M442.4 304.5h0M385.6 306.3h0M402.7 298.4h0M404.9 300.1h0M437.0 291.2h0M431.3 290.2h0M407.3 263.6h0M385.4 294.7h0M400.3 309.4h0M396.0 275.1h0M393.3 296.4h0M378.8 282.5h0M392.6 275.2h0M400.9 309.1h0M436.8 304.5h0M421.0 294.1h0M432.7 292.9h0M399.9 299.6h0M429.5 277.2h0M417.7 302.7h0M436.4 294.8h0M391.1 291.3h0M405.3 299.4h0M396.4 287.3h0M422.7 296.5h0M382.4 279.5h0M396.3 302.3h0M433.4 262.6h0M440.5 278.9h0M383.3 276.6h0M386.6 291.7h0M399.0 301.8h0M405.6 271.2h0M440.4 264.6h0M390.6 308.1h0M414.7 274.8h0M392.4 271.4h0M384.5 275.0h0M424.4 291.7h0M378.6 283.5h0M395.8 300.1h0M386.6 307.0h0M421.9 276.0h0M382.3 305.4h0M414.8 268.7h0M408.6 286.5h0M441.7 276.4h0M394.8 284.8h0M401.3 295.6h0M402.8 281.2h0M393.0 261.7h0M429.6 309.2h0M408.7 309.7h0M384.7 276.9h0M430.8 295.9h0M436.6 290.5h0M420.4 289.2h0M380.1 272.4h0M439.2 288.6h0M415.6 282.9h0M389.4 280.9h0M383.5 266.4h0M395.5 284.7h0M404.4 268.5h0M426.4 277.8h0M439.5 270.3h0M410.7 282.3h0M404.6 267.3h0M434.2 289.1h0M397.1 270.9h0M419.5 290.4h0M438.0 308.7h0M397.9 308.6h0M399.7 309.5h0M424.6 275.9h0M386.1 277.0h0M403.6 301.9h0M425.4 291.5h0M394.2 309.2h0M438.5 307.8h0M393.4 287.0h0M386.6 278.3h0M423.8 309.8h0M382.9 261.2h0M427.6 286.9h0M418.6 262.4h0M427.0 273.0h0M416.6 271.0h0M425.6 303.2h0M420.7 293.3h0M394.8 282.7h0M403.6 297.1h0M444.0 261.2h0M434.3 260.2h0M432.9 306.0h0M378.3 272.7h0M397.9 276.5h0M422.8 286.2h0M424.6 295.2h0M395.7 300.6h0M391.7 276.3h0M396.4 309.8h0M416.5 274.0h0M444.6 268.4h0M438.7 308.1h0M413.5 280.3h0" fill="none" stroke="#3a28a0" stroke-width="2.3" stroke-linecap="round" opacity="0.96"/>
<path d="M396.3 276.8h0M426.0 291.3h0M399.6 275.9h0M397.3 300.2h0M429.0 260.9h0M398.8 281.2h0M394.6 300.5h0M423.3 305.1h0M437.0 273.6h0M406.1 260.5h0M441.5 305.1h0M437.6 296.2h0M416.3 299.0h0M435.6 281.4h0M420.0 277.8h0M383.6 308.5h0M412.8 261.6h0M441.7 279.1h0M438.8 294.2h0M398.1 292.7h0M432.7 294.7h0M415.3 304.8h0M394.7 281.3h0M412.5 291.7h0M412.4 286.6h0M436.5 306.1h0M416.3 302.9h0M396.2 291.9h0M424.0 291.2h0M414.5 302.9h0M406.7 279.0h0M434.6 280.4h0M417.1 283.5h0M389.1 293.8h0M400.6 262.3h0M435.5 300.0h0M423.6 275.5h0M441.3 280.3h0M420.1 309.8h0M428.5 296.9h0M418.7 284.6h0M421.2 281.3h0M409.5 308.8h0M408.9 290.7h0M386.9 291.3h0M381.3 286.2h0M422.8 269.5h0M399.9 281.7h0M423.8 276.7h0M403.6 286.2h0M379.0 263.4h0M402.7 289.1h0M417.7 295.4h0M423.4 299.8h0M392.1 269.8h0M409.9 304.1h0M393.8 303.8h0M378.4 282.3h0M411.4 302.1h0M411.5 285.8h0M443.7 283.0h0M384.5 273.4h0M383.7 268.5h0M436.0 301.3h0M415.4 264.2h0M431.0 282.4h0M426.2 302.4h0M438.6 272.5h0M435.8 262.9h0M424.7 293.8h0M413.2 291.1h0M416.1 295.1h0M442.0 284.0h0M399.1 266.7h0M395.7 307.5h0M379.5 271.7h0M440.7 307.0h0M399.2 266.4h0M409.2 289.2h0M428.4 308.4h0M437.6 300.5h0M444.2 297.2h0M436.9 267.3h0M398.1 303.5h0M386.3 260.7h0M427.2 288.0h0M409.1 291.0h0M381.2 263.1h0M393.7 270.0h0M425.4 290.2h0M407.3 285.6h0M410.1 302.7h0M379.2 276.3h0M394.4 279.0h0M436.3 266.5h0M396.7 297.9h0M414.6 262.0h0M397.9 288.5h0M418.4 269.7h0M391.6 278.5h0M432.3 289.1h0M399.4 277.6h0M418.1 288.3h0M395.0 275.2h0M430.4 304.0h0M390.5 282.7h0M420.0 288.6h0M429.8 307.6h0M388.8 299.8h0M401.5 283.8h0M410.1 297.3h0M436.6 291.2h0M396.6 279.7h0M397.0 269.8h0M434.1 302.3h0M386.3 302.9h0M393.5 303.1h0M402.3 277.2h0M427.6 307.2h0M421.0 261.7h0M441.5 275.3h0M410.7 260.7h0M432.9 306.3h0M388.0 273.7h0M436.5 291.5h0M422.8 308.3h0M422.9 276.1h0M394.7 291.0h0M385.7 282.5h0M413.2 283.6h0M394.1 264.3h0M417.2 294.5h0M400.0 308.7h0M421.9 278.2h0M411.1 283.7h0M406.9 299.1h0M388.8 294.4h0M431.8 268.3h0M392.8 293.0h0M433.2 307.8h0M407.9 287.3h0M421.8 295.3h0M426.5 267.9h0M432.3 279.0h0M410.9 296.0h0M386.2 295.2h0M420.8 309.0h0M438.5 277.0h0M394.0 306.3h0M402.0 275.2h0M407.2 287.2h0M430.8 307.9h0M432.5 262.4h0M435.3 300.0h0M411.7 299.5h0M442.3 290.9h0M390.2 295.1h0M434.6 277.9h0M406.7 272.6h0M379.6 298.7h0M383.6 303.1h0M406.2 261.1h0M384.2 275.5h0M425.6 282.4h0M404.2 268.5h0M437.6 285.7h0M388.9 269.6h0M430.6 309.3h0M441.9 291.9h0M410.8 301.5h0M415.1 269.7h0M442.9 291.1h0M392.6 292.1h0M443.8 305.0h0M419.5 302.9h0M388.5 270.2h0M436.7 297.2h0M382.7 301.7h0M433.1 296.8h0M404.6 291.8h0M423.4 279.5h0M398.9 307.3h0M399.0 286.4h0M386.6 306.2h0M437.4 290.4h0M434.3 270.9h0M436.9 307.7h0M399.7 292.6h0M426.8 272.8h0M416.2 295.2h0M425.2 302.0h0M430.3 282.2h0M383.9 260.9h0M386.3 297.7h0M385.7 294.6h0M422.3 305.3h0M428.5 288.9h0M413.9 267.2h0M416.5 308.2h0M443.6 273.8h0M381.6 264.4h0M421.0 292.4h0M396.4 284.7h0M439.5 296.9h0M423.3 297.7h0M383.6 299.9h0M394.4 280.8h0M384.9 284.8h0M415.2 304.2h0M413.0 273.8h0M386.0 276.1h0M394.8 298.9h0M414.3 272.6h0M378.7 301.9h0M413.6 271.9h0M409.5 275.4h0M408.4 307.0h0M383.4 294.9h0M381.5 273.2h0M423.1 288.6h0M429.5 298.6h0M404.5 301.1h0M437.4 305.5h0M385.4 299.4h0M423.4 303.7h0M427.8 276.4h0M386.7 292.1h0M399.3 280.6h0M406.7 264.5h0M424.4 266.6h0M386.5 308.4h0M428.5 292.0h0M405.7 305.9h0M391.5 285.3h0M379.2 284.9h0M437.0 293.5h0M397.0 280.8h0M389.4 269.1h0M420.3 288.0h0M393.6 264.9h0M382.3 287.7h0M380.1 304.9h0M408.9 277.7h0M438.8 293.6h0M391.5 300.5h0M405.7 277.0h0M443.9 292.9h0M436.9 291.5h0M415.3 285.3h0M382.4 304.6h0M400.8 285.0h0M415.4 305.0h0M393.0 308.1h0M443.3 296.3h0M401.7 292.1h0M399.7 281.1h0M392.5 298.4h0M415.5 290.7h0M410.2 291.1h0M438.3 265.1h0M386.6 300.1h0M387.4 262.7h0M393.9 294.5h0M403.7 277.6h0M415.9 266.2h0M394.7 289.8h0M388.5 275.6h0M430.1 264.8h0M434.0 270.3h0M380.8 288.3h0M434.7 262.0h0M434.5 302.5h0M438.0 306.8h0M392.3 306.9h0M378.8 289.7h0M426.0 276.3h0M388.5 262.9h0M425.0 267.9h0M421.0 300.9h0M383.1 264.6h0M386.8 281.4h0M407.1 269.4h0M407.1 299.5h0M420.0 309.3h0M381.2 293.5h0M407.4 293.0h0M427.5 307.5h0M412.1 290.8h0M423.6 292.9h0M383.7 302.8h0M405.4 295.3h0M410.3 265.1h0M399.5 280.1h0M433.1 294.8h0M389.3 290.6h0M383.1 268.3h0M407.6 274.7h0M397.0 278.3h0M395.8 288.6h0M393.4 267.5h0" fill="none" stroke="#3a28a0" stroke-width="1.4949999999999999" stroke-linecap="round" opacity="0.9"/>
<path d="M415.7 292.6h0M396.2 265.2h0M421.3 286.5h0M438.8 299.7h0M405.0 275.5h0M380.3 303.8h0M402.5 283.7h0M401.2 300.4h0M422.0 261.1h0M381.0 282.1h0M381.0 261.4h0M395.1 291.2h0M423.8 293.3h0M385.2 287.8h0M432.7 301.2h0M383.9 262.4h0M426.8 288.7h0M435.4 276.2h0M380.3 284.2h0M431.2 276.6h0M414.7 294.3h0M403.4 278.7h0M384.1 287.1h0M407.6 262.1h0M410.4 268.0h0M409.7 303.3h0M386.2 288.9h0M420.9 286.0h0M387.1 279.2h0M390.5 302.5h0M391.6 295.1h0M406.0 271.7h0M400.9 268.7h0M395.5 283.5h0M410.8 302.4h0M404.0 298.2h0M434.0 306.2h0M415.3 274.2h0M389.9 306.5h0M433.3 264.6h0M397.7 305.5h0M440.6 265.8h0M388.6 297.3h0M383.0 273.1h0M428.9 282.8h0M441.2 308.7h0M434.0 301.6h0M401.1 303.6h0M413.2 269.4h0M380.7 261.8h0M429.9 291.6h0M400.4 294.3h0M438.6 274.9h0M399.1 278.7h0M408.9 297.8h0M386.0 267.7h0M393.6 270.7h0M379.7 286.4h0M379.3 263.4h0M390.0 288.1h0M407.3 296.3h0M434.6 300.1h0M412.4 286.0h0M395.2 273.2h0M383.7 287.6h0M398.2 288.6h0M410.0 282.5h0M429.1 267.9h0M429.6 266.4h0M393.9 265.4h0M393.7 307.9h0M392.0 293.5h0M385.3 283.2h0M381.7 290.9h0M405.8 279.9h0M399.5 262.8h0M430.3 307.8h0M443.5 264.1h0M381.6 264.0h0M384.0 283.4h0M432.2 309.2h0M402.7 291.8h0M414.0 268.7h0M383.1 304.4h0M438.2 297.0h0M435.4 291.1h0M426.9 293.4h0M427.9 298.9h0M418.7 290.7h0M415.2 262.8h0M434.2 299.8h0M407.5 296.7h0M441.7 279.0h0M388.6 277.5h0M426.5 300.6h0M432.0 301.7h0M405.5 290.9h0M400.4 306.0h0M404.0 267.3h0M421.1 270.8h0" fill="none" stroke="#3a28a0" stroke-width="2.9899999999999998" stroke-linecap="round" opacity="0.95"/>
<path d="M414.6 302.1h0M404.6 284.3h0M407.4 269.9h0M385.5 293.5h0M410.6 308.6h0M428.2 266.4h0M418.0 268.4h0M428.4 260.6h0M387.9 275.8h0M427.8 262.1h0M422.0 284.4h0M402.5 274.7h0M427.7 284.9h0M435.0 262.7h0M405.7 304.8h0M421.0 297.1h0M422.2 260.7h0M396.1 300.4h0M389.3 261.5h0M414.5 296.5h0M412.0 262.6h0M402.5 263.7h0M425.6 308.5h0M409.0 302.5h0M380.3 308.0h0M440.9 277.0h0M440.3 305.2h0M417.0 296.8h0M415.3 294.0h0M391.7 269.2h0M385.6 289.3h0M428.2 277.9h0M413.9 282.1h0M428.4 260.1h0M382.6 286.4h0M421.9 294.0h0M402.0 304.3h0M443.1 294.2h0M421.5 286.5h0M431.5 284.2h0M426.5 277.1h0M437.1 270.9h0M411.7 286.5h0M441.1 270.2h0M381.2 263.4h0M442.1 283.5h0M440.8 273.3h0M419.1 281.2h0M380.5 302.2h0M403.5 303.3h0M408.7 292.7h0M385.5 294.8h0M441.7 278.3h0M433.8 298.2h0M431.3 267.6h0M402.1 262.0h0M411.7 306.1h0M392.7 261.8h0M404.2 281.0h0M424.3 275.4h0M382.5 284.0h0M438.3 290.8h0M392.2 298.2h0M411.5 281.7h0M423.0 276.8h0M382.7 278.5h0M404.7 296.6h0M405.5 309.7h0M443.9 273.0h0M434.9 272.6h0M405.3 306.4h0M418.4 304.9h0M441.1 297.4h0M440.7 268.4h0M426.7 304.1h0M383.7 298.7h0M436.6 308.5h0M395.2 279.9h0M381.4 309.6h0M403.8 280.4h0M430.2 289.1h0M429.9 270.4h0M399.3 271.5h0M426.5 288.7h0M384.6 307.4h0M415.8 286.5h0M381.6 284.0h0M403.8 298.6h0M425.7 262.0h0M402.7 301.4h0M425.9 271.4h0M382.2 261.0h0M410.1 261.7h0M396.2 289.3h0M396.0 285.8h0M420.0 270.1h0M423.6 274.8h0M389.2 263.8h0M394.9 277.5h0M431.8 261.7h0M418.5 293.2h0M411.1 300.0h0M388.5 273.7h0M386.9 261.8h0M440.5 295.0h0M430.8 267.2h0M385.8 273.7h0M437.2 296.9h0M384.0 285.2h0M388.6 260.7h0M409.3 298.5h0M419.7 263.6h0M424.4 304.4h0M392.6 265.2h0M402.3 293.5h0M387.5 288.5h0M429.5 294.5h0M379.6 287.4h0M379.7 305.2h0M409.7 296.1h0M390.1 271.2h0M388.6 267.0h0M382.4 268.5h0M431.6 279.4h0M420.5 298.0h0M391.8 295.9h0M402.7 267.9h0M391.7 266.5h0M415.5 264.1h0M431.2 306.1h0M422.2 266.7h0M381.4 302.4h0M440.2 269.9h0M392.1 270.7h0M441.5 272.7h0M404.4 300.3h0M396.9 305.9h0M380.9 289.0h0M434.2 262.4h0M413.6 287.4h0M438.6 269.7h0M443.5 301.9h0M401.5 289.3h0M435.6 294.0h0M396.5 305.8h0M387.3 290.7h0M396.4 279.5h0M443.7 267.9h0M435.7 272.7h0M437.8 277.0h0" fill="none" stroke="#d8d0f0" stroke-width="1.1" stroke-linecap="round" opacity="0.8"/>
</g>
<rect x="434.8" y="306.6" width="8.2" height="2.8" fill="#f6f6f6"/>
<text x="438.9" y="308.8" font-size="2.3" text-anchor="middle" style="font-weight:normal;stroke-width:0">100 μm</text>
</g>
<clipPath id="cpE4"><rect x="448.2" y="259.5" width="67.5" height="50.9"/></clipPath>
<g clip-path="url(#cpE4)">
<rect x="448.2" y="259.5" width="67.5" height="50.9" fill="#aaa8a6"/>
<g filter="url(#soft)">
<path d="M512.5 303.5h0M497.4 271.4h0M470.7 295.6h0M502.3 260.8h0M459.8 304.7h0M456.6 292.7h0M470.6 292.2h0M506.0 289.0h0M474.7 276.1h0M490.0 291.4h0M475.9 283.3h0M484.4 272.9h0M460.7 288.4h0M455.4 289.8h0M502.0 301.3h0M465.5 280.7h0M510.1 277.5h0M514.6 270.0h0M504.6 262.0h0M493.1 300.2h0M485.1 291.6h0M509.5 309.7h0M460.6 286.1h0M451.4 278.9h0M458.3 268.0h0M490.3 264.2h0M458.9 260.5h0M502.8 272.2h0M453.5 291.0h0M496.4 291.5h0M485.1 286.7h0M496.6 275.5h0M504.7 294.6h0M505.8 304.4h0M504.5 285.9h0M483.4 296.6h0M487.2 261.4h0M509.7 269.9h0M480.9 282.6h0M454.9 288.9h0M488.0 300.6h0M489.4 275.3h0M486.3 307.9h0M491.0 302.1h0M449.5 294.4h0M462.7 268.1h0M470.7 268.9h0M454.4 270.5h0M464.0 272.4h0M501.8 264.2h0M462.0 262.7h0M482.4 271.4h0M484.0 271.9h0M461.8 284.3h0M453.5 304.1h0M486.1 279.7h0M485.3 307.3h0M481.6 279.7h0M463.1 279.0h0M500.2 290.6h0M467.0 304.8h0M457.6 277.8h0M500.3 305.7h0M479.2 260.6h0M486.0 281.3h0M450.7 277.4h0M507.4 261.9h0M460.5 268.3h0M501.8 275.3h0M494.2 293.7h0M449.5 281.9h0M456.6 299.9h0M481.2 278.4h0M502.7 301.0h0M453.2 264.7h0M470.2 275.6h0M478.0 281.3h0M513.4 293.5h0M512.6 290.9h0M464.2 288.3h0M459.3 289.1h0M458.2 306.4h0M468.9 304.6h0M463.3 270.4h0M465.1 301.1h0M503.8 297.2h0M486.9 267.3h0M464.6 261.6h0M510.6 266.4h0M496.3 260.0h0M467.6 290.1h0M460.9 263.5h0M508.3 274.3h0M449.1 295.2h0M514.5 287.2h0M451.0 280.8h0M489.2 272.2h0M476.4 297.0h0M492.4 301.5h0M511.9 285.9h0M513.9 265.9h0M483.1 293.7h0M510.5 283.5h0M477.7 304.5h0M480.0 262.9h0M478.7 273.5h0M492.3 300.7h0M451.8 275.8h0M508.5 300.4h0M500.8 279.4h0M512.2 302.3h0M503.2 287.1h0M491.3 266.6h0M451.1 260.7h0M452.3 285.4h0M511.5 288.7h0M501.1 297.6h0M511.5 273.8h0M481.8 306.1h0M470.7 294.8h0M476.1 267.6h0M462.2 278.0h0M450.6 304.0h0M472.3 272.0h0M501.9 260.3h0M499.4 282.5h0M454.7 279.8h0M514.3 262.0h0M467.6 268.9h0M488.0 269.9h0M505.1 278.2h0M511.9 266.1h0M464.0 261.3h0M451.7 269.2h0M487.8 287.5h0M497.0 271.7h0M488.5 309.1h0M470.1 271.7h0M461.0 308.2h0M491.0 284.7h0M481.7 264.0h0M463.7 294.9h0M465.4 285.6h0M508.8 269.1h0M480.1 298.0h0M498.2 301.2h0M509.3 288.8h0M463.7 285.4h0M510.3 269.9h0M468.2 269.8h0M507.1 264.8h0M458.8 290.4h0M497.2 281.1h0M498.5 295.3h0M474.7 263.7h0M494.7 290.9h0M512.5 295.0h0M452.9 269.8h0M469.2 296.2h0M469.3 271.7h0M461.1 273.5h0M481.8 295.4h0M505.1 265.0h0M485.4 308.5h0M475.0 266.2h0M492.2 301.1h0M451.3 264.2h0M469.1 278.2h0M456.4 264.2h0M476.7 307.7h0M486.4 273.8h0M512.5 274.1h0M458.1 266.2h0M450.3 305.7h0M484.1 308.9h0M484.7 263.5h0M473.3 277.2h0M459.2 264.0h0M494.6 303.5h0M510.8 271.9h0M489.7 272.7h0M504.8 305.6h0M449.5 269.5h0M506.5 309.0h0M505.1 263.2h0M488.6 298.4h0M486.7 287.1h0M500.2 262.9h0M486.6 308.5h0M485.3 278.0h0M457.7 304.4h0M493.3 307.7h0M512.8 294.5h0M505.5 300.8h0M498.1 280.8h0M493.7 299.1h0M466.4 299.3h0M488.8 278.9h0M477.5 305.8h0M453.1 262.2h0M481.9 265.3h0M505.6 305.9h0M472.5 277.5h0M492.6 304.1h0M491.1 304.6h0M471.4 283.3h0M494.4 297.0h0M474.2 277.6h0M505.0 293.3h0M484.1 272.6h0M473.0 264.3h0M465.0 264.5h0M463.6 291.1h0M485.8 302.4h0M486.3 277.0h0M471.9 301.4h0M450.0 268.1h0M478.3 267.3h0M475.2 267.9h0M489.8 303.3h0" fill="none" stroke="#d2d2dc" stroke-width="0.9" stroke-linecap="round" opacity="0.5"/>
<path d="M474.7 298.6h0M448.8 265.4h0M458.4 299.1h0M467.0 288.5h0M506.3 288.1h0M475.7 287.3h0M492.5 289.6h0M484.8 266.8h0M513.2 296.3h0M507.2 299.4h0M463.4 282.1h0M488.5 268.8h0M503.1 284.5h0M487.5 305.8h0M469.8 276.9h0M488.3 265.1h0M465.6 270.4h0M513.3 291.9h0M501.8 291.8h0M469.9 278.4h0M511.9 290.6h0M489.1 281.4h0M508.8 271.4h0M507.0 294.9h0M497.3 309.5h0M481.2 286.6h0M476.4 293.6h0M505.3 298.2h0M464.1 300.4h0M450.9 292.2h0M460.3 275.9h0M486.5 267.1h0M496.6 293.1h0M500.4 283.9h0M504.6 297.1h0M485.0 292.8h0M465.7 289.7h0M467.5 267.0h0M488.9 306.2h0M479.9 268.2h0M491.3 269.7h0M491.8 296.9h0M462.6 274.9h0M478.2 293.1h0M494.9 307.6h0M488.7 306.5h0M462.9 272.6h0M513.2 299.2h0M474.8 263.1h0M465.5 280.4h0M450.1 290.2h0M509.5 276.9h0M471.7 274.0h0M475.3 290.3h0M468.3 262.4h0M453.1 306.0h0M492.5 266.4h0M476.3 297.5h0M474.0 292.8h0M515.1 278.0h0M478.8 267.4h0M495.3 283.9h0M484.4 275.4h0M490.1 290.0h0M509.6 298.3h0M454.1 266.2h0M474.3 269.6h0M460.7 268.9h0M504.7 265.1h0M501.2 283.4h0M497.7 283.0h0M463.8 279.8h0M509.2 298.5h0M492.0 280.5h0M498.1 267.5h0M479.6 277.9h0M476.6 300.6h0M459.4 274.0h0M486.2 274.8h0M508.7 282.1h0M449.0 273.8h0M467.2 280.6h0M448.7 306.4h0M476.8 295.2h0M479.3 283.0h0M468.9 304.9h0M458.5 285.8h0M467.1 275.4h0M455.4 307.6h0M469.4 295.1h0M498.2 305.7h0M478.4 284.3h0M503.7 287.4h0M464.2 278.0h0M509.0 275.6h0M488.8 298.5h0M502.0 291.0h0M500.3 308.9h0M481.1 277.1h0M475.1 297.1h0M461.6 302.4h0M466.2 267.8h0M497.2 276.0h0M499.0 270.1h0M466.5 283.4h0M496.2 287.2h0M512.2 306.6h0M457.2 301.9h0M515.2 274.4h0M476.3 287.9h0M514.2 272.6h0M468.5 303.3h0M468.0 306.3h0M479.3 309.6h0M469.4 277.7h0M499.5 300.1h0M495.8 273.1h0M483.9 296.6h0M498.0 308.1h0M499.6 293.4h0M495.9 292.9h0M504.0 281.8h0M492.7 287.0h0M452.8 281.0h0M468.3 277.5h0M450.3 302.1h0M469.9 286.4h0M461.3 283.8h0M499.0 291.9h0M499.0 292.8h0M513.1 289.2h0M458.4 264.3h0M511.5 289.0h0M490.3 296.0h0M498.2 277.3h0M464.4 287.1h0M471.5 286.4h0M474.6 308.7h0M511.4 294.2h0M508.0 289.7h0M473.1 276.2h0M471.4 288.1h0M452.7 263.8h0M514.2 268.5h0M462.0 294.0h0M480.9 296.9h0M450.3 260.9h0M472.9 299.3h0M463.5 282.6h0M501.6 296.7h0M480.7 265.7h0M458.9 268.7h0M476.2 308.8h0M463.1 294.8h0M498.6 280.6h0M501.4 267.0h0M513.7 263.8h0M472.5 262.5h0M464.6 262.4h0M484.6 274.5h0" fill="none" stroke="#8c8c98" stroke-width="0.9" stroke-linecap="round" opacity="0.45"/>
<path d="M514.4 285.9h0M455.6 304.5h0M451.2 287.9h0M470.3 272.6h0M482.9 264.7h0M481.3 287.6h0M491.2 297.6h0M452.1 300.2h0M475.2 283.1h0M452.1 277.9h0M469.4 299.2h0M489.7 303.1h0M467.0 270.5h0M478.8 262.7h0M456.2 279.7h0M514.4 300.6h0M463.6 260.5h0M458.0 264.7h0M511.2 274.7h0M465.9 304.3h0M483.0 289.1h0M451.7 262.3h0M464.6 275.8h0M478.8 290.6h0M488.0 277.6h0M449.0 269.2h0M514.3 274.5h0M501.8 277.8h0M488.0 264.9h0M498.8 278.2h0M501.8 302.9h0M465.9 295.5h0M514.4 282.1h0M453.3 287.0h0M467.9 272.0h0M515.1 264.9h0M464.1 280.7h0M464.2 268.8h0M467.4 285.0h0M495.0 308.3h0M476.3 262.9h0M506.8 292.0h0M512.7 300.9h0M451.2 292.8h0M473.9 290.5h0M453.8 261.7h0M482.3 283.6h0M509.7 272.0h0M487.4 287.7h0M478.7 291.2h0M493.7 285.6h0M472.1 265.8h0M452.3 287.4h0M479.1 280.1h0M499.5 277.0h0M470.2 283.0h0M510.3 280.6h0M458.5 293.7h0M508.9 295.3h0M488.3 300.9h0M487.8 297.7h0M454.9 290.4h0M465.0 278.2h0M476.1 285.3h0M454.5 278.1h0M455.0 290.3h0M460.0 265.3h0M507.8 282.3h0M461.1 277.3h0M509.7 299.1h0M497.9 269.2h0M467.9 272.6h0M479.6 291.6h0M485.3 300.2h0M469.3 275.8h0M508.6 293.9h0M489.3 273.5h0M478.0 274.0h0M506.9 267.2h0M485.8 285.0h0M488.0 260.8h0M492.7 305.3h0M498.5 263.3h0M492.4 276.1h0M489.8 283.8h0M510.4 266.7h0M510.9 284.7h0M512.9 293.6h0M513.6 266.3h0M465.3 270.8h0M483.5 292.8h0M456.4 291.6h0M491.3 296.6h0M458.6 272.7h0M485.1 263.9h0M460.0 266.1h0M505.0 307.6h0M494.7 300.9h0M502.3 275.2h0M502.0 285.1h0" fill="none" stroke="#7d6cc0" stroke-width="4.800000000000001" stroke-linecap="round" opacity="0.33"/>
<path d="M514.4 285.9h0M455.6 304.5h0M451.2 287.9h0M470.3 272.6h0M482.9 264.7h0M481.3 287.6h0M491.2 297.6h0M452.1 300.2h0M475.2 283.1h0M452.1 277.9h0M469.4 299.2h0M489.7 303.1h0M467.0 270.5h0M478.8 262.7h0M456.2 279.7h0M514.4 300.6h0M463.6 260.5h0M458.0 264.7h0M511.2 274.7h0M465.9 304.3h0M483.0 289.1h0M451.7 262.3h0M464.6 275.8h0M478.8 290.6h0M488.0 277.6h0M449.0 269.2h0M514.3 274.5h0M501.8 277.8h0M488.0 264.9h0M498.8 278.2h0M501.8 302.9h0M465.9 295.5h0M514.4 282.1h0M453.3 287.0h0M467.9 272.0h0M515.1 264.9h0M464.1 280.7h0M464.2 268.8h0M467.4 285.0h0M495.0 308.3h0M476.3 262.9h0M506.8 292.0h0M512.7 300.9h0M451.2 292.8h0M473.9 290.5h0M453.8 261.7h0M482.3 283.6h0M509.7 272.0h0M487.4 287.7h0M478.7 291.2h0M493.7 285.6h0M472.1 265.8h0M452.3 287.4h0M479.1 280.1h0M499.5 277.0h0M470.2 283.0h0M510.3 280.6h0M458.5 293.7h0M508.9 295.3h0M488.3 300.9h0M487.8 297.7h0M454.9 290.4h0M465.0 278.2h0M476.1 285.3h0M454.5 278.1h0M455.0 290.3h0M460.0 265.3h0M507.8 282.3h0M461.1 277.3h0M509.7 299.1h0M497.9 269.2h0M467.9 272.6h0M479.6 291.6h0M485.3 300.2h0M469.3 275.8h0M508.6 293.9h0M489.3 273.5h0M478.0 274.0h0M506.9 267.2h0M485.8 285.0h0M488.0 260.8h0M492.7 305.3h0M498.5 263.3h0M492.4 276.1h0M489.8 283.8h0M510.4 266.7h0M510.9 284.7h0M512.9 293.6h0M513.6 266.3h0M465.3 270.8h0M483.5 292.8h0M456.4 291.6h0M491.3 296.6h0M458.6 272.7h0M485.1 263.9h0M460.0 266.1h0M505.0 307.6h0M494.7 300.9h0M502.3 275.2h0M502.0 285.1h0" fill="none" stroke="#5a48b0" stroke-width="2.2" stroke-linecap="round" opacity="0.96"/>
<path d="M503.0 290.9h0M454.2 297.8h0M505.3 303.8h0M455.6 294.8h0M482.2 264.7h0M501.4 293.2h0M472.7 290.5h0M482.8 266.0h0M483.5 301.3h0M486.5 284.9h0M452.5 273.6h0M465.0 287.3h0M463.9 289.9h0M455.7 278.5h0M476.4 273.3h0M511.8 299.4h0M448.8 260.5h0M482.5 291.3h0M496.5 280.8h0M510.8 264.9h0M450.1 281.2h0M462.5 306.9h0M499.3 303.1h0M449.3 260.4h0M462.9 265.4h0M474.0 264.2h0M490.3 289.1h0M461.4 274.4h0M453.0 301.6h0M464.1 302.5h0M489.9 284.6h0M499.5 269.4h0M500.1 286.6h0M482.0 301.8h0M503.7 285.8h0M477.3 305.3h0M464.6 266.3h0M476.8 277.3h0M488.1 292.0h0M505.9 269.0h0M476.8 296.9h0M456.2 303.2h0M468.7 298.3h0M469.5 309.0h0M474.1 297.9h0M507.6 265.1h0M488.7 274.1h0M486.7 300.7h0M455.1 261.9h0M484.9 268.9h0" fill="none" stroke="#5a48b0" stroke-width="1.4300000000000002" stroke-linecap="round" opacity="0.9"/>
<path d="M496.0 270.5h0M462.9 264.4h0M493.2 308.9h0M501.2 281.9h0M489.9 307.7h0M486.8 298.5h0M480.7 267.6h0M506.0 287.9h0M514.4 287.3h0M476.3 277.8h0M476.2 285.0h0M508.8 281.2h0M465.1 308.0h0M453.7 283.6h0M506.6 303.9h0M452.9 272.5h0" fill="none" stroke="#5a48b0" stroke-width="2.8600000000000003" stroke-linecap="round" opacity="0.95"/>
</g>
<rect x="505.4" y="306.6" width="8.2" height="2.8" fill="#f6f6f6"/>
<text x="509.5" y="308.8" font-size="2.3" text-anchor="middle" style="font-weight:normal;stroke-width:0">100 μm</text>
</g>
<clipPath id="cpE5"><rect x="517.5" y="259.5" width="66.9" height="50.9"/></clipPath>
<g clip-path="url(#cpE5)">
<rect x="517.5" y="259.5" width="66.9" height="50.9" fill="#a8b0b0"/>
<g filter="url(#soft)">
<path d="M575.9 277.4h0M570.1 307.5h0M538.6 298.3h0M540.1 268.2h0M541.0 297.5h0M527.7 292.9h0M541.1 268.4h0M546.3 279.3h0M548.3 304.0h0M578.7 271.3h0M583.1 290.5h0M581.2 300.8h0M552.6 272.5h0M579.2 309.9h0M559.2 265.8h0M572.2 298.2h0M576.0 308.7h0M582.3 296.7h0M543.9 286.6h0M551.3 297.9h0M559.3 301.2h0M552.0 289.4h0M581.5 299.5h0M579.4 294.9h0M526.2 280.9h0M537.2 273.1h0M526.4 265.5h0M549.7 299.1h0M575.2 308.3h0M556.4 260.7h0M530.6 262.9h0M575.2 276.0h0M565.7 282.5h0M556.5 302.5h0M561.3 263.7h0M559.8 277.7h0M582.4 273.4h0M533.9 306.0h0M545.3 264.1h0M570.5 305.9h0M550.4 268.3h0M575.1 277.0h0M534.2 262.2h0M576.1 271.7h0M525.9 278.2h0M564.1 309.7h0M531.9 290.8h0M535.8 303.0h0M550.1 294.1h0M573.2 286.7h0M549.0 260.5h0M528.9 294.5h0M568.1 288.8h0M521.2 297.3h0M574.0 302.7h0M567.5 293.1h0M541.0 278.1h0M530.5 292.1h0M540.3 300.4h0M533.3 273.1h0M523.6 274.0h0M569.3 301.2h0M578.4 261.8h0M563.2 288.1h0M541.0 306.9h0M563.0 275.6h0M572.7 282.1h0M549.0 283.8h0M549.3 261.3h0M572.0 275.1h0M547.7 268.8h0M555.5 263.5h0M520.0 270.5h0M575.9 294.1h0M565.6 264.6h0M547.7 296.7h0M567.1 282.4h0M523.1 278.9h0M580.5 304.4h0M558.5 277.6h0M557.7 288.7h0M548.4 302.5h0M555.1 264.8h0M566.3 294.9h0M524.7 286.2h0M582.4 292.3h0M562.4 283.9h0M546.0 309.2h0M536.5 283.2h0M524.2 285.6h0M561.7 294.5h0M582.4 273.1h0M531.7 277.9h0M540.1 305.6h0M531.7 283.5h0M583.8 280.4h0M548.2 280.9h0M539.3 276.0h0M573.2 260.7h0M522.4 300.3h0M565.7 281.2h0M549.6 283.6h0M534.9 281.6h0M541.5 289.5h0M540.2 289.4h0M520.7 309.4h0M518.9 283.6h0M542.8 266.5h0M582.1 282.4h0M530.2 276.4h0M530.5 287.2h0M583.8 308.1h0M533.2 295.4h0M555.1 298.1h0M528.3 262.3h0M526.0 305.3h0M521.5 262.1h0M548.5 263.0h0M529.5 307.6h0M529.9 298.0h0M573.6 282.7h0M547.2 270.6h0M539.6 286.6h0M555.6 286.6h0M541.9 304.2h0M548.2 279.0h0M549.4 302.0h0M557.8 297.1h0M572.4 277.7h0M565.6 264.8h0M549.9 283.0h0M543.7 268.3h0M570.9 277.1h0M543.9 265.9h0M575.0 303.2h0M530.0 279.4h0M536.7 269.4h0M572.7 290.7h0M577.9 294.4h0M539.9 299.0h0M525.0 289.4h0M551.9 263.9h0M536.9 286.0h0M526.1 264.1h0M558.6 308.7h0M556.7 309.8h0M550.0 265.1h0M528.9 282.7h0M575.6 300.6h0M582.3 289.4h0M567.8 287.4h0M528.9 287.0h0M536.3 300.5h0M571.9 271.1h0M526.7 274.5h0M519.3 269.6h0M581.1 306.1h0M546.6 304.1h0M530.6 309.9h0M555.6 290.6h0M536.3 260.3h0M553.7 291.4h0M564.4 298.7h0M579.0 261.3h0M562.9 264.4h0M573.8 286.5h0M518.5 279.9h0M573.4 304.1h0M578.8 285.6h0M563.2 294.0h0M550.5 298.4h0M528.8 271.5h0M558.7 297.2h0M582.5 263.3h0M583.8 275.3h0M542.2 295.0h0M583.3 270.2h0M543.9 304.9h0M573.8 280.7h0M535.6 300.0h0M531.2 278.4h0M518.9 270.9h0M547.6 285.1h0M568.7 290.8h0M533.1 279.8h0M534.0 266.7h0M528.7 307.8h0M570.6 302.3h0M565.4 273.2h0M567.0 286.9h0M570.0 288.9h0M560.2 266.3h0M574.9 295.2h0M555.4 272.9h0M561.7 280.6h0M532.6 298.3h0M564.1 300.2h0M583.5 279.9h0M557.4 263.9h0M561.5 301.0h0M545.6 261.0h0M565.0 279.5h0M530.4 297.5h0M544.9 285.3h0M557.5 282.6h0M562.7 274.4h0M533.1 283.2h0M571.2 276.3h0M530.4 273.0h0M541.2 267.1h0M548.9 288.8h0M583.5 264.5h0M535.5 267.9h0M542.8 302.7h0M528.7 285.6h0M546.1 302.0h0M554.7 309.9h0M574.6 305.8h0M569.5 265.5h0M525.2 308.5h0" fill="none" stroke="#d2d2dc" stroke-width="0.9" stroke-linecap="round" opacity="0.5"/>
<path d="M530.3 263.3h0M558.4 289.5h0M529.2 281.5h0M545.0 282.9h0M541.7 266.6h0M561.0 276.6h0M574.7 309.1h0M520.3 298.4h0M566.7 274.7h0M556.1 274.6h0M574.8 276.8h0M560.5 272.8h0M574.8 271.1h0M580.5 268.3h0M545.0 294.9h0M544.2 299.2h0M529.5 309.5h0M552.0 304.4h0M529.4 280.4h0M551.1 307.1h0M583.5 279.8h0M544.1 277.3h0M523.1 266.9h0M568.2 265.4h0M572.4 281.2h0M530.5 275.5h0M526.3 291.7h0M535.2 290.5h0M547.8 291.1h0M523.9 296.7h0M530.8 281.1h0M580.5 309.2h0M553.9 283.1h0M552.7 292.5h0M581.6 274.4h0M518.4 288.0h0M540.5 285.0h0M550.4 266.2h0M540.9 304.3h0M555.2 294.5h0M557.5 274.1h0M525.9 287.8h0M529.2 288.8h0M578.0 261.9h0M573.9 289.7h0M582.5 278.4h0M542.5 269.7h0M568.1 263.5h0M528.7 273.7h0M581.3 306.4h0M559.4 291.6h0M538.2 293.8h0M579.6 277.9h0M527.3 270.8h0M545.3 276.6h0M538.9 287.1h0M579.1 291.9h0M540.0 284.1h0M528.4 304.8h0M520.2 288.0h0M568.8 293.6h0M519.3 298.5h0M546.8 299.6h0M523.6 284.5h0M580.3 266.5h0M576.2 285.5h0M546.4 268.3h0M550.8 265.2h0M525.6 262.5h0M527.4 289.6h0M542.5 302.8h0M531.4 272.6h0M567.0 287.3h0M523.5 286.7h0M534.6 306.7h0M562.2 292.7h0M536.6 300.7h0M569.3 291.9h0M545.1 298.9h0M542.4 265.7h0M542.3 276.6h0M558.8 267.1h0M568.9 267.0h0M552.9 277.4h0M583.5 288.1h0M534.5 272.7h0M538.3 291.3h0M539.0 308.7h0M568.8 269.1h0M518.9 263.3h0M547.0 272.7h0M544.2 280.0h0M578.3 269.8h0M582.9 301.4h0M579.1 283.1h0M548.4 284.8h0M573.5 284.0h0M521.8 271.7h0M582.1 260.1h0M558.0 302.5h0M543.4 283.5h0M551.0 263.1h0M546.4 304.8h0M545.1 270.6h0M575.0 300.5h0M557.8 292.6h0M535.5 289.7h0M566.4 264.4h0M542.9 274.7h0M533.4 289.4h0M522.4 266.6h0M550.4 279.4h0M554.3 270.2h0M540.4 303.2h0M547.0 263.8h0M581.9 295.6h0M562.4 296.5h0M565.6 292.8h0M523.7 261.0h0M520.5 303.2h0M522.7 272.0h0M576.1 271.9h0M559.9 265.4h0M520.6 284.3h0M563.7 263.9h0M573.0 289.2h0M556.0 276.0h0M523.5 284.5h0M568.6 279.1h0M541.3 290.5h0M522.4 262.9h0M547.6 289.7h0M553.9 264.3h0M549.2 304.9h0M525.8 306.6h0M555.4 307.8h0M528.9 280.5h0M533.2 285.6h0M571.4 275.1h0M556.3 305.6h0M560.1 283.0h0M530.8 305.8h0M581.1 272.0h0M537.0 305.7h0M540.4 275.5h0M557.2 302.0h0M524.6 288.6h0M524.3 297.8h0M528.4 290.1h0M545.2 285.9h0M575.1 260.0h0M571.6 274.5h0M559.7 273.4h0M536.2 271.1h0M551.4 264.5h0M564.0 296.3h0M566.0 267.5h0M562.6 295.5h0M568.4 267.6h0M555.0 276.3h0" fill="none" stroke="#8c8c98" stroke-width="0.9" stroke-linecap="round" opacity="0.45"/>
<path d="M579.5 304.7h0M533.1 272.6h0M537.2 300.0h0M562.3 308.8h0M529.1 267.2h0M531.3 286.0h0M550.8 286.2h0M575.4 285.9h0M538.5 273.5h0M531.2 273.6h0M525.1 271.8h0M548.1 265.3h0M545.9 300.6h0M559.1 260.9h0M525.8 309.4h0M526.7 305.0h0M544.7 279.8h0M519.6 289.4h0M537.2 262.9h0M524.0 272.3h0M537.2 302.8h0M578.3 261.4h0M547.4 297.5h0M518.2 300.8h0M578.2 273.1h0M544.2 265.8h0M538.8 264.3h0M552.8 284.2h0M546.0 309.5h0M554.6 307.5h0M576.6 282.8h0M538.2 281.0h0M529.4 305.2h0M580.4 298.8h0M554.4 280.3h0M541.9 293.5h0M543.9 285.1h0M527.4 292.4h0M520.9 266.6h0M529.6 289.9h0M554.7 292.5h0M535.2 307.3h0M545.3 266.0h0M562.7 308.9h0M540.8 297.0h0M549.6 293.6h0M569.8 283.5h0M543.2 261.9h0M524.2 299.4h0M572.6 285.3h0M549.9 291.5h0M532.3 277.1h0M533.6 273.6h0M577.0 279.5h0M575.0 285.3h0M550.6 270.8h0M575.3 266.3h0M578.0 272.7h0M575.0 307.1h0M533.0 270.1h0M530.4 261.0h0M576.1 268.8h0M518.7 285.5h0M572.4 275.3h0M526.1 290.9h0M565.3 264.9h0M558.1 285.1h0M560.7 294.5h0M537.4 301.2h0M564.2 301.9h0M562.9 275.6h0M580.5 269.5h0M565.7 299.3h0M557.0 296.5h0M530.9 261.6h0M550.7 277.3h0M537.0 287.9h0M564.7 292.7h0M564.6 303.8h0M568.3 308.1h0M528.5 280.5h0M521.1 306.8h0M571.3 272.0h0M546.0 304.1h0M572.1 298.5h0M547.3 295.3h0M530.1 297.6h0M528.1 274.8h0M560.1 274.1h0M578.5 279.1h0M528.3 281.4h0M564.5 289.1h0M556.3 285.4h0M582.9 306.0h0M531.8 306.3h0M519.8 265.3h0M522.6 279.2h0M542.3 263.1h0M564.7 273.7h0M552.4 283.4h0M576.3 291.9h0M583.2 273.2h0M525.4 300.5h0M565.7 308.9h0M526.5 303.3h0M541.3 263.5h0M555.2 262.4h0M564.6 278.9h0M542.1 306.5h0M564.1 273.3h0M555.6 277.0h0M548.8 261.9h0M540.0 285.9h0M543.7 307.6h0M523.1 294.9h0M556.9 271.4h0M534.5 302.9h0M571.7 270.8h0M551.5 265.6h0M542.8 293.4h0M554.5 300.2h0M543.4 302.0h0M541.4 269.3h0M572.7 266.9h0M528.2 297.1h0M580.0 277.4h0M524.5 267.8h0M519.0 298.1h0M569.2 300.4h0M537.7 288.2h0M538.5 264.4h0M518.5 302.5h0M580.8 263.5h0M553.7 287.3h0M535.4 265.3h0M582.6 277.9h0M574.8 296.5h0M570.8 263.6h0M519.8 267.2h0M567.6 287.2h0M546.6 286.5h0M562.6 265.4h0M534.4 287.4h0M570.9 261.3h0M557.1 279.3h0M546.1 288.9h0M548.0 269.4h0M561.7 262.9h0M528.6 284.6h0M521.9 307.1h0M543.8 273.4h0M575.8 295.9h0M529.0 307.9h0M558.6 291.8h0M528.8 299.8h0M548.6 301.3h0M548.2 266.4h0M553.2 278.7h0M545.9 298.7h0M568.5 299.3h0M554.9 268.3h0M550.7 301.8h0M547.6 290.7h0M521.2 298.5h0M518.5 260.5h0M544.2 306.4h0M533.5 291.3h0M530.8 276.3h0M526.0 267.3h0M546.1 283.9h0M574.6 272.3h0M520.0 291.3h0M580.2 271.7h0M531.3 290.3h0M535.3 283.3h0M535.9 307.5h0M566.1 285.3h0M534.2 275.0h0M536.5 277.9h0M552.3 288.0h0M543.4 263.4h0M560.8 269.0h0M572.7 280.8h0M560.7 283.9h0M523.4 271.3h0M581.9 284.4h0M518.8 305.7h0M571.2 297.7h0M528.7 291.2h0M564.1 262.4h0M541.0 293.8h0M550.3 284.5h0M519.0 290.1h0M554.4 272.4h0M526.4 300.1h0M545.2 306.0h0M524.2 276.8h0M571.5 302.0h0M536.7 293.7h0M526.4 283.7h0M571.8 287.8h0M570.7 296.1h0M537.4 308.8h0M523.0 309.0h0M521.3 278.2h0M550.2 290.8h0M537.7 262.1h0M539.0 267.1h0M536.8 299.4h0M555.4 284.4h0" fill="none" stroke="#7d6cc0" stroke-width="4.800000000000001" stroke-linecap="round" opacity="0.33"/>
<path d="M579.5 304.7h0M533.1 272.6h0M537.2 300.0h0M562.3 308.8h0M529.1 267.2h0M531.3 286.0h0M550.8 286.2h0M575.4 285.9h0M538.5 273.5h0M531.2 273.6h0M525.1 271.8h0M548.1 265.3h0M545.9 300.6h0M559.1 260.9h0M525.8 309.4h0M526.7 305.0h0M544.7 279.8h0M519.6 289.4h0M537.2 262.9h0M524.0 272.3h0M537.2 302.8h0M578.3 261.4h0M547.4 297.5h0M518.2 300.8h0M578.2 273.1h0M544.2 265.8h0M538.8 264.3h0M552.8 284.2h0M546.0 309.5h0M554.6 307.5h0M576.6 282.8h0M538.2 281.0h0M529.4 305.2h0M580.4 298.8h0M554.4 280.3h0M541.9 293.5h0M543.9 285.1h0M527.4 292.4h0M520.9 266.6h0M529.6 289.9h0M554.7 292.5h0M535.2 307.3h0M545.3 266.0h0M562.7 308.9h0M540.8 297.0h0M549.6 293.6h0M569.8 283.5h0M543.2 261.9h0M524.2 299.4h0M572.6 285.3h0M549.9 291.5h0M532.3 277.1h0M533.6 273.6h0M577.0 279.5h0M575.0 285.3h0M550.6 270.8h0M575.3 266.3h0M578.0 272.7h0M575.0 307.1h0M533.0 270.1h0M530.4 261.0h0M576.1 268.8h0M518.7 285.5h0M572.4 275.3h0M526.1 290.9h0M565.3 264.9h0M558.1 285.1h0M560.7 294.5h0M537.4 301.2h0M564.2 301.9h0M562.9 275.6h0M580.5 269.5h0M565.7 299.3h0M557.0 296.5h0M530.9 261.6h0M550.7 277.3h0M537.0 287.9h0M564.7 292.7h0M564.6 303.8h0M568.3 308.1h0M528.5 280.5h0M521.1 306.8h0M571.3 272.0h0M546.0 304.1h0M572.1 298.5h0M547.3 295.3h0M530.1 297.6h0M528.1 274.8h0M560.1 274.1h0M578.5 279.1h0M528.3 281.4h0M564.5 289.1h0M556.3 285.4h0M582.9 306.0h0M531.8 306.3h0M519.8 265.3h0M522.6 279.2h0M542.3 263.1h0M564.7 273.7h0M552.4 283.4h0M576.3 291.9h0M583.2 273.2h0M525.4 300.5h0M565.7 308.9h0M526.5 303.3h0M541.3 263.5h0M555.2 262.4h0M564.6 278.9h0M542.1 306.5h0M564.1 273.3h0M555.6 277.0h0M548.8 261.9h0M540.0 285.9h0M543.7 307.6h0M523.1 294.9h0M556.9 271.4h0M534.5 302.9h0M571.7 270.8h0M551.5 265.6h0M542.8 293.4h0M554.5 300.2h0M543.4 302.0h0M541.4 269.3h0M572.7 266.9h0M528.2 297.1h0M580.0 277.4h0M524.5 267.8h0M519.0 298.1h0M569.2 300.4h0M537.7 288.2h0M538.5 264.4h0M518.5 302.5h0M580.8 263.5h0M553.7 287.3h0M535.4 265.3h0M582.6 277.9h0M574.8 296.5h0M570.8 263.6h0M519.8 267.2h0M567.6 287.2h0M546.6 286.5h0M562.6 265.4h0M534.4 287.4h0M570.9 261.3h0M557.1 279.3h0M546.1 288.9h0M548.0 269.4h0M561.7 262.9h0M528.6 284.6h0M521.9 307.1h0M543.8 273.4h0M575.8 295.9h0M529.0 307.9h0M558.6 291.8h0M528.8 299.8h0M548.6 301.3h0M548.2 266.4h0M553.2 278.7h0M545.9 298.7h0M568.5 299.3h0M554.9 268.3h0M550.7 301.8h0M547.6 290.7h0M521.2 298.5h0M518.5 260.5h0M544.2 306.4h0M533.5 291.3h0M530.8 276.3h0M526.0 267.3h0M546.1 283.9h0M574.6 272.3h0M520.0 291.3h0M580.2 271.7h0M531.3 290.3h0M535.3 283.3h0M535.9 307.5h0M566.1 285.3h0M534.2 275.0h0M536.5 277.9h0M552.3 288.0h0M543.4 263.4h0M560.8 269.0h0M572.7 280.8h0M560.7 283.9h0M523.4 271.3h0M581.9 284.4h0M518.8 305.7h0M571.2 297.7h0M528.7 291.2h0M564.1 262.4h0M541.0 293.8h0M550.3 284.5h0M519.0 290.1h0M554.4 272.4h0M526.4 300.1h0M545.2 306.0h0M524.2 276.8h0M571.5 302.0h0M536.7 293.7h0M526.4 283.7h0M571.8 287.8h0M570.7 296.1h0M537.4 308.8h0M523.0 309.0h0M521.3 278.2h0M550.2 290.8h0M537.7 262.1h0M539.0 267.1h0M536.8 299.4h0M555.4 284.4h0" fill="none" stroke="#5040b0" stroke-width="2.2" stroke-linecap="round" opacity="0.96"/>
<path d="M541.5 287.2h0M539.0 264.8h0M543.0 300.8h0M518.5 288.3h0M545.9 277.3h0M561.0 275.3h0M522.6 277.3h0M569.5 272.5h0M541.2 299.1h0M582.0 291.1h0M547.8 262.3h0M532.6 302.3h0M526.4 305.1h0M555.7 269.2h0M538.1 286.2h0M536.3 285.6h0M559.9 260.1h0M582.0 294.9h0M525.8 305.0h0M577.4 291.1h0M553.9 268.1h0M532.4 291.6h0M538.2 297.8h0M562.0 261.9h0M529.6 271.3h0M542.0 269.0h0M571.5 306.2h0M553.4 269.0h0M521.6 273.6h0M550.6 297.8h0M553.7 270.4h0M571.6 294.6h0M532.4 291.0h0M569.9 274.0h0M544.9 285.1h0M553.4 279.3h0M526.6 286.4h0M576.0 305.3h0M535.5 267.1h0M577.8 261.3h0M527.4 273.8h0M556.0 269.7h0M532.6 297.6h0M565.1 267.6h0M557.8 269.5h0M583.6 272.8h0M581.5 293.4h0M577.5 302.0h0M531.2 280.3h0M534.0 273.8h0M548.5 290.4h0M542.8 292.1h0M549.3 283.0h0M548.6 277.1h0M570.7 292.1h0M526.3 280.3h0M532.0 298.2h0M527.5 283.0h0M573.0 305.6h0M545.5 284.5h0M535.3 287.6h0M542.0 278.9h0M575.6 281.5h0M545.8 265.0h0M543.0 303.7h0M543.2 302.6h0M557.1 294.0h0M520.9 271.6h0M529.5 287.7h0M553.3 281.0h0M554.1 281.2h0M549.4 289.6h0M572.9 281.7h0M576.8 261.0h0M564.4 292.5h0M524.2 263.4h0M570.0 266.5h0M541.9 301.7h0M521.9 267.7h0M522.6 295.1h0M573.0 270.4h0M552.9 302.9h0M523.0 303.4h0M555.2 285.1h0M529.2 278.6h0M564.2 290.0h0M518.9 262.4h0M573.3 274.9h0M565.2 262.0h0M534.7 295.0h0M540.5 264.7h0M520.6 277.1h0M580.2 274.9h0M524.4 301.3h0M522.0 302.5h0M565.4 267.8h0M553.6 296.3h0M560.9 301.1h0M560.7 302.1h0M555.8 277.3h0M525.6 284.5h0M522.3 298.4h0M566.9 268.3h0M543.6 299.9h0M534.0 297.3h0" fill="none" stroke="#5040b0" stroke-width="1.4300000000000002" stroke-linecap="round" opacity="0.9"/>
<path d="M573.2 272.8h0M582.7 302.0h0M522.6 301.7h0M564.8 268.5h0M562.0 262.3h0M552.0 282.2h0M529.6 292.2h0M562.9 299.3h0M541.0 290.2h0M540.8 276.1h0M555.5 285.9h0M525.7 297.7h0M566.7 274.6h0M581.0 281.4h0M564.0 283.3h0M575.2 289.9h0M530.5 309.3h0M525.0 287.6h0M551.1 304.9h0M577.0 266.8h0M529.2 299.9h0M520.1 264.5h0M563.2 301.5h0M532.8 299.3h0M554.3 268.6h0M552.0 292.6h0M524.0 309.4h0M539.8 265.4h0M521.5 306.6h0M550.1 294.1h0M569.2 299.6h0M567.1 264.3h0M573.8 297.4h0M534.8 295.9h0M536.2 276.7h0" fill="none" stroke="#5040b0" stroke-width="2.8600000000000003" stroke-linecap="round" opacity="0.95"/>
</g>
<rect x="574.1" y="306.6" width="8.2" height="2.8" fill="#f6f6f6"/>
<text x="578.2" y="308.8" font-size="2.3" text-anchor="middle" style="font-weight:normal;stroke-width:0">100 μm</text>
</g>
<line x1="605.6" y1="182.29999999999998" x2="605.6" y2="234.9" stroke="#222" stroke-width="0.8"/>
<line x1="605.2" y1="234.5" x2="684.5" y2="234.5" stroke="#222" stroke-width="0.8"/>
<line x1="603.6" y1="234.5" x2="605.6" y2="234.5" stroke="#222" stroke-width="0.6"/>
<text x="602.8000000000001" y="235.9" font-size="3.8" text-anchor="end" class="s" style="fill:#333;stroke:#333">0</text>
<line x1="603.6" y1="217.23333333333332" x2="605.6" y2="217.23333333333332" stroke="#222" stroke-width="0.6"/>
<text x="602.8000000000001" y="218.63333333333333" font-size="3.8" text-anchor="end" class="s" style="fill:#333;stroke:#333">200</text>
<line x1="603.6" y1="199.96666666666664" x2="605.6" y2="199.96666666666664" stroke="#222" stroke-width="0.6"/>
<text x="602.8000000000001" y="201.36666666666665" font-size="3.8" text-anchor="end" class="s" style="fill:#333;stroke:#333">400</text>
<line x1="603.6" y1="182.7" x2="605.6" y2="182.7" stroke="#222" stroke-width="0.6"/>
<text x="602.8000000000001" y="184.1" font-size="3.8" text-anchor="end" class="s" style="fill:#333;stroke:#333">600</text>
<line x1="621.0" y1="199.18966666666665" x2="621.0" y2="197.463" stroke="#111" stroke-width="0.9"/>
<line x1="617.4" y1="197.463" x2="624.6" y2="197.463" stroke="#111" stroke-width="0.9"/>
<rect x="613.0" y="199.2" width="16.0" height="35.3" fill="#111"/>
<line x1="621.0" y1="234.5" x2="621.0" y2="236.5" stroke="#222" stroke-width="0.6"/>
<line x1="644.2" y1="223.881" x2="644.2" y2="223.363" stroke="#2b3fa5" stroke-width="0.9"/>
<line x1="640.6" y1="223.363" x2="647.8000000000001" y2="223.363" stroke="#2b3fa5" stroke-width="0.9"/>
<rect x="636.4" y="223.9" width="15.6" height="10.6" fill="#2b3fa5"/>
<line x1="644.2" y1="234.5" x2="644.2" y2="236.5" stroke="#222" stroke-width="0.6"/>
<line x1="667.5999999999999" y1="211.96699999999998" x2="667.5999999999999" y2="210.24033333333333" stroke="#e8403f" stroke-width="0.9"/>
<line x1="663.9999999999999" y1="210.24033333333333" x2="671.1999999999999" y2="210.24033333333333" stroke="#e8403f" stroke-width="0.9"/>
<rect x="659.8" y="212.0" width="15.6" height="22.5" fill="#e8403f"/>
<line x1="667.5999999999999" y1="234.5" x2="667.5999999999999" y2="236.5" stroke="#222" stroke-width="0.6"/>
<text x="644.6" y="174.4" font-size="12.6" text-anchor="middle">5-8F</text>
<text x="594.2" y="209.1" font-size="6.3" text-anchor="middle" transform="rotate(-90 594.2 209.1)">Invasion number</text>
<path d="M620.4 188.79999999999998V185.6M620.4 187.2H667.5M667.5 185.6V188.79999999999998" fill="none" stroke="#222" stroke-width="0.75"/>
<text x="643.95" y="190.39375" font-size="11.5" text-anchor="middle" style="font-weight:normal;stroke-width:0.4">**</text>
<path d="M620.4 194.9V191.70000000000002M620.4 193.3H644M644 191.70000000000002V194.9" fill="none" stroke="#222" stroke-width="0.75"/>
<text x="632.2" y="196.49375000000003" font-size="11.5" text-anchor="middle" style="font-weight:normal;stroke-width:0.4">**</text>
<line x1="607" y1="260.6" x2="607" y2="313.4" stroke="#222" stroke-width="0.8"/>
<line x1="606.6" y1="313" x2="685" y2="313" stroke="#222" stroke-width="0.8"/>
<line x1="605" y1="313.0" x2="607" y2="313.0" stroke="#222" stroke-width="0.6"/>
<text x="604.2" y="314.4" font-size="3.8" text-anchor="end" class="s" style="fill:#333;stroke:#333">0</text>
<line x1="605" y1="302.6" x2="607" y2="302.6" stroke="#222" stroke-width="0.6"/>
<text x="604.2" y="304.0" font-size="3.8" text-anchor="end" class="s" style="fill:#333;stroke:#333">100</text>
<line x1="605" y1="292.2" x2="607" y2="292.2" stroke="#222" stroke-width="0.6"/>
<text x="604.2" y="293.59999999999997" font-size="3.8" text-anchor="end" class="s" style="fill:#333;stroke:#333">200</text>
<line x1="605" y1="281.8" x2="607" y2="281.8" stroke="#222" stroke-width="0.6"/>
<text x="604.2" y="283.2" font-size="3.8" text-anchor="end" class="s" style="fill:#333;stroke:#333">300</text>
<line x1="605" y1="271.4" x2="607" y2="271.4" stroke="#222" stroke-width="0.6"/>
<text x="604.2" y="272.79999999999995" font-size="3.8" text-anchor="end" class="s" style="fill:#333;stroke:#333">400</text>
<line x1="605" y1="261.0" x2="607" y2="261.0" stroke="#222" stroke-width="0.6"/>
<text x="604.2" y="262.4" font-size="3.8" text-anchor="end" class="s" style="fill:#333;stroke:#333">500</text>
<line x1="622.0" y1="275.456" x2="622.0" y2="272.23199999999997" stroke="#111" stroke-width="0.9"/>
<line x1="618.4" y1="272.23199999999997" x2="625.6" y2="272.23199999999997" stroke="#111" stroke-width="0.9"/>
<rect x="614.3" y="275.5" width="15.4" height="37.5" fill="#111"/>
<line x1="622.0" y1="313" x2="622.0" y2="315" stroke="#222" stroke-width="0.6"/>
<line x1="645.25" y1="298.856" x2="645.25" y2="293.552" stroke="#2b3fa5" stroke-width="0.9"/>
<line x1="641.65" y1="293.552" x2="648.85" y2="293.552" stroke="#2b3fa5" stroke-width="0.9"/>
<rect x="637.7" y="298.9" width="15.1" height="14.1" fill="#2b3fa5"/>
<line x1="645.25" y1="313" x2="645.25" y2="315" stroke="#222" stroke-width="0.6"/>
<line x1="669.05" y1="287.728" x2="669.05" y2="282.944" stroke="#e8403f" stroke-width="0.9"/>
<line x1="665.4499999999999" y1="282.944" x2="672.65" y2="282.944" stroke="#e8403f" stroke-width="0.9"/>
<rect x="661.3" y="287.7" width="15.5" height="25.3" fill="#e8403f"/>
<line x1="669.05" y1="313" x2="669.05" y2="315" stroke="#222" stroke-width="0.6"/>
<text x="645.2" y="253" font-size="12.5" text-anchor="middle">HNE1</text>
<text x="595.6" y="287.5" font-size="6.4" text-anchor="middle" transform="rotate(-90 595.6 287.5)">Invasion number</text>
<path d="M621.8 263.20000000000005V260.0M621.8 261.6H668.8M668.8 260.0V263.20000000000005" fill="none" stroke="#222" stroke-width="0.75"/>
<text x="645.3" y="264.79375000000005" font-size="11.5" text-anchor="middle" style="font-weight:normal;stroke-width:0.4">*</text>
<path d="M621.8 270.40000000000003V267.2M621.8 268.8H645.4M645.4 267.2V270.40000000000003" fill="none" stroke="#222" stroke-width="0.75"/>
<text x="633.5999999999999" y="271.99375000000003" font-size="11.5" text-anchor="middle" style="font-weight:normal;stroke-width:0.4">**</text>
<text x="624.0" y="318.0" font-size="5.3" text-anchor="end" transform="rotate(-45 624.0 318.0)" style="fill:#222;stroke:#222">si-NC</text>
<text x="647.25" y="318.0" font-size="5.3" text-anchor="end" transform="rotate(-45 647.25 318.0)" style="fill:#222;stroke:#222">si-BIRC2#1</text>
<text x="671.05" y="318.0" font-size="5.3" text-anchor="end" transform="rotate(-45 671.05 318.0)" style="fill:#222;stroke:#222">si-BIRC2#2</text>
<text x="2" y="352.9" font-size="24" style="font-weight:normal;stroke-width:0">D</text>
<text x="115.9" y="355.2" font-size="11.8" text-anchor="middle">si-NC</text>
<text x="204.2" y="356" font-size="11.9" text-anchor="middle">si-BIRC2#1</text>
<text x="285.4" y="355.2" font-size="11.9" text-anchor="middle">si-BIRC2#2</text>
<text x="441.2" y="353.5" font-size="11.8" text-anchor="middle">si-NC</text>
<text x="529.7" y="354" font-size="11.9" text-anchor="middle">si-BIRC2#1</text>
<text x="612" y="354" font-size="11.9" text-anchor="middle">si-BIRC2#2</text>
<text x="58.8" y="406.6" font-size="11.6" text-anchor="end">0h</text>
<text x="58.8" y="467.7" font-size="11.6" text-anchor="end">24h</text>
<text x="58.8" y="533.2" font-size="11.6" text-anchor="end">48h</text>
<text x="383.2" y="406.6" font-size="11.6" text-anchor="end">0h</text>
<text x="383.2" y="467.7" font-size="11.6" text-anchor="end">24h</text>
<text x="383.2" y="533.2" font-size="11.6" text-anchor="end">48h</text>
<filter id="soft3" x="-2%" y="-2%" width="104%" height="104%"><feGaussianBlur stdDeviation="0.45"/></filter>
<defs>
<g id="sp0" filter="url(#soft3)">
<path d="M51.4 22.4h0M0.1 22.5h0M70.8 27.5h0M49.9 10.5h0M36.8 23.9h0M11.9 16.0h0M8.1 56.5h0M43.2 33.5h0M66.4 44.9h0M25.5 57.6h0M47.9 62.2h0M23.6 22.8h0M5.7 52.3h0M53.7 52.6h0M32.3 59.7h0M64.6 52.9h0M3.0 53.5h0M82.1 47.6h0M38.2 40.2h0M23.3 12.8h0M76.8 41.7h0M75.3 15.5h0M35.2 53.4h0M12.1 33.9h0M39.1 15.6h0M64.7 42.8h0M34.6 49.6h0M84.1 5.8h0M85.7 17.4h0M37.1 13.6h0M4.5 36.7h0M10.2 38.8h0M80.5 52.9h0M15.2 12.6h0M74.0 33.6h0M85.5 23.6h0M49.5 26.1h0M7.6 32.1h0M44.1 24.7h0M85.4 46.0h0M16.0 0.3h0M7.7 9.8h0M10.5 3.9h0M67.1 20.1h0M31.0 25.7h0M38.5 22.2h0M44.7 37.3h0M25.2 32.8h0M13.3 13.4h0M28.3 22.0h0M26.6 33.3h0M59.5 37.7h0M10.5 0.5h0M16.2 11.8h0M68.4 53.6h0M16.2 52.2h0M74.6 42.2h0M48.7 21.9h0M53.0 17.1h0M30.1 44.0h0M21.5 59.8h0M27.3 7.0h0M52.3 17.6h0M35.9 35.9h0M16.9 12.6h0M57.9 59.5h0M7.9 6.7h0M10.5 6.7h0M4.3 40.6h0M43.7 17.9h0M31.8 27.1h0M28.9 48.9h0M9.0 23.8h0M39.6 7.5h0M37.1 13.0h0M59.7 6.3h0M17.4 8.9h0M6.6 38.0h0M18.4 54.3h0M42.6 1.0h0M28.6 63.3h0M67.9 59.7h0M12.6 7.9h0M11.2 45.5h0M75.6 6.1h0M7.2 32.9h0M24.2 25.4h0M36.2 62.7h0M20.9 48.0h0M16.9 35.8h0M41.2 2.7h0M81.3 43.9h0M49.5 61.8h0M54.1 5.8h0M29.1 14.3h0M85.1 59.8h0M61.8 53.9h0M42.4 4.8h0M84.3 52.0h0M78.9 49.4h0M34.3 38.9h0M9.3 61.7h0M72.5 14.7h0M51.7 15.1h0M34.5 41.3h0M26.1 30.5h0M80.2 57.7h0M67.2 55.8h0M23.1 38.6h0M52.4 61.5h0M3.4 48.3h0M55.9 35.0h0M40.7 38.0h0M68.1 28.3h0M59.1 22.0h0M78.4 39.9h0M75.2 21.7h0M76.3 30.2h0M82.6 52.5h0M10.1 30.8h0M34.5 15.7h0M25.6 3.7h0M84.5 10.0h0M76.1 47.4h0M25.2 19.4h0M72.0 26.8h0M12.4 29.4h0M52.8 0.0h0M53.9 10.7h0M46.9 51.2h0M68.5 16.4h0M69.4 27.3h0M34.4 35.4h0M31.6 32.2h0M81.0 51.7h0M27.9 4.8h0M65.0 1.8h0M47.8 39.2h0M80.9 45.9h0M67.7 35.3h0M38.8 29.8h0M82.9 1.3h0M59.8 12.9h0M37.6 31.2h0M10.6 8.2h0M55.4 63.2h0M10.3 16.6h0M47.5 27.7h0M15.5 44.6h0M53.1 23.8h0M46.7 24.5h0M29.4 20.5h0M10.3 53.6h0M2.5 34.5h0M62.0 37.4h0M15.3 35.9h0M65.3 31.3h0M53.8 17.2h0M25.9 62.1h0M34.9 47.2h0M68.4 0.8h0M84.2 41.3h0M16.4 35.8h0M65.5 12.7h0M3.1 8.8h0M1.4 36.4h0M85.9 8.7h0M68.8 48.8h0M1.1 61.7h0M52.0 15.5h0M84.4 53.5h0M34.3 51.2h0M54.1 26.6h0M26.3 24.5h0M77.1 58.3h0M66.1 23.1h0M33.5 9.4h0M53.5 63.9h0M55.6 43.7h0M23.2 25.1h0M53.1 3.5h0M69.4 31.6h0M33.7 35.2h0M68.2 46.1h0M57.3 7.3h0M76.8 30.4h0M42.5 14.5h0M28.7 48.1h0M50.6 14.6h0M11.7 1.4h0M5.0 63.2h0M65.2 49.9h0M1.5 46.7h0M23.1 47.1h0M69.1 45.2h0M52.6 27.7h0M55.0 18.3h0M34.2 10.9h0M18.3 2.6h0M80.6 7.2h0M62.5 32.3h0M64.1 29.2h0M66.0 2.0h0M54.9 26.0h0M47.7 21.0h0M64.2 29.0h0M71.8 50.3h0M32.4 8.7h0M58.6 19.0h0M39.4 12.1h0M74.6 56.4h0M40.8 4.9h0M33.4 55.8h0M75.6 56.1h0M34.8 57.4h0M43.1 9.6h0M17.5 6.3h0M43.7 46.8h0M7.6 36.4h0M63.8 51.1h0M50.7 20.5h0M68.6 37.8h0M69.4 26.3h0M35.3 36.4h0M53.4 8.3h0M76.2 15.2h0M12.7 30.4h0M28.0 14.1h0M45.3 62.5h0M30.7 36.8h0M18.3 43.2h0M60.4 18.2h0M64.1 21.4h0M71.1 59.5h0M75.9 40.3h0M46.1 10.8h0M51.8 1.5h0M81.9 55.0h0M63.4 3.3h0M54.0 36.3h0M18.9 6.8h0M2.7 9.7h0M49.3 9.9h0M18.9 51.4h0M55.9 36.6h0M35.4 35.3h0M52.4 54.0h0M54.5 7.0h0M57.5 20.0h0M37.1 58.3h0M55.4 58.6h0M64.1 38.3h0M17.5 63.2h0M50.0 30.6h0M69.5 45.7h0M50.0 33.7h0M39.0 41.4h0M84.7 12.8h0M73.6 30.3h0M37.0 56.8h0M9.0 25.7h0M44.5 58.2h0M61.1 34.6h0M14.7 3.2h0M50.8 9.0h0M74.9 10.7h0M67.0 28.8h0M0.9 63.7h0M85.5 33.8h0M57.2 43.1h0M46.8 37.0h0M82.9 25.5h0M48.0 27.0h0M21.6 29.3h0M12.1 14.8h0M49.2 64.0h0M57.8 33.2h0M11.3 58.3h0M72.1 49.8h0M59.7 63.4h0M12.8 42.8h0M76.5 16.2h0M53.7 64.3h0M85.1 48.4h0M22.2 62.1h0M78.2 44.9h0M55.0 58.9h0M25.1 53.0h0M21.6 12.8h0M39.4 3.3h0M19.1 37.6h0M63.5 19.4h0M30.3 21.9h0M48.9 52.2h0M76.7 62.2h0M22.8 43.9h0M53.2 61.1h0M30.1 49.4h0M73.8 61.8h0M70.2 33.4h0M67.1 6.0h0M44.1 0.9h0M56.3 48.0h0M73.7 0.4h0M65.5 17.3h0M85.1 5.1h0M73.4 58.6h0M49.7 35.5h0M84.7 52.1h0M44.2 8.9h0M54.8 39.4h0M38.4 19.9h0M15.2 62.6h0M15.4 8.4h0M0.4 15.7h0M28.8 2.6h0M5.8 28.9h0M26.9 64.0h0M48.9 42.8h0M44.5 25.1h0M41.5 34.3h0M10.5 7.5h0M68.7 30.0h0M72.9 6.3h0M46.8 26.1h0M1.1 20.2h0M41.7 42.1h0M68.0 27.7h0M83.0 40.9h0M57.8 1.2h0M32.8 39.1h0M47.4 12.8h0M19.9 41.8h0M5.1 40.8h0M3.9 14.9h0M67.5 2.6h0M17.7 59.4h0M18.7 6.2h0M84.5 8.2h0M51.3 38.9h0M58.4 7.9h0M62.0 26.2h0M70.4 32.0h0M81.1 63.7h0M71.9 13.0h0M27.3 56.1h0M37.9 18.1h0M9.2 35.4h0M70.2 43.3h0M44.2 49.2h0M72.4 32.5h0M9.6 17.6h0M46.7 37.6h0M36.7 7.3h0M49.0 6.8h0M48.9 28.0h0M10.7 19.1h0M58.3 9.5h0M10.4 0.8h0M51.5 54.7h0M34.8 19.5h0M38.2 58.3h0M51.5 10.0h0M9.6 39.9h0M81.3 49.0h0M27.5 1.0h0M34.9 40.7h0M62.7 59.2h0M48.5 22.6h0M57.1 8.6h0M27.1 18.9h0M41.4 1.4h0M83.0 36.7h0M10.1 13.9h0M71.3 62.2h0M75.6 5.4h0M26.6 20.4h0M4.6 33.3h0M69.6 19.0h0M46.0 55.6h0M16.4 28.6h0M53.1 22.8h0M54.7 39.8h0M54.2 35.1h0M20.2 18.1h0M7.2 5.6h0M2.9 2.5h0M59.6 22.8h0M27.4 8.3h0M82.5 59.2h0M15.8 21.9h0M11.4 46.3h0M67.9 45.6h0M30.9 32.1h0M32.5 20.8h0M63.1 21.0h0M73.4 45.3h0M7.1 61.4h0M63.9 43.7h0M77.2 41.4h0M0.5 7.2h0M80.3 18.3h0M24.5 38.0h0M25.8 53.6h0M17.2 44.7h0M16.7 10.3h0M20.7 3.2h0M72.0 40.9h0M24.4 54.5h0M75.5 20.0h0M50.7 27.8h0M78.2 59.3h0M46.7 23.2h0M20.1 45.2h0M40.3 34.4h0M54.0 39.3h0M26.2 15.0h0M74.8 55.2h0M75.8 49.9h0M34.6 22.9h0M24.4 5.6h0M8.7 19.3h0M63.3 33.4h0M81.4 10.0h0M32.0 64.6h0M26.4 14.3h0M54.6 50.1h0M17.3 8.3h0M4.9 27.2h0M61.5 22.9h0M8.8 17.1h0M1.1 25.4h0M59.0 35.3h0M9.1 37.3h0M72.3 19.9h0M74.9 11.0h0M72.7 22.0h0M22.7 41.9h0M84.2 59.3h0M65.1 33.7h0M83.2 6.3h0M83.2 16.8h0M24.9 59.2h0M74.2 22.1h0M22.5 34.1h0M5.7 53.6h0M0.5 46.6h0M62.3 40.8h0M16.4 47.2h0M61.2 6.6h0M53.0 21.4h0M52.3 54.7h0M69.7 41.5h0M30.5 44.4h0M7.3 14.9h0M39.9 39.7h0M20.2 28.1h0M19.4 1.5h0M64.3 2.3h0M73.1 18.6h0M79.0 6.7h0M52.7 3.7h0M52.3 58.6h0M63.6 37.0h0M1.8 21.9h0M17.3 45.4h0M24.4 47.5h0M73.5 34.0h0M39.1 25.0h0M5.8 39.6h0M1.2 57.5h0M57.8 51.8h0M64.8 1.1h0M64.0 62.7h0M14.6 48.7h0M77.1 54.2h0M34.0 40.8h0M42.1 1.5h0M23.2 9.1h0M49.6 16.5h0M33.0 20.1h0M26.8 17.9h0M14.7 13.2h0M13.8 44.3h0M46.0 4.5h0M35.4 54.8h0M73.7 24.5h0M24.6 32.6h0M63.9 12.0h0M8.5 51.9h0M9.5 40.4h0M81.4 9.6h0M80.8 39.9h0M34.5 16.2h0M63.6 16.7h0M71.1 48.1h0M47.1 48.8h0M0.2 38.6h0M38.0 63.7h0M70.3 43.0h0" fill="none" stroke="#c2c2c2" stroke-width="1.5" stroke-linecap="round" opacity="0.55"/>
<path d="M76.7 47.6h0M65.1 53.5h0M10.4 10.0h0M42.9 7.2h0M31.8 40.2h0M18.8 49.6h0M74.4 59.9h0M6.3 25.3h0M80.9 57.0h0M23.3 49.2h0M64.8 56.9h0M20.3 22.0h0M54.3 56.6h0M15.3 55.9h0M67.8 5.7h0M25.2 35.1h0M55.0 63.8h0M29.5 29.5h0M42.1 21.7h0M36.0 4.9h0M31.9 44.4h0M33.6 43.5h0M76.2 59.3h0M71.9 51.4h0M52.5 50.5h0M42.0 39.6h0M76.3 46.0h0M42.9 25.6h0M84.8 54.1h0M6.7 44.7h0M52.5 8.9h0M34.4 55.5h0M30.4 21.1h0M1.2 29.9h0M58.0 47.4h0M26.2 48.5h0M39.7 60.1h0M42.9 22.7h0M49.5 47.7h0M62.7 59.6h0M68.3 38.6h0M79.3 37.3h0M83.7 25.3h0M74.6 17.9h0M75.5 29.3h0M8.0 6.8h0M56.7 59.3h0M53.3 0.4h0M20.9 52.1h0M80.5 7.7h0M69.1 51.1h0M68.0 33.4h0M21.1 39.5h0M35.6 43.7h0M60.1 8.2h0M7.4 33.2h0M9.3 48.6h0M4.0 64.3h0M69.7 18.9h0M49.9 55.7h0M4.7 12.5h0M20.9 51.6h0M29.1 11.0h0M26.5 60.3h0M31.8 13.8h0M2.3 29.6h0M49.7 14.1h0M2.9 39.6h0M38.9 44.0h0M6.1 2.7h0M71.3 55.2h0M32.1 9.7h0M85.2 25.5h0M31.9 21.3h0M35.1 47.7h0M73.5 62.6h0M76.5 15.2h0M24.2 29.0h0M60.1 3.0h0M7.8 19.9h0M18.4 9.5h0M11.5 6.7h0M14.6 52.0h0M4.7 58.3h0M29.0 39.3h0M4.1 54.8h0M53.0 21.5h0M84.6 38.7h0M34.7 53.8h0M30.2 21.4h0M76.2 32.5h0M78.4 13.9h0M37.5 45.8h0M22.1 47.4h0M41.7 50.5h0M70.5 48.3h0M79.9 4.9h0M11.4 63.4h0M70.0 23.1h0M8.3 11.3h0M56.3 12.9h0M40.2 64.3h0M25.5 17.8h0M31.9 45.0h0M35.4 17.2h0M17.5 36.4h0M76.2 21.1h0M20.3 50.7h0M55.1 0.7h0M33.6 30.8h0M60.6 4.4h0M22.6 5.1h0M24.1 50.4h0M33.5 8.3h0M43.1 43.3h0M85.6 50.4h0M48.3 52.6h0M61.1 43.7h0M20.8 54.7h0M31.0 48.1h0M60.9 6.2h0M7.2 6.7h0M52.4 42.8h0M40.4 37.2h0M57.1 50.5h0M55.7 2.6h0M67.8 12.6h0M40.0 26.1h0M47.4 32.6h0M40.8 59.9h0M66.9 60.4h0M85.6 16.3h0M6.8 8.0h0M81.1 27.9h0M20.3 30.5h0M25.8 36.9h0M59.7 11.5h0M55.0 55.2h0M73.4 64.0h0M56.9 41.0h0M27.8 60.7h0M85.9 10.3h0M61.9 58.7h0M36.2 20.8h0M85.6 25.9h0M1.6 14.9h0M0.2 30.3h0M33.0 35.8h0M43.7 37.0h0M76.7 5.1h0M34.7 23.0h0M63.1 37.3h0M61.0 54.4h0M33.3 58.3h0M21.1 2.0h0M71.6 34.4h0M21.1 60.1h0M71.5 34.3h0M78.3 58.4h0M26.4 1.6h0M35.2 42.7h0M24.3 52.4h0M83.6 45.8h0M32.3 41.4h0M14.9 7.1h0M83.3 25.2h0M69.1 15.6h0M12.7 11.3h0M74.2 21.4h0M57.5 61.8h0M61.5 51.0h0M37.9 0.6h0M1.3 48.4h0M25.9 52.2h0M44.0 61.5h0M76.0 42.6h0M28.1 40.7h0M83.3 45.0h0M6.6 46.4h0M78.8 62.6h0M37.7 50.1h0M67.4 28.6h0M47.9 18.9h0M15.6 39.1h0M73.6 60.7h0M49.6 47.1h0M69.6 19.0h0M76.3 52.0h0M20.2 31.5h0M69.0 22.9h0M11.5 49.4h0M39.2 30.1h0M48.5 63.1h0M4.3 64.4h0M12.9 5.3h0M4.2 30.2h0M58.6 31.2h0M64.9 54.1h0M60.7 45.4h0M69.1 37.4h0M30.3 1.6h0M85.0 58.5h0M69.1 52.9h0M2.7 26.3h0M62.8 63.0h0M24.8 14.4h0M1.7 19.0h0M69.0 14.7h0M76.1 9.4h0M31.8 17.0h0M10.8 14.9h0M23.8 49.5h0M38.3 46.7h0M15.9 22.3h0M5.4 14.6h0M9.3 41.4h0M66.5 29.4h0M72.6 48.5h0M61.6 59.9h0M19.1 17.2h0" fill="none" stroke="#e0e0e0" stroke-width="0.9" stroke-linecap="round" opacity="0.6"/>
<path d="M2.5 56.7h0M1.0 8.6h0M2.8 61.1h0M76.1 21.6h0M84.7 26.6h0M3.8 62.6h0M81.1 23.1h0M39.9 60.3h0M46.8 54.6h0M37.4 61.2h0M61.4 52.3h0M1.8 4.2h0M62.1 29.0h0M41.9 25.1h0M25.1 0.0h0M57.3 59.2h0M56.4 53.0h0M65.9 47.5h0M1.6 10.0h0M21.9 30.2h0M0.9 59.9h0M18.2 0.4h0M77.9 46.3h0M14.7 22.2h0M49.2 13.1h0M1.4 10.8h0M12.1 51.8h0M18.4 53.3h0M82.8 0.0h0M0.1 50.4h0M25.4 5.5h0M2.0 20.1h0M80.4 60.0h0M16.6 50.4h0M73.6 40.0h0M32.1 52.5h0M23.5 57.2h0M16.6 50.5h0M75.0 16.5h0M45.5 63.7h0M27.6 40.5h0M76.8 7.9h0M20.8 62.1h0M72.2 36.4h0M3.8 35.6h0M33.5 19.9h0M67.9 29.5h0M71.9 51.4h0M14.5 51.1h0M56.8 16.3h0M22.7 1.8h0M15.4 25.5h0M32.3 60.0h0M39.8 30.5h0M9.6 16.7h0M64.6 44.5h0M56.0 59.0h0M18.9 39.7h0M50.5 48.9h0M82.5 37.9h0M66.9 59.5h0M73.9 24.4h0M67.3 63.8h0M36.7 43.2h0M59.6 22.0h0M54.1 27.8h0M43.0 13.4h0M34.0 26.9h0M43.4 60.3h0M72.5 5.2h0M24.5 44.1h0M22.9 31.7h0M65.1 22.6h0M20.6 11.2h0M55.8 48.0h0M47.3 32.5h0M43.3 34.8h0M48.9 49.9h0M85.2 26.4h0M18.5 57.4h0M41.1 26.3h0M44.4 40.7h0M27.4 4.1h0M79.6 38.4h0M30.4 5.9h0M0.5 44.9h0M27.5 36.6h0M14.6 13.3h0M34.2 2.9h0M54.5 27.7h0M76.6 17.3h0M50.7 56.0h0M48.1 63.3h0M26.0 12.5h0M58.0 8.2h0M50.7 37.7h0M33.5 8.8h0M70.6 35.5h0M66.4 16.4h0M43.4 38.2h0M54.6 0.5h0M1.7 34.3h0M53.5 32.6h0M51.0 0.2h0M73.3 9.3h0M81.8 30.8h0M73.6 17.5h0M28.2 38.1h0M81.0 14.6h0M44.5 55.2h0M57.9 1.2h0M74.0 30.9h0M22.6 35.1h0M17.8 10.4h0M27.4 8.4h0M30.7 27.9h0M0.6 56.9h0M74.9 17.3h0M64.1 7.2h0M41.3 5.0h0M70.4 1.9h0M7.9 1.7h0M14.8 33.2h0M19.9 10.1h0M76.5 7.4h0M68.7 18.8h0M24.5 33.4h0M54.5 45.9h0M60.4 40.8h0M71.4 40.0h0M28.9 39.3h0M63.9 43.3h0M42.2 39.1h0M66.6 8.1h0M85.4 58.0h0M67.5 3.2h0M27.8 48.5h0M59.3 63.9h0M39.3 34.1h0M73.1 47.1h0M70.3 10.4h0M85.2 40.7h0M24.3 27.3h0M49.3 54.0h0M8.4 56.9h0M24.8 31.6h0M79.7 13.9h0M17.7 53.3h0M26.0 57.3h0M24.3 62.3h0M18.1 41.7h0M52.3 21.9h0M70.0 48.3h0M52.9 64.8h0M83.3 37.6h0M84.0 13.7h0M22.1 20.1h0M27.5 45.6h0M66.4 37.1h0M20.8 39.2h0M44.9 13.5h0M55.7 36.6h0M82.8 2.0h0M25.2 38.7h0M51.1 5.9h0M8.7 33.5h0M13.0 52.9h0M66.2 61.2h0M10.0 7.4h0M71.2 64.6h0M67.3 14.4h0M3.7 25.4h0M12.1 32.3h0M72.5 37.9h0M27.2 25.6h0M63.0 5.8h0M82.0 17.3h0M83.9 55.1h0M37.0 24.8h0M79.1 17.6h0M30.5 59.3h0M19.6 7.2h0M4.1 51.1h0M9.6 6.5h0M28.7 8.2h0M52.4 50.5h0M78.5 24.9h0M18.3 35.3h0M38.5 42.6h0M83.2 47.5h0M0.1 27.5h0M25.1 63.1h0M8.4 29.2h0M65.5 30.0h0M13.6 55.6h0M36.2 41.5h0M27.5 19.6h0M54.8 11.1h0M54.4 2.2h0M6.5 32.7h0M17.6 27.9h0M78.4 13.0h0M39.2 44.3h0M49.6 53.4h0M57.2 18.0h0M29.9 27.1h0M65.0 41.9h0M50.0 2.3h0M21.2 27.2h0M21.1 1.0h0M51.4 52.8h0M25.7 2.1h0M4.9 42.9h0M74.7 1.9h0M7.5 56.5h0M77.9 47.5h0M12.0 6.4h0M56.2 39.0h0M3.1 33.4h0M59.7 5.8h0M34.7 5.7h0M76.6 34.3h0M66.6 23.3h0M30.0 33.3h0M28.0 15.5h0M23.3 5.9h0M38.1 11.7h0M57.6 54.5h0M48.7 45.2h0M68.7 18.4h0M24.3 49.4h0M3.5 51.3h0M73.9 26.4h0M19.8 35.3h0M79.7 44.4h0M74.0 26.9h0M6.7 55.6h0M13.6 24.1h0M45.4 58.8h0M14.9 13.7h0M6.2 37.7h0M81.3 25.3h0M65.4 11.4h0M68.5 29.2h0M38.9 57.1h0M59.2 12.5h0M21.7 16.9h0M36.4 52.7h0M17.6 25.8h0M50.2 1.4h0M48.6 36.4h0M53.5 45.0h0M71.0 28.1h0M38.3 39.2h0M74.4 13.3h0M62.3 58.7h0M64.5 33.7h0M18.3 12.3h0M7.1 62.4h0M24.2 33.6h0M77.7 62.3h0M40.2 51.2h0M74.8 0.5h0M78.6 6.1h0M15.1 33.8h0M54.4 58.8h0M77.4 31.4h0M72.2 27.0h0M18.0 6.7h0M70.7 62.3h0M19.9 20.3h0M82.1 5.2h0M51.7 64.5h0M12.2 1.2h0M54.8 0.4h0M54.8 20.7h0M58.0 40.6h0M68.4 42.1h0M70.1 0.9h0M51.9 37.0h0M64.1 47.7h0M60.3 44.4h0M14.5 60.6h0M60.3 55.3h0M21.6 26.2h0M47.0 46.0h0M57.2 58.2h0M79.5 40.9h0M60.7 40.0h0M56.2 31.8h0M39.9 42.5h0M37.7 38.7h0M67.5 59.2h0M83.5 7.5h0M20.2 40.2h0M30.7 34.1h0M54.6 42.6h0M51.7 47.3h0M39.2 53.1h0M5.2 5.0h0M46.8 36.8h0M23.5 50.6h0M41.8 47.6h0M44.2 52.2h0M3.6 4.2h0M33.9 40.1h0M85.6 17.1h0M38.2 54.4h0M67.7 53.2h0M81.8 25.5h0M71.9 28.5h0M0.8 43.8h0M73.0 56.4h0M38.8 64.1h0M60.5 43.4h0M73.7 62.6h0M75.6 1.8h0M36.5 7.8h0M37.0 4.4h0M26.2 56.7h0M39.4 23.6h0M71.2 15.6h0M52.5 42.3h0M6.3 49.9h0M10.7 23.6h0M65.0 48.9h0M50.4 7.6h0M35.8 39.1h0M40.5 57.4h0M71.1 0.2h0" fill="none" stroke="#454545" stroke-width="1.6" stroke-linecap="round" opacity="0.5"/>
</g>
<g id="sp1" filter="url(#soft3)">
<path d="M34.3 52.0h0M42.4 29.8h0M20.3 43.4h0M21.9 63.1h0M20.9 62.5h0M8.2 29.0h0M47.5 61.8h0M72.6 20.2h0M54.5 55.8h0M15.0 53.2h0M69.9 62.7h0M18.9 48.0h0M39.4 62.1h0M66.2 1.1h0M81.1 53.5h0M24.4 62.7h0M14.0 61.1h0M51.3 1.5h0M69.7 20.6h0M6.2 10.7h0M7.5 29.4h0M24.7 59.7h0M33.0 6.9h0M0.3 45.9h0M9.3 62.3h0M64.6 36.9h0M49.2 18.2h0M77.7 20.1h0M12.5 37.6h0M74.4 63.0h0M32.6 15.6h0M39.8 7.0h0M51.5 14.2h0M25.5 51.2h0M81.2 40.3h0M24.3 61.6h0M51.2 35.9h0M34.7 53.7h0M27.8 10.4h0M30.8 20.6h0M14.1 8.3h0M59.9 15.8h0M74.3 42.3h0M72.3 43.5h0M5.1 52.4h0M2.4 26.9h0M72.1 35.7h0M78.2 33.2h0M66.5 25.8h0M29.4 41.4h0M41.3 22.9h0M68.0 25.6h0M81.0 33.4h0M35.6 62.0h0M45.9 25.2h0M52.4 32.8h0M3.1 15.2h0M25.2 39.8h0M39.4 27.0h0M29.5 51.1h0M30.7 12.2h0M17.6 51.3h0M27.2 21.8h0M11.6 2.5h0M82.3 1.9h0M21.5 15.2h0M23.1 55.9h0M5.0 62.0h0M41.2 31.0h0M44.3 57.3h0M14.1 31.0h0M16.2 45.5h0M19.4 56.5h0M48.8 64.3h0M79.0 42.7h0M1.5 24.2h0M57.9 35.0h0M51.9 9.4h0M9.6 31.5h0M60.4 1.6h0M67.8 19.8h0M28.0 37.2h0M51.9 11.7h0M56.3 54.3h0M27.9 60.4h0M69.7 54.4h0M47.7 38.3h0M1.3 31.6h0M85.9 63.2h0M4.4 63.6h0M15.0 27.6h0M14.8 13.6h0M53.2 54.4h0M31.3 48.8h0M44.1 11.5h0M8.9 52.7h0M39.1 62.6h0M26.1 6.5h0M75.9 50.7h0M84.9 20.7h0M74.9 12.7h0M74.6 42.4h0M24.0 10.3h0M46.1 43.3h0M42.9 59.3h0M17.5 24.5h0M5.3 8.0h0M70.2 51.7h0M63.7 26.2h0M46.0 11.9h0M4.9 47.8h0M14.6 48.9h0M77.5 3.3h0M26.0 8.3h0M15.8 61.5h0M56.4 41.6h0M32.7 40.6h0M43.3 13.6h0M20.4 14.6h0M26.2 32.5h0M51.7 9.8h0M25.1 46.8h0M50.3 5.8h0M38.0 40.6h0M75.0 13.7h0M13.1 38.4h0M70.2 2.0h0M25.9 42.2h0M28.9 3.0h0M77.2 44.3h0M20.2 5.4h0M23.2 38.1h0M61.2 64.8h0M0.9 37.9h0M69.8 8.9h0M21.9 59.9h0M53.9 58.6h0M18.9 56.7h0M76.1 30.5h0M1.3 57.5h0M68.6 53.6h0M55.7 45.6h0M11.2 3.7h0M76.6 41.6h0M52.9 44.7h0M16.5 50.7h0M79.2 57.9h0M31.5 11.5h0M49.1 11.0h0M73.1 64.8h0M35.4 40.0h0M81.4 35.8h0M55.0 57.3h0M43.6 56.7h0M3.0 43.2h0M71.5 31.2h0M22.8 57.4h0M59.4 1.6h0M3.6 55.7h0M2.2 43.3h0M37.3 57.3h0M13.0 55.6h0M45.5 39.8h0M31.0 19.3h0M36.0 2.6h0M36.4 26.8h0M39.0 60.1h0M73.8 11.4h0M53.6 30.1h0M65.0 22.3h0M28.8 34.0h0M45.4 6.0h0M47.2 49.7h0M54.5 44.0h0M35.0 29.4h0M36.8 56.6h0M43.6 59.8h0M16.1 63.1h0M0.1 6.9h0M22.6 33.7h0M45.8 47.5h0M66.6 40.2h0M8.0 56.4h0M22.5 60.9h0M55.6 5.8h0M35.3 60.3h0M46.8 29.9h0M82.4 59.5h0M20.6 17.0h0M69.8 26.7h0M69.2 1.0h0M17.2 22.7h0M62.4 61.8h0M17.4 0.6h0M66.2 29.5h0M56.6 31.0h0M20.8 29.6h0M18.6 47.1h0M17.9 5.7h0M77.4 59.7h0M5.1 47.9h0M38.0 7.5h0M75.5 1.9h0M13.6 10.2h0M12.1 5.1h0M55.0 33.2h0M52.5 14.4h0M81.0 11.6h0M52.2 10.4h0M0.5 40.6h0M3.0 27.4h0M55.4 34.5h0M71.4 52.0h0M42.2 41.6h0M63.8 26.3h0M8.9 54.2h0M66.7 57.1h0M8.6 41.6h0M33.8 53.9h0M64.4 34.6h0M0.5 46.1h0M55.0 63.4h0M53.1 27.7h0M83.6 63.5h0M56.4 6.0h0M51.7 61.1h0M58.9 2.3h0M58.6 3.5h0M69.0 60.0h0M6.8 41.5h0M66.3 38.0h0M68.7 42.4h0M37.1 39.9h0M16.8 64.9h0M28.8 20.8h0M16.2 62.5h0M47.3 11.5h0M56.6 52.2h0M50.3 54.5h0M2.1 58.4h0M79.3 5.6h0M6.7 34.1h0M45.7 30.7h0M30.5 34.0h0M57.5 40.4h0M37.8 34.1h0M70.1 23.2h0M67.3 0.8h0M14.1 60.5h0M59.1 56.5h0M38.1 36.4h0M54.8 35.0h0M68.5 41.2h0M30.8 30.5h0M23.0 56.9h0M74.0 8.5h0M84.6 52.0h0M82.6 33.2h0M68.4 5.7h0M12.8 54.6h0M33.8 53.2h0M32.6 2.2h0M15.5 17.5h0M80.0 14.7h0M65.4 37.1h0M67.7 54.1h0M57.3 2.3h0M7.5 48.6h0M10.9 43.1h0M52.6 21.8h0M31.3 40.5h0M22.7 43.7h0M67.4 3.4h0M12.1 6.3h0M14.7 2.7h0M5.0 50.8h0M68.6 62.7h0M80.8 24.9h0M1.0 38.0h0M82.7 6.7h0M1.0 2.4h0M31.6 10.0h0M17.2 41.0h0M42.6 22.8h0M21.4 2.7h0M56.9 16.8h0M14.7 43.3h0M68.3 26.6h0M68.5 31.1h0M85.6 45.1h0M25.2 0.3h0M14.5 58.7h0M22.5 49.1h0M69.3 2.3h0M67.7 12.4h0M3.2 32.4h0M83.6 60.3h0M38.6 56.3h0M19.0 17.6h0M43.9 3.5h0M78.0 35.6h0M0.8 33.5h0M21.3 7.8h0M10.0 33.7h0M82.9 5.3h0M11.1 64.1h0M12.2 2.9h0M22.0 19.8h0M11.3 59.2h0M16.4 48.7h0M34.7 0.6h0M36.5 59.8h0M73.7 40.1h0M73.2 24.2h0M84.4 54.7h0M0.5 42.9h0M0.5 36.3h0M26.4 19.9h0M16.3 2.7h0M60.3 53.6h0M42.0 8.2h0M47.0 57.8h0M9.5 44.9h0M51.8 18.1h0M5.1 12.7h0M42.0 43.7h0M72.1 6.2h0M33.2 59.6h0M59.4 56.6h0M57.6 30.9h0M29.3 11.2h0M36.3 12.9h0M28.2 7.9h0M70.9 22.8h0M46.4 42.7h0M21.7 0.8h0M41.6 5.1h0M68.6 62.7h0M19.6 6.4h0M30.6 56.7h0M58.3 32.5h0M54.5 42.2h0M37.6 21.9h0M36.1 15.8h0M33.2 63.2h0M72.2 35.7h0M9.1 47.7h0M53.5 4.0h0M49.0 43.6h0M62.7 57.2h0M21.9 31.2h0M21.4 10.3h0M79.1 31.0h0M30.6 1.5h0M41.2 53.9h0M18.5 17.2h0M72.8 32.5h0M14.1 10.9h0M31.1 4.3h0M41.1 39.8h0M38.1 9.9h0M50.2 57.7h0M67.2 2.4h0M19.9 45.8h0M43.9 25.0h0M10.0 62.6h0M20.0 49.1h0M84.0 43.3h0M22.3 41.9h0M57.3 17.2h0M56.2 35.3h0M45.4 35.2h0M77.4 1.8h0M49.2 60.8h0M52.6 10.8h0M71.2 10.1h0M77.6 28.2h0M8.3 35.6h0M85.7 19.9h0M49.9 3.9h0M45.8 21.9h0M71.1 4.7h0M46.8 12.3h0M83.5 3.4h0M74.6 1.6h0M66.3 6.2h0M54.6 50.3h0M41.3 45.2h0M20.4 57.4h0M47.7 37.6h0M40.5 52.9h0M32.9 15.3h0M17.1 14.9h0M79.3 36.3h0M81.4 48.9h0M84.2 25.8h0M80.2 0.6h0M60.2 38.3h0M65.7 50.7h0M61.0 34.1h0M42.2 14.3h0M40.8 22.0h0M41.8 41.4h0M6.3 35.7h0M70.6 18.2h0M22.4 6.5h0M73.1 2.6h0M28.6 49.7h0M58.1 20.1h0M29.1 32.1h0M8.2 26.4h0M45.2 14.9h0M69.3 11.4h0M53.9 20.9h0M81.2 44.8h0M63.5 33.3h0M46.8 4.0h0M8.8 12.2h0M42.9 47.3h0M48.9 44.8h0M22.5 27.4h0M56.3 44.1h0M77.1 52.5h0M41.0 50.4h0M29.2 2.0h0M2.5 64.1h0M3.9 11.3h0M40.7 6.6h0M85.7 18.4h0M72.3 42.9h0M61.6 6.6h0M78.0 64.5h0M61.5 25.7h0M27.4 26.5h0M78.6 51.4h0M17.8 23.1h0M31.9 15.1h0M41.9 30.4h0M9.6 64.2h0M61.4 33.3h0M64.7 61.9h0M75.2 9.2h0M14.5 3.7h0M77.8 38.2h0M48.8 6.6h0M0.4 15.9h0M42.0 1.0h0M70.9 39.1h0M67.1 7.3h0M53.8 36.4h0M47.9 36.6h0M25.5 36.5h0M5.2 44.5h0M26.3 5.0h0M9.8 54.1h0M6.3 56.8h0M60.0 42.5h0M15.4 3.3h0M82.5 22.4h0M32.6 37.3h0M26.2 7.9h0M74.9 29.2h0M12.8 27.6h0M8.0 44.0h0M40.4 12.5h0M24.8 41.8h0M79.4 36.6h0M9.7 12.4h0M18.2 43.7h0M54.8 41.8h0M37.1 31.5h0M21.3 30.4h0M5.8 9.5h0M4.1 6.9h0M26.4 37.6h0M8.1 53.7h0M8.5 0.3h0M52.2 6.2h0M57.5 55.1h0M71.5 50.2h0M44.3 7.1h0M46.7 4.1h0M55.4 28.6h0M27.8 27.0h0M22.4 48.0h0M19.5 52.4h0M34.2 21.7h0M27.8 60.9h0M6.9 40.2h0M69.4 18.1h0M16.4 49.0h0M46.3 20.6h0M72.5 12.5h0M47.6 24.4h0M50.6 54.4h0M39.7 57.3h0M5.5 17.4h0M53.6 28.6h0M67.1 12.4h0M65.0 41.9h0" fill="none" stroke="#c2c2c2" stroke-width="1.5" stroke-linecap="round" opacity="0.55"/>
<path d="M56.6 7.8h0M32.4 3.2h0M42.6 58.1h0M70.4 23.3h0M76.0 23.7h0M19.3 39.6h0M30.0 19.4h0M76.7 27.1h0M58.9 35.7h0M21.1 8.4h0M36.3 33.9h0M75.0 50.9h0M22.1 43.9h0M9.5 8.8h0M44.0 47.0h0M73.4 51.3h0M45.7 32.8h0M34.8 5.3h0M69.5 64.9h0M29.6 11.7h0M2.0 21.0h0M60.9 46.1h0M14.4 34.9h0M10.9 10.6h0M32.1 46.4h0M32.0 6.9h0M35.3 30.7h0M13.2 38.0h0M20.2 48.4h0M28.4 29.3h0M27.1 19.9h0M2.0 22.2h0M67.5 46.9h0M40.2 28.9h0M24.3 31.0h0M6.5 40.0h0M59.8 19.5h0M65.2 60.7h0M78.6 46.8h0M56.7 49.1h0M14.1 27.3h0M37.9 8.9h0M44.1 12.8h0M50.8 45.3h0M13.8 47.5h0M82.5 21.4h0M24.5 52.2h0M58.3 44.1h0M31.6 38.5h0M65.0 39.4h0M36.6 42.6h0M33.6 21.7h0M65.0 0.7h0M59.3 6.4h0M62.3 0.4h0M6.9 23.4h0M8.5 38.7h0M53.1 8.3h0M76.2 40.6h0M43.8 3.8h0M10.3 8.2h0M25.0 50.8h0M17.4 38.6h0M69.2 62.1h0M69.9 56.4h0M44.2 39.5h0M12.4 9.0h0M32.4 57.1h0M77.8 63.0h0M3.4 57.1h0M21.4 29.8h0M11.2 39.5h0M84.6 23.3h0M45.7 33.1h0M85.8 59.2h0M41.1 35.3h0M29.7 24.2h0M69.8 7.4h0M42.4 20.2h0M70.8 37.1h0M73.6 26.4h0M55.7 63.1h0M13.0 64.2h0M42.6 0.7h0M55.0 49.9h0M12.7 28.5h0M84.6 42.1h0M63.0 10.6h0M33.0 58.8h0M25.0 46.9h0M72.2 15.2h0M23.2 54.5h0M5.4 20.2h0M73.8 54.4h0M6.2 52.7h0M76.3 26.1h0M84.0 44.4h0M13.7 47.4h0M53.1 17.8h0M76.1 13.1h0M38.3 60.5h0M13.3 18.8h0M30.1 49.9h0M79.1 1.0h0M40.0 45.0h0M27.9 4.6h0M56.6 9.2h0M58.4 20.1h0M21.3 27.6h0M82.5 55.7h0M85.2 24.0h0M49.9 6.0h0M10.4 28.7h0M0.7 41.3h0M70.7 50.1h0M13.2 16.0h0M32.4 1.2h0M35.0 31.1h0M9.7 12.5h0M10.7 64.2h0M63.5 19.9h0M9.1 62.5h0M34.5 35.4h0M8.0 38.0h0M80.9 23.9h0M21.9 44.0h0M25.0 45.5h0M28.7 16.5h0M63.9 5.2h0M60.8 8.2h0M62.6 2.1h0M30.5 57.2h0M16.3 21.6h0M31.1 60.9h0M16.2 10.2h0M0.1 19.4h0M66.7 9.4h0M1.8 21.4h0M71.7 61.8h0M52.6 9.3h0M76.6 5.3h0M4.5 61.6h0M9.9 16.1h0M8.4 37.0h0M14.3 7.6h0M26.7 47.4h0M56.0 61.1h0M82.7 25.1h0M48.1 11.1h0M28.7 39.4h0M46.1 45.1h0M54.6 41.8h0M32.9 24.6h0M16.6 2.2h0M50.6 44.7h0M34.7 20.3h0M22.0 23.0h0M62.5 11.3h0M84.9 47.3h0M27.5 0.2h0M48.4 57.4h0M20.6 60.1h0M37.1 25.4h0M69.8 45.6h0M77.3 12.9h0M33.3 33.6h0M67.1 5.5h0M4.1 17.4h0M84.5 64.5h0M40.5 4.9h0M44.8 35.4h0M74.9 58.9h0M6.8 20.2h0M3.1 45.2h0M78.6 31.8h0M48.8 38.4h0M39.7 15.7h0M79.3 64.2h0M16.9 42.3h0M85.7 62.2h0M30.0 17.8h0M76.1 12.5h0M64.0 34.8h0M66.3 60.4h0M38.1 18.1h0M75.2 5.8h0M50.2 60.9h0M16.4 38.8h0M85.0 13.3h0M69.4 43.1h0M41.2 17.8h0M25.7 3.1h0M40.4 37.9h0M8.4 10.8h0M17.9 39.2h0M68.2 2.5h0M71.4 49.9h0M84.7 40.1h0M61.8 40.8h0M84.7 60.0h0M69.1 1.6h0M17.1 33.7h0M70.0 26.5h0M39.4 6.1h0M61.0 22.3h0M13.2 28.2h0M26.4 54.9h0M20.8 17.9h0M42.0 23.5h0M66.6 62.4h0M8.8 30.6h0M11.9 50.0h0M52.4 6.6h0M59.5 52.8h0M41.5 45.1h0M40.0 49.3h0M16.5 23.8h0M71.8 45.4h0M52.7 52.9h0M26.5 17.0h0" fill="none" stroke="#e0e0e0" stroke-width="0.9" stroke-linecap="round" opacity="0.6"/>
<path d="M71.2 19.5h0M30.1 39.2h0M72.6 7.7h0M34.5 59.0h0M54.3 23.7h0M65.1 4.1h0M2.4 19.8h0M19.8 1.7h0M31.6 22.5h0M64.2 39.1h0M2.1 58.0h0M53.0 40.5h0M65.2 27.6h0M73.2 55.0h0M73.2 60.6h0M39.5 10.4h0M16.8 15.2h0M73.8 41.1h0M44.2 34.4h0M34.6 60.8h0M62.7 31.8h0M29.9 12.8h0M12.3 47.8h0M68.7 30.7h0M7.8 11.2h0M61.0 45.2h0M62.1 30.3h0M63.3 55.6h0M73.3 13.0h0M13.7 23.2h0M63.0 25.8h0M21.9 16.5h0M8.9 9.0h0M59.5 2.2h0M40.1 64.8h0M61.7 47.5h0M63.9 15.7h0M55.4 44.1h0M33.0 5.4h0M44.6 16.6h0M65.1 44.9h0M29.7 3.4h0M56.4 63.2h0M28.5 50.1h0M56.8 53.9h0M51.4 28.5h0M51.1 38.9h0M79.1 55.3h0M22.3 11.2h0M8.4 33.8h0M18.2 18.3h0M82.8 44.4h0M60.1 59.5h0M28.5 56.8h0M52.5 26.8h0M21.6 58.8h0M22.6 4.3h0M39.8 16.6h0M68.9 63.5h0M48.3 0.3h0M79.9 15.9h0M73.7 49.3h0M64.2 34.7h0M29.1 42.9h0M25.8 2.3h0M13.1 43.4h0M2.2 61.9h0M37.6 50.0h0M29.8 19.2h0M30.0 13.8h0M18.3 41.8h0M30.8 33.5h0M11.9 51.3h0M50.5 60.8h0M54.4 6.1h0M21.0 53.5h0M37.6 27.6h0M70.1 41.6h0M17.7 21.3h0M9.6 7.4h0M30.7 39.1h0M35.9 57.6h0M5.8 11.6h0M25.6 47.9h0M78.4 12.7h0M8.1 57.5h0M30.8 40.1h0M28.7 46.5h0M0.6 21.8h0M78.9 22.2h0M80.5 41.4h0M37.7 18.2h0M65.7 41.2h0M33.0 51.6h0M12.2 27.8h0M11.5 20.4h0M28.0 3.1h0M18.2 61.2h0M7.5 3.9h0M77.4 24.8h0M10.2 4.7h0M73.8 5.7h0M5.3 12.2h0M75.3 29.0h0M47.7 53.4h0M50.7 43.6h0M15.3 40.1h0M0.9 29.9h0M55.0 8.3h0M57.3 27.9h0M7.1 61.6h0M30.8 38.4h0M45.5 27.4h0M22.8 8.2h0M64.7 47.3h0M5.5 45.0h0M5.2 27.5h0M16.3 63.0h0M65.6 14.9h0M27.1 26.0h0M27.2 24.5h0M8.6 14.6h0M85.8 44.6h0M75.2 20.3h0M81.4 22.8h0M59.0 59.1h0M27.2 21.8h0M70.7 25.3h0M40.1 23.5h0M6.2 1.7h0M23.9 44.8h0M1.9 34.1h0M13.7 8.8h0M58.5 28.2h0M18.8 11.9h0M30.8 45.9h0M59.4 49.2h0M53.6 28.8h0M81.3 34.7h0M41.7 4.5h0M32.6 48.7h0M58.0 34.0h0M4.5 17.8h0M19.5 15.7h0M77.9 34.7h0M61.8 29.0h0M52.8 53.5h0M19.2 39.3h0M29.8 17.9h0M21.1 0.2h0M80.3 9.7h0M24.3 21.7h0M79.1 60.7h0M10.1 44.5h0M44.8 62.2h0M16.3 39.6h0M41.0 12.7h0M40.4 32.3h0M13.5 62.5h0M48.3 35.4h0M36.3 60.0h0M0.5 42.2h0M29.8 24.4h0M62.9 59.8h0M14.3 5.4h0M41.2 35.0h0M74.1 9.6h0M26.5 9.6h0M23.3 50.7h0M17.5 62.9h0M14.5 32.1h0M79.0 6.8h0M54.2 12.5h0M80.3 18.2h0M21.0 63.6h0M77.7 47.5h0M44.9 5.8h0M61.5 17.2h0M14.5 55.8h0M20.8 17.4h0M16.2 49.6h0M56.1 7.3h0M2.0 2.3h0M76.8 51.4h0M18.1 19.1h0M64.3 35.4h0M57.5 64.5h0M17.9 44.8h0M19.2 54.9h0M54.7 12.1h0M66.0 46.3h0M37.8 61.8h0M12.0 28.6h0M25.5 43.4h0M68.4 10.0h0M42.3 35.7h0M55.6 26.9h0M34.4 59.1h0M2.1 28.8h0M69.9 45.0h0M7.5 43.6h0M65.7 10.8h0M28.3 47.4h0M76.6 54.9h0M82.7 54.8h0M25.1 58.8h0M0.2 41.7h0M45.1 63.1h0M25.6 9.8h0M41.2 31.9h0M33.1 13.4h0M32.1 29.0h0M65.6 35.6h0M67.5 3.6h0M62.8 42.2h0M80.2 32.8h0M25.4 51.6h0M77.6 28.4h0M75.7 64.1h0M64.5 18.3h0M61.3 5.8h0M5.7 12.4h0M23.1 25.2h0M65.0 23.3h0M80.4 59.8h0M35.2 11.3h0M19.9 53.2h0M60.6 41.0h0M59.4 50.8h0M0.1 37.0h0M15.7 41.8h0M42.8 12.4h0M45.2 36.4h0M58.1 29.1h0M41.9 46.9h0M58.3 0.6h0M31.4 38.7h0M30.0 9.6h0M65.0 63.3h0M25.0 56.3h0M16.0 6.7h0M66.5 10.0h0M0.7 48.7h0M71.9 43.4h0M34.1 2.8h0M82.8 49.1h0M35.4 3.6h0M65.6 64.4h0M35.2 27.4h0M22.1 54.9h0M8.5 54.3h0M71.0 42.8h0M32.1 49.5h0M36.0 24.8h0M81.1 48.5h0M29.9 60.2h0M6.5 2.7h0M64.2 61.2h0M62.4 15.3h0M50.5 52.3h0M14.4 29.0h0M32.1 19.3h0M13.1 51.9h0M19.5 35.8h0M40.9 53.4h0M40.0 52.3h0M2.0 39.0h0M19.1 12.0h0M36.8 34.3h0M13.1 11.5h0M11.1 37.1h0M80.4 20.0h0M28.1 18.8h0M41.9 27.3h0M53.9 19.3h0M79.1 25.0h0M60.1 20.2h0M6.6 32.3h0M82.1 1.9h0M23.5 60.6h0M27.6 33.3h0M50.6 25.0h0M50.5 46.6h0M29.9 25.6h0M21.3 23.3h0M14.0 25.0h0M36.6 60.4h0M42.1 52.7h0M82.0 27.0h0M33.5 0.5h0M84.0 47.8h0M63.1 44.0h0M32.7 30.6h0M43.0 15.3h0M81.7 20.4h0M47.7 44.8h0M58.7 1.5h0M73.6 57.5h0M66.1 19.3h0M26.9 58.5h0M1.6 14.8h0M3.6 9.1h0M77.6 42.1h0M81.8 32.5h0M15.3 6.9h0M64.9 51.7h0M31.3 35.3h0M0.5 9.5h0M32.9 55.0h0M75.7 35.3h0M80.2 2.1h0M79.9 34.5h0M81.4 27.1h0M84.4 3.7h0M17.3 2.6h0M80.7 8.4h0M30.1 20.5h0M34.9 2.9h0M80.0 58.7h0M27.4 61.0h0M37.2 63.5h0M21.5 8.4h0M76.5 2.4h0M44.8 19.3h0M19.3 61.5h0M39.9 32.4h0M74.5 14.3h0M54.6 50.6h0M47.4 23.0h0M69.1 58.7h0" fill="none" stroke="#454545" stroke-width="1.6" stroke-linecap="round" opacity="0.5"/>
</g>
<g id="sp2" filter="url(#soft3)">
<path d="M83.0 35.0h0M47.6 30.9h0M16.3 2.4h0M34.2 32.7h0M66.7 22.1h0M83.4 7.3h0M56.5 1.9h0M18.9 8.3h0M84.1 44.1h0M47.6 56.1h0M81.9 24.5h0M74.1 18.9h0M60.5 53.8h0M32.5 42.6h0M62.8 5.7h0M65.5 12.7h0M24.9 15.7h0M24.5 61.3h0M37.3 55.7h0M11.8 16.1h0M1.0 30.8h0M81.7 33.8h0M61.9 10.6h0M5.1 14.5h0M81.9 45.3h0M80.0 50.4h0M22.4 12.4h0M52.7 9.2h0M41.6 35.0h0M21.7 63.1h0M5.0 60.1h0M3.5 62.9h0M35.3 9.9h0M53.7 46.0h0M34.1 30.9h0M57.4 17.8h0M26.9 45.4h0M39.2 54.2h0M38.3 47.2h0M46.9 15.5h0M31.3 36.3h0M40.6 45.8h0M58.0 45.1h0M21.0 56.4h0M78.6 23.3h0M77.6 31.0h0M23.4 4.1h0M59.0 44.7h0M56.7 27.5h0M8.3 0.2h0M53.2 42.5h0M82.0 52.4h0M47.1 63.6h0M1.2 60.9h0M44.1 30.3h0M53.0 22.9h0M43.3 57.2h0M59.4 59.4h0M42.4 12.0h0M41.9 48.7h0M26.9 40.4h0M57.8 23.6h0M0.0 46.1h0M25.9 64.1h0M1.1 45.7h0M50.4 57.5h0M72.5 56.9h0M62.5 42.8h0M63.1 47.7h0M41.3 24.3h0M14.6 25.6h0M44.9 58.5h0M20.6 57.8h0M67.1 22.8h0M57.9 63.6h0M76.1 49.3h0M29.0 24.9h0M33.7 18.2h0M39.0 54.2h0M63.1 18.4h0M56.7 37.9h0M8.4 15.2h0M22.1 5.2h0M59.1 41.3h0M31.4 60.7h0M35.0 12.4h0M36.8 27.1h0M15.3 22.9h0M60.4 40.7h0M8.1 43.0h0M51.1 6.3h0M24.5 46.3h0M68.1 51.0h0M28.8 57.4h0M46.0 42.6h0M25.1 20.9h0M12.1 8.4h0M60.7 5.8h0M56.8 27.3h0M27.5 29.3h0M73.2 39.3h0M37.7 38.0h0M49.5 2.1h0M19.4 57.5h0M69.6 45.0h0M82.7 44.8h0M55.8 56.6h0M14.8 28.7h0M66.2 11.3h0M56.2 4.8h0M6.1 22.4h0M61.0 51.3h0M38.5 43.6h0M33.5 21.6h0M16.0 25.8h0M81.1 40.6h0M38.2 36.9h0M52.2 48.0h0M44.5 35.2h0M25.3 48.6h0M78.9 38.6h0M8.5 24.0h0M56.3 11.9h0M75.5 8.4h0M78.5 48.3h0M50.0 36.9h0M77.0 31.8h0M78.4 64.0h0M10.0 59.6h0M44.5 55.1h0M12.7 53.3h0M41.7 45.4h0M33.5 6.6h0M49.0 59.8h0M31.9 21.7h0M61.5 29.2h0M1.3 26.1h0M17.4 55.5h0M58.9 40.8h0M40.0 18.1h0M36.9 50.3h0M29.0 44.4h0M19.7 20.1h0M84.5 18.5h0M25.6 33.0h0M68.2 60.7h0M23.0 63.6h0M42.9 12.6h0M3.9 10.0h0M29.9 24.9h0M53.6 54.5h0M83.7 63.7h0M61.8 41.7h0M68.9 60.0h0M27.5 34.6h0M7.4 46.7h0M83.3 62.1h0M45.3 38.4h0M69.1 16.8h0M75.9 22.2h0M70.9 27.6h0M51.7 59.6h0M7.2 49.2h0M20.9 39.5h0M28.5 32.8h0M11.8 45.4h0M68.2 14.4h0M53.6 60.9h0M37.6 17.2h0M7.4 29.9h0M77.5 61.9h0M35.1 44.9h0M2.9 19.9h0M71.2 57.8h0M56.0 17.2h0M38.4 13.2h0M4.5 36.0h0M61.0 27.6h0M9.6 55.3h0M73.8 26.7h0M4.5 21.1h0M43.7 6.3h0M69.4 0.1h0M82.1 45.3h0M8.3 59.5h0M31.2 15.5h0M82.4 5.4h0M47.8 25.9h0M38.7 33.5h0M28.0 22.8h0M68.2 11.8h0M69.5 27.4h0M75.2 55.5h0M12.8 46.6h0M12.2 46.9h0M54.0 48.5h0M1.4 10.0h0M70.2 7.5h0M46.2 6.8h0M11.5 63.2h0M50.9 32.9h0M65.8 9.1h0M19.5 39.1h0M78.7 34.4h0M83.4 7.8h0M52.8 37.3h0M45.0 52.1h0M43.1 63.8h0M8.5 0.3h0M12.4 30.7h0M52.4 9.2h0M52.6 16.8h0M11.1 38.8h0M52.2 32.5h0M18.1 11.4h0M63.3 55.5h0M54.6 62.8h0M11.6 45.3h0M73.2 20.4h0M2.5 13.1h0M45.9 1.0h0M84.3 56.9h0M23.8 53.9h0M43.6 20.7h0M39.2 20.7h0M40.3 39.2h0M39.9 2.4h0M15.0 64.2h0M47.2 29.6h0M14.3 11.3h0M78.8 41.2h0M45.8 5.3h0M40.8 21.9h0M30.1 1.1h0M46.8 5.1h0M34.9 38.6h0M42.9 30.6h0M6.3 44.7h0M4.1 22.4h0M18.1 2.6h0M5.2 34.2h0M18.0 30.3h0M50.5 43.6h0M25.3 7.2h0M12.7 24.6h0M21.3 39.0h0M7.1 57.2h0M18.3 15.7h0M3.4 53.7h0M3.0 30.4h0M16.6 30.9h0M59.6 49.5h0M29.7 34.9h0M8.1 53.7h0M31.4 39.6h0M8.0 52.4h0M84.0 63.6h0M20.1 5.4h0M46.7 14.7h0M7.1 5.7h0M72.5 64.8h0M76.7 1.1h0M60.7 31.2h0M9.6 10.2h0M34.9 34.5h0M78.0 29.7h0M5.1 26.1h0M17.6 0.4h0M79.8 12.0h0M18.0 28.7h0M64.2 22.4h0M81.2 51.9h0M16.8 32.8h0M51.3 9.6h0M63.1 47.6h0M79.3 22.4h0M22.4 57.6h0M17.6 32.2h0M30.9 4.3h0M41.8 34.5h0M67.1 33.9h0M84.5 34.3h0M65.0 3.9h0M16.7 49.6h0M58.9 0.5h0M4.8 33.1h0M81.2 5.8h0M64.7 57.8h0M41.6 29.8h0M6.6 41.2h0M72.1 15.4h0M62.9 1.9h0M84.1 6.6h0M11.4 29.2h0M38.4 43.1h0M26.3 36.2h0M27.9 59.9h0M68.0 42.5h0M14.3 8.4h0M65.3 50.8h0M10.1 19.3h0M58.9 31.8h0M61.4 51.3h0M33.4 51.7h0M77.8 35.9h0M35.7 29.2h0M58.4 63.1h0M24.8 29.1h0M66.8 16.5h0M19.3 41.9h0M64.6 4.5h0M78.8 58.4h0M35.0 50.5h0M25.7 43.8h0M70.1 0.5h0M66.9 28.1h0M71.0 9.6h0M43.5 30.4h0M30.4 29.2h0M5.8 56.6h0M56.0 39.8h0M34.2 45.7h0M61.9 62.0h0M32.0 38.2h0M66.7 28.6h0M46.2 47.2h0M77.2 39.0h0M76.4 9.0h0M77.8 12.6h0M58.6 51.2h0M42.8 10.2h0M68.9 22.6h0M38.0 37.0h0M79.0 52.4h0M53.1 29.2h0M40.8 11.2h0M83.7 12.2h0M13.2 8.6h0M12.6 55.0h0M24.1 1.9h0M58.2 64.5h0M3.7 34.2h0M68.1 35.8h0M73.1 6.9h0M80.7 15.9h0M14.4 18.0h0M6.5 55.2h0M35.2 1.6h0M18.4 20.7h0M78.4 33.4h0M45.8 47.0h0M49.6 11.6h0M75.1 46.4h0M12.4 5.8h0M39.4 62.2h0M45.2 27.2h0M37.9 2.8h0M39.0 64.1h0M17.3 5.5h0M62.3 55.8h0M5.8 33.2h0M0.7 45.7h0M65.3 31.5h0M27.8 49.5h0M38.1 35.3h0M68.2 45.8h0M32.3 2.1h0M70.1 42.9h0M22.9 55.6h0M4.9 32.6h0M49.5 1.8h0M68.5 42.8h0M64.6 62.4h0M85.1 36.6h0M30.3 37.5h0M37.0 8.2h0M39.5 33.1h0M71.5 30.8h0M8.4 28.0h0M0.8 28.2h0M10.1 7.4h0M84.3 14.3h0M64.0 61.9h0M31.7 18.8h0M16.0 23.1h0M77.8 57.5h0M84.3 37.9h0M75.1 30.2h0M53.9 19.1h0M26.9 42.4h0M24.6 24.6h0M25.0 20.6h0M19.2 38.7h0M65.9 19.0h0M41.2 37.0h0M66.4 42.1h0M26.0 56.7h0M7.2 47.9h0M70.7 59.1h0M53.0 22.3h0M66.9 15.3h0M51.5 43.8h0M15.4 31.3h0M55.4 32.3h0M0.9 63.0h0M21.8 55.0h0M38.7 20.8h0M5.1 51.6h0M1.1 60.9h0M72.6 52.2h0M59.2 0.3h0M57.9 56.7h0M35.3 52.3h0M60.3 51.2h0M4.9 21.0h0M3.3 60.2h0M24.0 56.3h0M81.6 58.6h0M67.7 31.6h0M80.2 63.4h0M65.4 2.7h0M84.4 19.2h0M19.7 52.7h0M38.0 59.6h0M16.1 62.6h0M60.7 33.0h0M21.0 8.8h0M69.8 51.7h0M41.7 48.8h0M52.9 2.6h0M9.0 36.2h0M39.8 0.7h0M66.2 23.4h0M8.2 29.8h0M48.8 18.1h0M64.7 34.3h0M82.2 38.3h0M9.6 43.6h0M79.4 23.5h0M15.9 60.9h0M9.6 3.6h0M27.9 55.3h0M28.1 61.0h0M10.6 45.4h0M4.6 41.3h0M40.3 64.9h0M49.6 42.6h0M20.7 20.1h0M69.8 1.8h0M51.2 40.6h0M63.3 59.5h0M16.6 1.7h0M36.1 30.1h0M65.1 45.4h0M48.0 2.9h0M30.1 32.5h0M59.5 27.2h0M20.0 19.4h0M5.0 45.9h0M70.1 27.9h0M48.3 2.0h0M37.2 23.6h0M48.5 50.0h0M10.5 16.7h0M23.2 23.8h0M10.1 57.4h0M24.8 63.7h0M75.3 22.9h0M25.8 0.7h0M53.3 16.8h0M30.3 36.5h0M60.3 22.6h0M39.9 57.8h0M31.6 14.2h0M39.8 50.6h0M56.0 17.5h0M44.7 4.7h0M18.7 37.8h0M50.5 62.6h0M73.2 8.8h0M48.4 14.6h0M29.6 49.9h0M44.3 12.1h0M57.9 38.3h0M5.3 49.2h0M8.8 17.9h0M70.3 25.9h0M75.9 16.6h0M39.4 6.7h0M12.5 11.7h0M6.8 4.7h0M70.0 30.1h0M79.1 60.5h0M49.6 15.2h0M6.5 4.7h0M71.6 18.2h0M65.0 17.4h0M49.0 11.4h0M22.3 42.5h0M18.2 0.1h0" fill="none" stroke="#c2c2c2" stroke-width="1.5" stroke-linecap="round" opacity="0.55"/>
<path d="M53.3 60.4h0M26.7 64.7h0M78.5 58.8h0M3.0 58.5h0M58.2 59.5h0M9.6 27.0h0M37.0 54.9h0M83.5 27.0h0M14.7 58.8h0M10.5 13.4h0M33.9 55.4h0M24.0 15.2h0M48.6 26.9h0M76.3 9.4h0M80.4 56.8h0M43.5 24.6h0M62.7 10.6h0M80.1 39.1h0M67.0 47.5h0M19.7 49.8h0M60.2 48.8h0M46.8 34.9h0M81.3 0.3h0M59.4 59.8h0M7.1 59.9h0M20.8 27.3h0M77.4 22.3h0M2.4 31.7h0M42.2 40.3h0M61.0 0.5h0M85.0 3.1h0M34.3 27.9h0M7.8 27.3h0M28.4 6.7h0M30.4 41.0h0M58.8 45.1h0M79.4 22.7h0M13.1 24.8h0M48.6 35.3h0M80.4 35.0h0M38.8 55.8h0M49.1 14.5h0M3.8 42.8h0M31.5 34.3h0M48.9 50.8h0M81.5 19.2h0M4.0 34.3h0M37.2 36.0h0M79.1 38.2h0M39.8 1.6h0M18.5 23.1h0M73.9 52.0h0M57.5 53.9h0M48.2 32.0h0M28.1 10.0h0M81.1 30.2h0M13.4 31.9h0M75.5 45.0h0M85.0 51.4h0M40.2 63.5h0M39.5 50.5h0M60.9 61.2h0M53.4 15.1h0M62.4 16.9h0M74.6 40.6h0M8.8 63.0h0M27.4 29.7h0M18.5 37.9h0M24.0 44.7h0M66.9 2.9h0M61.6 32.5h0M27.7 39.0h0M49.8 2.8h0M64.6 6.4h0M59.0 43.2h0M44.9 23.3h0M7.9 9.4h0M17.4 1.9h0M84.0 14.2h0M72.0 46.2h0M24.5 30.1h0M3.8 49.8h0M56.4 10.0h0M29.7 64.6h0M63.0 8.6h0M62.3 40.8h0M77.6 9.2h0M51.8 55.2h0M83.8 9.2h0M61.2 23.5h0M15.1 54.0h0M48.8 55.6h0M41.8 37.5h0M32.7 45.7h0M78.0 12.9h0M11.9 16.2h0M7.7 45.9h0M42.1 24.3h0M2.3 57.8h0M19.0 39.3h0M52.6 31.2h0M49.4 37.6h0M13.0 19.3h0M21.1 49.7h0M16.8 38.9h0M69.3 15.8h0M68.7 20.5h0M70.0 42.8h0M57.5 19.9h0M15.1 62.4h0M42.1 2.4h0M4.6 3.9h0M35.0 52.5h0M57.8 33.5h0M10.2 35.2h0M20.3 18.0h0M78.7 26.3h0M31.0 40.3h0M16.1 47.7h0M2.8 59.3h0M85.6 50.5h0M52.2 6.5h0M83.8 23.0h0M60.8 31.4h0M5.0 50.5h0M27.3 58.6h0M22.7 2.4h0M53.1 25.9h0M8.9 52.7h0M4.1 44.4h0M37.3 51.0h0M75.0 49.0h0M71.3 53.9h0M49.8 3.4h0M80.4 51.8h0M84.5 39.8h0M86.0 27.9h0M54.0 58.6h0M65.5 0.0h0M84.5 26.1h0M1.6 35.5h0M32.1 30.2h0M22.5 46.8h0M31.5 35.1h0M46.4 20.3h0M35.8 21.2h0M16.3 39.3h0M84.2 16.7h0M48.7 30.4h0M7.4 29.8h0M72.3 11.7h0M4.4 4.0h0M26.3 42.6h0M18.3 7.2h0M41.9 39.5h0M80.9 34.1h0M5.3 2.0h0M34.4 50.1h0M10.2 25.0h0M66.1 4.5h0M71.3 63.0h0M42.3 8.2h0M34.9 11.9h0M71.5 6.2h0M76.3 44.4h0M51.3 3.4h0M46.4 20.2h0M11.8 34.0h0M10.0 61.4h0M84.8 26.9h0M2.2 19.6h0M67.8 3.2h0M75.4 40.9h0M82.4 60.3h0M35.0 57.8h0M14.3 60.0h0M41.8 45.6h0M58.4 5.1h0M84.4 18.0h0M84.2 39.6h0M19.1 25.2h0M7.3 35.5h0M78.4 23.3h0M8.8 5.8h0M56.3 43.7h0M0.5 62.0h0M59.0 59.5h0M15.1 1.6h0M79.9 18.2h0M46.0 8.4h0M5.3 57.8h0M16.2 2.7h0M62.9 45.3h0M61.7 32.5h0M8.1 3.8h0M17.4 40.2h0M52.7 38.1h0M73.1 2.0h0M19.2 26.4h0M10.7 41.3h0M35.4 59.6h0M49.9 8.4h0M67.9 49.5h0M44.4 49.5h0M26.3 33.2h0M42.3 34.0h0M69.1 0.2h0M31.3 34.0h0M84.8 9.1h0M29.7 60.5h0M52.1 34.7h0M17.9 25.2h0M23.5 41.6h0M16.1 61.9h0M11.6 50.1h0M17.8 62.8h0M75.6 27.1h0M57.3 55.0h0M79.8 18.7h0M50.6 60.0h0" fill="none" stroke="#e0e0e0" stroke-width="0.9" stroke-linecap="round" opacity="0.6"/>
<path d="M59.2 31.3h0M13.2 36.7h0M81.6 29.8h0M26.9 7.1h0M85.2 9.0h0M65.0 59.2h0M44.8 57.6h0M1.1 45.9h0M24.8 59.6h0M71.3 0.6h0M13.0 14.2h0M62.9 13.0h0M50.7 9.8h0M70.6 50.5h0M41.0 2.2h0M46.7 26.5h0M39.4 6.0h0M9.3 10.7h0M17.0 21.5h0M31.6 49.5h0M49.6 21.0h0M39.5 31.8h0M35.8 7.1h0M63.9 62.0h0M50.5 3.0h0M42.4 34.5h0M14.4 50.1h0M37.2 46.8h0M51.2 47.0h0M25.2 36.3h0M38.7 65.0h0M77.2 12.4h0M37.4 6.8h0M77.2 24.7h0M21.4 1.7h0M0.5 1.8h0M54.2 5.5h0M45.9 50.3h0M49.4 1.1h0M77.5 32.6h0M58.6 28.2h0M53.9 29.9h0M29.5 12.3h0M85.0 57.1h0M24.0 30.0h0M32.7 58.5h0M50.7 64.8h0M30.4 47.7h0M46.3 48.5h0M39.3 26.8h0M8.9 63.1h0M70.9 27.7h0M70.7 46.5h0M40.1 34.7h0M7.6 21.8h0M3.8 4.7h0M26.6 28.6h0M47.0 28.2h0M35.0 41.9h0M50.2 23.1h0M48.8 37.9h0M42.1 3.6h0M18.4 22.5h0M53.3 63.8h0M66.8 41.6h0M59.0 40.0h0M84.3 36.2h0M79.6 22.1h0M15.3 11.1h0M14.1 16.8h0M23.7 48.9h0M52.6 9.1h0M55.1 44.8h0M51.7 48.5h0M67.6 58.2h0M6.1 63.2h0M14.1 56.7h0M69.0 54.7h0M2.5 56.3h0M12.2 33.8h0M33.7 24.7h0M82.5 56.2h0M7.0 24.2h0M5.9 45.2h0M64.3 15.5h0M20.0 1.1h0M13.0 7.7h0M69.1 36.5h0M35.8 40.4h0M1.7 61.1h0M10.8 0.7h0M0.7 28.5h0M57.0 60.9h0M28.5 2.8h0M12.8 62.1h0M39.7 20.1h0M80.9 8.0h0M16.4 8.1h0M54.9 19.6h0M80.1 45.4h0M56.2 34.6h0M82.9 52.4h0M66.6 22.5h0M16.6 37.3h0M63.1 15.6h0M23.2 35.3h0M32.9 21.4h0M47.4 28.6h0M45.5 8.3h0M77.6 60.6h0M45.3 52.8h0M73.6 42.8h0M21.9 60.0h0M24.0 61.0h0M1.0 24.1h0M28.7 1.6h0M42.2 25.8h0M65.5 62.0h0M38.8 51.2h0M53.8 36.1h0M84.1 61.5h0M17.4 31.6h0M74.9 13.9h0M28.5 15.9h0M54.5 32.4h0M81.8 33.0h0M73.1 50.9h0M68.1 21.9h0M3.0 31.6h0M5.9 14.9h0M54.9 2.6h0M24.9 2.9h0M80.9 14.4h0M28.3 10.8h0M14.1 8.5h0M32.1 40.5h0M13.6 29.3h0M71.0 33.2h0M31.8 17.0h0M83.6 5.1h0M75.0 52.6h0M5.6 40.6h0M27.5 39.7h0M53.6 50.6h0M47.2 59.8h0M28.2 19.9h0M24.7 37.3h0M15.1 53.2h0M12.3 0.9h0M20.7 40.8h0M51.0 47.0h0M41.4 42.4h0M3.1 35.0h0M75.2 11.0h0M15.1 43.9h0M35.2 61.7h0M6.8 30.3h0M23.2 14.1h0M13.6 48.8h0M73.3 6.6h0M41.5 0.5h0M6.4 44.8h0M13.8 51.2h0M1.7 49.8h0M55.3 28.1h0M45.0 36.0h0M46.3 39.6h0M84.1 8.2h0M55.9 38.2h0M62.4 28.2h0M82.0 50.9h0M28.2 21.7h0M6.9 29.8h0M84.5 16.1h0M33.9 33.0h0M70.7 52.7h0M56.8 51.2h0M67.3 54.8h0M2.2 9.2h0M82.8 33.1h0M20.3 56.4h0M58.6 48.5h0M45.0 26.0h0M53.3 34.2h0M46.1 12.3h0M4.2 1.7h0M14.2 25.7h0M73.0 26.0h0M13.1 7.0h0M69.3 18.0h0M35.0 37.2h0M15.1 19.6h0M7.3 9.0h0M8.1 55.0h0M43.9 42.9h0M32.0 54.0h0M7.5 12.7h0M60.0 46.8h0M41.7 12.7h0M24.1 54.9h0M67.1 45.1h0M38.3 23.6h0M59.2 24.7h0M26.4 40.3h0M19.8 27.5h0M36.8 43.0h0M40.9 51.7h0M19.8 44.5h0M59.0 14.7h0M19.0 9.4h0M20.6 29.1h0M48.1 53.4h0M43.6 47.0h0M49.9 54.6h0M79.8 59.8h0M48.5 6.7h0M18.0 3.3h0M5.3 26.7h0M34.5 27.8h0M85.4 42.5h0M58.8 6.6h0M74.3 16.5h0M0.1 19.0h0M73.6 13.7h0M37.4 14.3h0M33.7 25.4h0M85.8 11.0h0M4.5 55.6h0M64.7 40.5h0M55.7 33.7h0M64.2 22.1h0M59.0 59.3h0M31.3 24.4h0M29.0 39.2h0M77.9 23.2h0M26.1 45.6h0M81.5 58.8h0M83.9 6.4h0M37.9 8.2h0M26.9 3.3h0M47.3 50.8h0M8.1 36.8h0M6.4 53.5h0M6.2 17.3h0M56.5 18.9h0M37.8 42.8h0M64.2 47.7h0M27.2 36.5h0M83.9 63.0h0M1.0 29.0h0M7.6 0.1h0M16.5 11.0h0M19.9 44.9h0M34.9 19.4h0M61.4 47.7h0M58.1 55.1h0M21.5 37.3h0M61.4 33.3h0M49.9 53.4h0M30.2 29.0h0M46.9 3.2h0M75.2 55.7h0M82.0 16.9h0M70.9 35.6h0M78.2 43.8h0M62.8 28.9h0M69.2 12.3h0M62.6 51.6h0M57.8 34.5h0M47.2 27.1h0M83.7 41.7h0M18.6 5.3h0M84.5 26.6h0M4.2 9.3h0M53.3 26.1h0M74.9 31.5h0M62.7 42.3h0M36.8 45.5h0M40.6 50.1h0M25.4 6.1h0M18.6 45.2h0M15.8 22.6h0M63.6 31.0h0M21.0 43.7h0M30.7 45.1h0M4.0 2.2h0M64.3 7.6h0M10.6 64.5h0M84.0 8.5h0M43.2 39.9h0M48.5 11.3h0M70.5 46.7h0M37.9 49.2h0M1.3 29.9h0M81.6 18.6h0M25.2 19.6h0M60.8 26.3h0M51.6 32.8h0M69.6 47.6h0M4.7 12.1h0M34.9 49.9h0M56.3 4.3h0M84.9 2.6h0M78.2 17.3h0M23.2 33.3h0M35.0 41.1h0M27.7 49.2h0M78.5 48.4h0M29.8 59.4h0M81.4 47.9h0M71.0 53.9h0M48.0 12.6h0M20.5 6.2h0M65.4 61.7h0M51.7 57.4h0M66.2 15.5h0M78.4 20.4h0M49.8 45.5h0M26.7 52.3h0M53.9 18.6h0M22.3 17.0h0M83.1 17.7h0M50.6 3.1h0M81.7 5.2h0M61.2 58.6h0M11.6 62.4h0M61.7 33.4h0M36.5 61.2h0M13.7 43.7h0M45.5 15.2h0" fill="none" stroke="#454545" stroke-width="1.6" stroke-linecap="round" opacity="0.5"/>
</g>
</defs>
<clipPath id="cpL00"><rect x="70" y="364.3" width="84.5" height="63.1"/></clipPath>
<g clip-path="url(#cpL00)">
<rect x="70.0" y="364.3" width="84.5" height="63.1" fill="#747474"/>
<rect x="70.0" y="364.3" width="84.5" height="63.1" fill="#747474" filter="url(#grain)" opacity="0.16"/>
<rect x="70.0" y="364.3" width="84.5" height="63.1" fill="#747474" filter="url(#clump)" opacity="0.12"/>
<use href="#sp1" transform="translate(69.5,427.9) scale(1,-1)"/>
<rect x="98.5" y="364.3" width="28.3" height="63.1" fill="#545454"/>
<rect x="98.5" y="364.3" width="28.3" height="63.1" fill="#545454" filter="url(#grain)" opacity="0.06"/>
<rect x="142.8" y="422.5" width="9.4" height="3.1" fill="#f4f4f4"/>
<text x="147.5" y="424.9" font-size="2.4" text-anchor="middle" style="font-weight:normal;stroke-width:0">200 μm</text>
</g>
<line x1="99" y1="363.90000000000003" x2="99" y2="427.79999999999995" stroke="#0a0a0a" stroke-width="1.5" stroke-dasharray="4.4 1.7"/>
<line x1="126.3" y1="363.90000000000003" x2="126.3" y2="427.79999999999995" stroke="#0a0a0a" stroke-width="1.5" stroke-dasharray="4.4 1.7"/>
<clipPath id="cpL01"><rect x="156.7" y="364.3" width="84.6" height="63.1"/></clipPath>
<g clip-path="url(#cpL01)">
<rect x="156.7" y="364.3" width="84.6" height="63.1" fill="#727272"/>
<rect x="156.7" y="364.3" width="84.6" height="63.1" fill="#727272" filter="url(#grain)" opacity="0.16"/>
<rect x="156.7" y="364.3" width="84.6" height="63.1" fill="#727272" filter="url(#clump)" opacity="0.12"/>
<use href="#sp2" transform="translate(156.2,427.9) scale(1,-1)"/>
<rect x="184.7" y="364.3" width="26.2" height="63.1" fill="#585858"/>
<rect x="184.7" y="364.3" width="26.2" height="63.1" fill="#585858" filter="url(#grain)" opacity="0.06"/>
<rect x="229.6" y="422.5" width="9.4" height="3.1" fill="#f4f4f4"/>
<text x="234.3" y="424.9" font-size="2.4" text-anchor="middle" style="font-weight:normal;stroke-width:0">200 μm</text>
</g>
<line x1="185.2" y1="363.90000000000003" x2="185.2" y2="427.79999999999995" stroke="#0a0a0a" stroke-width="1.5" stroke-dasharray="4.4 1.7"/>
<line x1="210.4" y1="363.90000000000003" x2="210.4" y2="427.79999999999995" stroke="#0a0a0a" stroke-width="1.5" stroke-dasharray="4.4 1.7"/>
<clipPath id="cpL02"><rect x="243.3" y="364.3" width="83.7" height="63.1"/></clipPath>
<g clip-path="url(#cpL02)">
<rect x="243.3" y="364.3" width="83.7" height="63.1" fill="#747474"/>
<rect x="243.3" y="364.3" width="83.7" height="63.1" fill="#747474" filter="url(#grain)" opacity="0.16"/>
<rect x="243.3" y="364.3" width="83.7" height="63.1" fill="#747474" filter="url(#clump)" opacity="0.12"/>
<use href="#sp0" transform="translate(327.5,363.8) scale(-1,1)"/>
<rect x="269.7" y="364.3" width="27.5" height="63.1" fill="#555555"/>
<rect x="269.7" y="364.3" width="27.5" height="63.1" fill="#555555" filter="url(#grain)" opacity="0.06"/>
<rect x="315.3" y="422.5" width="9.4" height="3.1" fill="#f4f4f4"/>
<text x="320" y="424.9" font-size="2.4" text-anchor="middle" style="font-weight:normal;stroke-width:0">200 μm</text>
</g>
<line x1="270.2" y1="363.90000000000003" x2="270.2" y2="427.79999999999995" stroke="#0a0a0a" stroke-width="1.5" stroke-dasharray="4.4 1.7"/>
<line x1="296.7" y1="363.90000000000003" x2="296.7" y2="427.79999999999995" stroke="#0a0a0a" stroke-width="1.5" stroke-dasharray="4.4 1.7"/>
<clipPath id="cpL10"><rect x="70" y="430.4" width="84.5" height="63.2"/></clipPath>
<g clip-path="url(#cpL10)">
<rect x="70.0" y="430.4" width="84.5" height="63.2" fill="#646464"/>
<rect x="70.0" y="430.4" width="84.5" height="63.2" fill="#646464" filter="url(#grain)" opacity="0.16"/>
<rect x="70.0" y="430.4" width="84.5" height="63.2" fill="#646464" filter="url(#clump)" opacity="0.12"/>
<use href="#sp1" transform="translate(155.0,429.9) scale(-1,1)"/>
<rect x="100.3" y="430.4" width="19.4" height="63.2" fill="#3b3b3b"/>
<rect x="100.3" y="430.4" width="19.4" height="63.2" fill="#3b3b3b" filter="url(#grain)" opacity="0.06"/>
<rect x="142.8" y="488.7" width="9.4" height="3.1" fill="#f4f4f4"/>
<text x="147.5" y="491.1" font-size="2.4" text-anchor="middle" style="font-weight:normal;stroke-width:0">200 μm</text>
</g>
<line x1="100.8" y1="430.0" x2="100.8" y2="494.0" stroke="#0a0a0a" stroke-width="1.5" stroke-dasharray="4.4 1.7"/>
<line x1="119.2" y1="430.0" x2="119.2" y2="494.0" stroke="#0a0a0a" stroke-width="1.5" stroke-dasharray="4.4 1.7"/>
<clipPath id="cpL11"><rect x="156.7" y="430.4" width="84.6" height="63.2"/></clipPath>
<g clip-path="url(#cpL11)">
<rect x="156.7" y="430.4" width="84.6" height="63.2" fill="#6e6e6e"/>
<rect x="156.7" y="430.4" width="84.6" height="63.2" fill="#6e6e6e" filter="url(#grain)" opacity="0.16"/>
<rect x="156.7" y="430.4" width="84.6" height="63.2" fill="#6e6e6e" filter="url(#clump)" opacity="0.12"/>
<use href="#sp2" transform="translate(241.8,429.9) scale(-1,1)"/>
<rect x="190.5" y="430.4" width="19.4" height="63.2" fill="#484848"/>
<rect x="190.5" y="430.4" width="19.4" height="63.2" fill="#484848" filter="url(#grain)" opacity="0.06"/>
<rect x="229.6" y="488.7" width="9.4" height="3.1" fill="#f4f4f4"/>
<text x="234.3" y="491.1" font-size="2.4" text-anchor="middle" style="font-weight:normal;stroke-width:0">200 μm</text>
</g>
<line x1="191" y1="430.0" x2="191" y2="494.0" stroke="#0a0a0a" stroke-width="1.5" stroke-dasharray="4.4 1.7"/>
<line x1="209.4" y1="430.0" x2="209.4" y2="494.0" stroke="#0a0a0a" stroke-width="1.5" stroke-dasharray="4.4 1.7"/>
<clipPath id="cpL12"><rect x="243.3" y="430.4" width="83.7" height="63.2"/></clipPath>
<g clip-path="url(#cpL12)">
<rect x="243.3" y="430.4" width="83.7" height="63.2" fill="#767676"/>
<rect x="243.3" y="430.4" width="83.7" height="63.2" fill="#767676" filter="url(#grain)" opacity="0.16"/>
<rect x="243.3" y="430.4" width="83.7" height="63.2" fill="#767676" filter="url(#clump)" opacity="0.12"/>
<use href="#sp0" transform="translate(242.8,494.1) scale(1,-1)"/>
<rect x="278.7" y="430.4" width="16.8" height="63.2" fill="#4d4d4d"/>
<rect x="278.7" y="430.4" width="16.8" height="63.2" fill="#4d4d4d" filter="url(#grain)" opacity="0.06"/>
<rect x="315.3" y="488.7" width="9.4" height="3.1" fill="#f4f4f4"/>
<text x="320" y="491.1" font-size="2.4" text-anchor="middle" style="font-weight:normal;stroke-width:0">200 μm</text>
</g>
<line x1="279.2" y1="430.0" x2="279.2" y2="494.0" stroke="#0a0a0a" stroke-width="1.5" stroke-dasharray="4.4 1.7"/>
<line x1="295" y1="430.0" x2="295" y2="494.0" stroke="#0a0a0a" stroke-width="1.5" stroke-dasharray="4.4 1.7"/>
<clipPath id="cpL20"><rect x="70" y="497.3" width="84.5" height="63.5"/></clipPath>
<g clip-path="url(#cpL20)">
<rect x="70.0" y="497.3" width="84.5" height="63.5" fill="#707070"/>
<rect x="70.0" y="497.3" width="84.5" height="63.5" fill="#707070" filter="url(#grain)" opacity="0.16"/>
<rect x="70.0" y="497.3" width="84.5" height="63.5" fill="#707070" filter="url(#clump)" opacity="0.12"/>
<use href="#sp1" transform="translate(69.5,561.3) scale(1,-1)"/>
<rect x="105.3" y="497.3" width="7.1" height="63.5" fill="#434343"/>
<rect x="105.3" y="497.3" width="7.1" height="63.5" fill="#434343" filter="url(#grain)" opacity="0.06"/>
<rect x="142.8" y="555.9" width="9.4" height="3.1" fill="#f4f4f4"/>
<text x="147.5" y="558.3" font-size="2.4" text-anchor="middle" style="font-weight:normal;stroke-width:0">200 μm</text>
</g>
<line x1="105.8" y1="496.90000000000003" x2="105.8" y2="561.1999999999999" stroke="#0a0a0a" stroke-width="1.5" stroke-dasharray="4.4 1.7"/>
<line x1="111.9" y1="496.90000000000003" x2="111.9" y2="561.1999999999999" stroke="#0a0a0a" stroke-width="1.5" stroke-dasharray="4.4 1.7"/>
<clipPath id="cpL21"><rect x="156.7" y="497.3" width="84.6" height="63.5"/></clipPath>
<g clip-path="url(#cpL21)">
<rect x="156.7" y="497.3" width="84.6" height="63.5" fill="#767676"/>
<rect x="156.7" y="497.3" width="84.6" height="63.5" fill="#767676" filter="url(#grain)" opacity="0.16"/>
<rect x="156.7" y="497.3" width="84.6" height="63.5" fill="#767676" filter="url(#clump)" opacity="0.12"/>
<use href="#sp2" transform="translate(156.2,561.3) scale(1,-1)"/>
<rect x="193.1" y="497.3" width="13.4" height="63.5" fill="#4e4e4e"/>
<rect x="193.1" y="497.3" width="13.4" height="63.5" fill="#4e4e4e" filter="url(#grain)" opacity="0.06"/>
<rect x="229.6" y="555.9" width="9.4" height="3.1" fill="#f4f4f4"/>
<text x="234.3" y="558.3" font-size="2.4" text-anchor="middle" style="font-weight:normal;stroke-width:0">200 μm</text>
</g>
<line x1="193.6" y1="496.90000000000003" x2="193.6" y2="561.1999999999999" stroke="#0a0a0a" stroke-width="1.5" stroke-dasharray="4.4 1.7"/>
<line x1="206" y1="496.90000000000003" x2="206" y2="561.1999999999999" stroke="#0a0a0a" stroke-width="1.5" stroke-dasharray="4.4 1.7"/>
<clipPath id="cpL22"><rect x="243.3" y="497.3" width="83.7" height="63.5"/></clipPath>
<g clip-path="url(#cpL22)">
<rect x="243.3" y="497.3" width="83.7" height="63.5" fill="#666666"/>
<rect x="243.3" y="497.3" width="83.7" height="63.5" fill="#666666" filter="url(#grain)" opacity="0.16"/>
<rect x="243.3" y="497.3" width="83.7" height="63.5" fill="#666666" filter="url(#clump)" opacity="0.12"/>
<use href="#sp0" transform="translate(327.5,496.8) scale(-1,1)"/>
<rect x="276.0" y="497.3" width="15.5" height="63.5" fill="#3c3c3c"/>
<rect x="276.0" y="497.3" width="15.5" height="63.5" fill="#3c3c3c" filter="url(#grain)" opacity="0.06"/>
<rect x="315.3" y="555.9" width="9.4" height="3.1" fill="#f4f4f4"/>
<text x="320" y="558.3" font-size="2.4" text-anchor="middle" style="font-weight:normal;stroke-width:0">200 μm</text>
</g>
<line x1="276.5" y1="496.90000000000003" x2="276.5" y2="561.1999999999999" stroke="#0a0a0a" stroke-width="1.5" stroke-dasharray="4.4 1.7"/>
<line x1="291" y1="496.90000000000003" x2="291" y2="561.1999999999999" stroke="#0a0a0a" stroke-width="1.5" stroke-dasharray="4.4 1.7"/>
<clipPath id="cpR00"><rect x="396" y="361.6" width="84.7" height="63.4"/></clipPath>
<g clip-path="url(#cpR00)">
<rect x="396.0" y="361.6" width="84.7" height="63.4" fill="#696969"/>
<rect x="396.0" y="361.6" width="84.7" height="63.4" fill="#696969" filter="url(#grain)" opacity="0.16"/>
<rect x="396.0" y="361.6" width="84.7" height="63.4" fill="#696969" filter="url(#clump)" opacity="0.12"/>
<g opacity="0.75">
<use href="#sp1" transform="translate(481.2,361.1) scale(-1,1)"/>
</g>
<rect x="422.1" y="361.6" width="29.9" height="63.4" fill="#494949"/>
<rect x="422.1" y="361.6" width="29.9" height="63.4" fill="#494949" filter="url(#grain)" opacity="0.06"/>
<rect x="469.0" y="420.1" width="9.4" height="3.1" fill="#f4f4f4"/>
<text x="473.7" y="422.5" font-size="2.4" text-anchor="middle" style="font-weight:normal;stroke-width:0">200 μm</text>
</g>
<line x1="422.6" y1="361.20000000000005" x2="422.6" y2="425.4" stroke="#0a0a0a" stroke-width="1.5" stroke-dasharray="4.4 1.7"/>
<line x1="451.5" y1="361.20000000000005" x2="451.5" y2="425.4" stroke="#0a0a0a" stroke-width="1.5" stroke-dasharray="4.4 1.7"/>
<clipPath id="cpR01"><rect x="483" y="361.6" width="84.8" height="63.4"/></clipPath>
<g clip-path="url(#cpR01)">
<rect x="483.0" y="361.6" width="84.8" height="63.4" fill="#6d6d6d"/>
<rect x="483.0" y="361.6" width="84.8" height="63.4" fill="#6d6d6d" filter="url(#grain)" opacity="0.16"/>
<rect x="483.0" y="361.6" width="84.8" height="63.4" fill="#6d6d6d" filter="url(#clump)" opacity="0.12"/>
<g opacity="0.75">
<use href="#sp2" transform="translate(568.3,361.1) scale(-1,1)"/>
</g>
<rect x="506.9" y="361.6" width="30.9" height="63.4" fill="#4b4b4b"/>
<rect x="506.9" y="361.6" width="30.9" height="63.4" fill="#4b4b4b" filter="url(#grain)" opacity="0.06"/>
<rect x="556.1" y="420.1" width="9.4" height="3.1" fill="#f4f4f4"/>
<text x="560.8" y="422.5" font-size="2.4" text-anchor="middle" style="font-weight:normal;stroke-width:0">200 μm</text>
</g>
<line x1="507.4" y1="361.20000000000005" x2="507.4" y2="425.4" stroke="#0a0a0a" stroke-width="1.5" stroke-dasharray="4.4 1.7"/>
<line x1="537.3" y1="361.20000000000005" x2="537.3" y2="425.4" stroke="#0a0a0a" stroke-width="1.5" stroke-dasharray="4.4 1.7"/>
<clipPath id="cpR02"><rect x="570.2" y="361.6" width="84.6" height="63.4"/></clipPath>
<g clip-path="url(#cpR02)">
<rect x="570.2" y="361.6" width="84.6" height="63.4" fill="#676767"/>
<rect x="570.2" y="361.6" width="84.6" height="63.4" fill="#676767" filter="url(#grain)" opacity="0.16"/>
<rect x="570.2" y="361.6" width="84.6" height="63.4" fill="#676767" filter="url(#clump)" opacity="0.12"/>
<g opacity="0.75">
<use href="#sp0" transform="translate(569.7,425.5) scale(1,-1)"/>
</g>
<rect x="597.2" y="361.6" width="27.9" height="63.4" fill="#484848"/>
<rect x="597.2" y="361.6" width="27.9" height="63.4" fill="#484848" filter="url(#grain)" opacity="0.06"/>
<rect x="643.1" y="420.1" width="9.4" height="3.1" fill="#f4f4f4"/>
<text x="647.8" y="422.5" font-size="2.4" text-anchor="middle" style="font-weight:normal;stroke-width:0">200 μm</text>
</g>
<line x1="597.7" y1="361.20000000000005" x2="597.7" y2="425.4" stroke="#0a0a0a" stroke-width="1.5" stroke-dasharray="4.4 1.7"/>
<line x1="624.6" y1="361.20000000000005" x2="624.6" y2="425.4" stroke="#0a0a0a" stroke-width="1.5" stroke-dasharray="4.4 1.7"/>
<clipPath id="cpR10"><rect x="396" y="429" width="84.7" height="63.2"/></clipPath>
<g clip-path="url(#cpR10)">
<rect x="396.0" y="429.0" width="84.7" height="63.2" fill="#848484"/>
<rect x="396.0" y="429.0" width="84.7" height="63.2" fill="#848484" filter="url(#grain)" opacity="0.16"/>
<rect x="396.0" y="429.0" width="84.7" height="63.2" fill="#848484" filter="url(#clump)" opacity="0.12"/>
<use href="#sp1" transform="translate(395.5,492.7) scale(1,-1)"/>
<rect x="429.5" y="429.0" width="18.5" height="63.2" fill="#535353"/>
<rect x="429.5" y="429.0" width="18.5" height="63.2" fill="#535353" filter="url(#grain)" opacity="0.06"/>
<rect x="469.0" y="487.3" width="9.4" height="3.1" fill="#f4f4f4"/>
<text x="473.7" y="489.7" font-size="2.4" text-anchor="middle" style="font-weight:normal;stroke-width:0">200 μm</text>
</g>
<line x1="430" y1="428.6" x2="430" y2="492.59999999999997" stroke="#0a0a0a" stroke-width="1.5" stroke-dasharray="4.4 1.7"/>
<line x1="447.5" y1="428.6" x2="447.5" y2="492.59999999999997" stroke="#0a0a0a" stroke-width="1.5" stroke-dasharray="4.4 1.7"/>
<clipPath id="cpR11"><rect x="483" y="429" width="84.8" height="63.2"/></clipPath>
<g clip-path="url(#cpR11)">
<rect x="483.0" y="429.0" width="84.8" height="63.2" fill="#7a7a7a"/>
<rect x="483.0" y="429.0" width="84.8" height="63.2" fill="#7a7a7a" filter="url(#grain)" opacity="0.16"/>
<rect x="483.0" y="429.0" width="84.8" height="63.2" fill="#7a7a7a" filter="url(#clump)" opacity="0.12"/>
<use href="#sp2" transform="translate(482.5,492.7) scale(1,-1)"/>
<rect x="514.0" y="429.0" width="20.5" height="63.2" fill="#565656"/>
<rect x="514.0" y="429.0" width="20.5" height="63.2" fill="#565656" filter="url(#grain)" opacity="0.06"/>
<rect x="556.1" y="487.3" width="9.4" height="3.1" fill="#f4f4f4"/>
<text x="560.8" y="489.7" font-size="2.4" text-anchor="middle" style="font-weight:normal;stroke-width:0">200 μm</text>
</g>
<line x1="514.5" y1="428.6" x2="514.5" y2="492.59999999999997" stroke="#0a0a0a" stroke-width="1.5" stroke-dasharray="4.4 1.7"/>
<line x1="534" y1="428.6" x2="534" y2="492.59999999999997" stroke="#0a0a0a" stroke-width="1.5" stroke-dasharray="4.4 1.7"/>
<clipPath id="cpR12"><rect x="570.2" y="429" width="84.6" height="63.2"/></clipPath>
<g clip-path="url(#cpR12)">
<rect x="570.2" y="429.0" width="84.6" height="63.2" fill="#868686"/>
<rect x="570.2" y="429.0" width="84.6" height="63.2" fill="#868686" filter="url(#grain)" opacity="0.16"/>
<rect x="570.2" y="429.0" width="84.6" height="63.2" fill="#868686" filter="url(#clump)" opacity="0.12"/>
<use href="#sp0" transform="translate(655.3,428.5) scale(-1,1)"/>
<rect x="602.5" y="429.0" width="22.6" height="63.2" fill="#585858"/>
<rect x="602.5" y="429.0" width="22.6" height="63.2" fill="#585858" filter="url(#grain)" opacity="0.06"/>
<rect x="643.1" y="487.3" width="9.4" height="3.1" fill="#f4f4f4"/>
<text x="647.8" y="489.7" font-size="2.4" text-anchor="middle" style="font-weight:normal;stroke-width:0">200 μm</text>
</g>
<line x1="603" y1="428.6" x2="603" y2="492.59999999999997" stroke="#0a0a0a" stroke-width="1.5" stroke-dasharray="4.4 1.7"/>
<line x1="624.6" y1="428.6" x2="624.6" y2="492.59999999999997" stroke="#0a0a0a" stroke-width="1.5" stroke-dasharray="4.4 1.7"/>
<clipPath id="cpR20"><rect x="396" y="497" width="84.7" height="63.0"/></clipPath>
<g clip-path="url(#cpR20)">
<rect x="396.0" y="497.0" width="84.7" height="63.0" fill="#696969"/>
<rect x="396.0" y="497.0" width="84.7" height="63.0" fill="#696969" filter="url(#grain)" opacity="0.16"/>
<rect x="396.0" y="497.0" width="84.7" height="63.0" fill="#696969" filter="url(#clump)" opacity="0.05"/>
<g opacity="0.55">
<use href="#sp1" transform="translate(481.2,496.5) scale(-1,1)"/>
</g>
<rect x="469.0" y="555.1" width="9.4" height="3.1" fill="#f4f4f4"/>
<text x="473.7" y="557.5" font-size="2.4" text-anchor="middle" style="font-weight:normal;stroke-width:0">200 μm</text>
</g>
<line x1="438" y1="496.6" x2="438" y2="560.4" stroke="#0a0a0a" stroke-width="1.5" stroke-dasharray="4.4 1.7"/>
<clipPath id="cpR21"><rect x="483" y="497" width="84.8" height="63.0"/></clipPath>
<g clip-path="url(#cpR21)">
<rect x="483.0" y="497.0" width="84.8" height="63.0" fill="#6d6d6d"/>
<rect x="483.0" y="497.0" width="84.8" height="63.0" fill="#6d6d6d" filter="url(#grain)" opacity="0.16"/>
<rect x="483.0" y="497.0" width="84.8" height="63.0" fill="#6d6d6d" filter="url(#clump)" opacity="0.05"/>
<g opacity="0.55">
<use href="#sp2" transform="translate(568.3,496.5) scale(-1,1)"/>
</g>
<rect x="515.3" y="497.0" width="11.1" height="63.0" fill="#545454"/>
<rect x="515.3" y="497.0" width="11.1" height="63.0" fill="#545454" filter="url(#grain)" opacity="0.06"/>
<rect x="556.1" y="555.1" width="9.4" height="3.1" fill="#f4f4f4"/>
<text x="560.8" y="557.5" font-size="2.4" text-anchor="middle" style="font-weight:normal;stroke-width:0">200 μm</text>
</g>
<line x1="515.8" y1="496.6" x2="515.8" y2="560.4" stroke="#0a0a0a" stroke-width="1.5" stroke-dasharray="4.4 1.7"/>
<line x1="525.9" y1="496.6" x2="525.9" y2="560.4" stroke="#0a0a0a" stroke-width="1.5" stroke-dasharray="4.4 1.7"/>
<clipPath id="cpR22"><rect x="570.2" y="497" width="84.6" height="63.0"/></clipPath>
<g clip-path="url(#cpR22)">
<rect x="570.2" y="497.0" width="84.6" height="63.0" fill="#6b6b6b"/>
<rect x="570.2" y="497.0" width="84.6" height="63.0" fill="#6b6b6b" filter="url(#grain)" opacity="0.16"/>
<rect x="570.2" y="497.0" width="84.6" height="63.0" fill="#6b6b6b" filter="url(#clump)" opacity="0.05"/>
<g opacity="0.55">
<use href="#sp0" transform="translate(569.7,560.5) scale(1,-1)"/>
</g>
<rect x="605.3" y="497.0" width="14.4" height="63.0" fill="#575757"/>
<rect x="605.3" y="497.0" width="14.4" height="63.0" fill="#575757" filter="url(#grain)" opacity="0.06"/>
<rect x="643.1" y="555.1" width="9.4" height="3.1" fill="#f4f4f4"/>
<text x="647.8" y="557.5" font-size="2.4" text-anchor="middle" style="font-weight:normal;stroke-width:0">200 μm</text>
</g>
<line x1="605.8" y1="496.6" x2="605.8" y2="560.4" stroke="#0a0a0a" stroke-width="1.5" stroke-dasharray="4.4 1.7"/>
<line x1="619.2" y1="496.6" x2="619.2" y2="560.4" stroke="#0a0a0a" stroke-width="1.5" stroke-dasharray="4.4 1.7"/>
<line x1="117.5" y1="599.0" x2="117.5" y2="701.8" stroke="#111" stroke-width="1.1"/>
<line x1="117.0" y1="701.3" x2="271.2" y2="701.3" stroke="#111" stroke-width="1.1"/>
<line x1="114.5" y1="701.3" x2="117.5" y2="701.3" stroke="#111" stroke-width="1"/>
<text x="113.3" y="704.0" font-size="7.6" text-anchor="end">0</text>
<line x1="114.5" y1="675.8499999999999" x2="117.5" y2="675.8499999999999" stroke="#111" stroke-width="1"/>
<text x="113.3" y="678.55" font-size="7.6" text-anchor="end">1</text>
<line x1="114.5" y1="650.4" x2="117.5" y2="650.4" stroke="#111" stroke-width="1"/>
<text x="113.3" y="653.1" font-size="7.6" text-anchor="end">2</text>
<line x1="114.5" y1="624.95" x2="117.5" y2="624.95" stroke="#111" stroke-width="1"/>
<text x="113.3" y="627.6500000000001" font-size="7.6" text-anchor="end">3</text>
<line x1="114.5" y1="599.5" x2="117.5" y2="599.5" stroke="#111" stroke-width="1"/>
<text x="113.3" y="602.2" font-size="7.6" text-anchor="end">4</text>
<line x1="127.10000000000001" y1="675.8499999999999" x2="127.10000000000001" y2="674.832" stroke="#111" stroke-width="0.9"/>
<line x1="124.60000000000001" y1="674.832" x2="129.6" y2="674.832" stroke="#111" stroke-width="0.9"/>
<rect x="122.4" y="675.8" width="9.4" height="25.5" fill="#030303"/>
<line x1="141.35" y1="675.8499999999999" x2="141.35" y2="675.341" stroke="#111" stroke-width="0.9"/>
<line x1="138.85" y1="675.341" x2="143.85" y2="675.341" stroke="#111" stroke-width="0.9"/>
<rect x="136.7" y="675.8" width="9.4" height="25.5" fill="#2b3fa5"/>
<line x1="155.6" y1="675.8499999999999" x2="155.6" y2="675.341" stroke="#111" stroke-width="0.9"/>
<line x1="153.1" y1="675.341" x2="158.1" y2="675.341" stroke="#111" stroke-width="0.9"/>
<rect x="150.9" y="675.8" width="9.4" height="25.5" fill="#e8403f"/>
<line x1="141.35" y1="701.3" x2="141.35" y2="704.3" stroke="#111" stroke-width="1"/>
<text x="141.35" y="713.9" font-size="10.2" text-anchor="middle">0h</text>
<line x1="179.39999999999998" y1="662.8705" x2="179.39999999999998" y2="662.107" stroke="#111" stroke-width="0.9"/>
<line x1="176.89999999999998" y1="662.107" x2="181.89999999999998" y2="662.107" stroke="#111" stroke-width="0.9"/>
<rect x="174.7" y="662.9" width="9.4" height="38.4" fill="#030303"/>
<line x1="193.64999999999998" y1="664.9064999999999" x2="193.64999999999998" y2="663.3795" stroke="#111" stroke-width="0.9"/>
<line x1="191.14999999999998" y1="663.3795" x2="196.14999999999998" y2="663.3795" stroke="#111" stroke-width="0.9"/>
<rect x="188.9" y="664.9" width="9.4" height="36.4" fill="#2b3fa5"/>
<line x1="207.89999999999998" y1="662.107" x2="207.89999999999998" y2="661.0889999999999" stroke="#111" stroke-width="0.9"/>
<line x1="205.39999999999998" y1="661.0889999999999" x2="210.39999999999998" y2="661.0889999999999" stroke="#111" stroke-width="0.9"/>
<rect x="203.2" y="662.1" width="9.4" height="39.2" fill="#e8403f"/>
<line x1="193.64999999999998" y1="701.3" x2="193.64999999999998" y2="704.3" stroke="#111" stroke-width="1"/>
<text x="193.64999999999998" y="713.9" font-size="10.2" text-anchor="middle">24h</text>
<line x1="231.79999999999998" y1="630.8035" x2="231.79999999999998" y2="627.7495" stroke="#111" stroke-width="0.9"/>
<line x1="229.29999999999998" y1="627.7495" x2="234.29999999999998" y2="627.7495" stroke="#111" stroke-width="0.9"/>
<rect x="227.1" y="630.8" width="9.4" height="70.5" fill="#030303"/>
<line x1="246.04999999999998" y1="663.3795" x2="246.04999999999998" y2="661.3435" stroke="#111" stroke-width="0.9"/>
<line x1="243.54999999999998" y1="661.3435" x2="248.54999999999998" y2="661.3435" stroke="#111" stroke-width="0.9"/>
<rect x="241.3" y="663.4" width="9.4" height="37.9" fill="#2b3fa5"/>
<line x1="260.3" y1="665.9245" x2="260.3" y2="665.161" stroke="#111" stroke-width="0.9"/>
<line x1="257.8" y1="665.161" x2="262.8" y2="665.161" stroke="#111" stroke-width="0.9"/>
<rect x="255.6" y="665.9" width="9.4" height="35.4" fill="#e8403f"/>
<line x1="246.04999999999998" y1="701.3" x2="246.04999999999998" y2="704.3" stroke="#111" stroke-width="1"/>
<text x="246.04999999999998" y="713.9" font-size="10.2" text-anchor="middle">48h</text>
<text x="195.3" y="585.3" font-size="16.4" text-anchor="middle">5-8F</text>
<text x="104.4" y="650.7" font-size="8.95" text-anchor="middle" transform="rotate(-90 104.4 650.7)">Relative migration area</text>
<rect x="123.8" y="589.5" width="10.9" height="5.4" fill="#111"/>
<text x="141.2" y="594.6999999999999" font-size="7.95">si-NC</text>
<rect x="123.8" y="603.0" width="10.9" height="5.4" fill="#2b3fa5"/>
<text x="141.2" y="608.1999999999999" font-size="7.95">si-BIRC2#1</text>
<rect x="123.8" y="616.4" width="10.9" height="5.4" fill="#e8403f"/>
<text x="141.2" y="621.5999999999999" font-size="7.95">si-BIRC2#2</text>
<path d="M180.5 660.5V655.0999999999999M180.5 657.8H194.5M194.5 655.0999999999999V660.5" fill="none" stroke="#151515" stroke-width="1"/>
<text x="187.5" y="655.4" font-size="7.6" text-anchor="middle">NS</text>
<path d="M180.5 648.6V643.1999999999999M180.5 645.9H209M209 643.1999999999999V648.6" fill="none" stroke="#151515" stroke-width="1"/>
<text x="194.75" y="643.1" font-size="8.3" text-anchor="middle">NS</text>
<path d="M231.6 626.0V620.5999999999999M231.6 623.3H245.6M245.6 620.5999999999999V626.0" fill="none" stroke="#151515" stroke-width="1"/>
<text x="238.6" y="627.3" font-size="17.5" text-anchor="middle" style="font-weight:normal;stroke-width:0.4">**</text>
<path d="M231.6 614.3000000000001V608.9M231.6 611.6H260.2M260.2 608.9V614.3000000000001" fill="none" stroke="#151515" stroke-width="1"/>
<text x="245.89999999999998" y="615.2" font-size="17.5" text-anchor="middle" style="font-weight:normal;stroke-width:0.4">**</text>
<line x1="457.5" y1="599.0" x2="457.5" y2="701.8" stroke="#111" stroke-width="1.1"/>
<line x1="457.0" y1="701.3" x2="611.2" y2="701.3" stroke="#111" stroke-width="1.1"/>
<line x1="454.5" y1="701.3" x2="457.5" y2="701.3" stroke="#111" stroke-width="1"/>
<text x="453.3" y="704.0" font-size="7.6" text-anchor="end">0</text>
<line x1="454.5" y1="667.3666666666667" x2="457.5" y2="667.3666666666667" stroke="#111" stroke-width="1"/>
<text x="453.3" y="670.0666666666667" font-size="7.6" text-anchor="end">1</text>
<line x1="454.5" y1="633.4333333333333" x2="457.5" y2="633.4333333333333" stroke="#111" stroke-width="1"/>
<text x="453.3" y="636.1333333333333" font-size="7.6" text-anchor="end">2</text>
<line x1="454.5" y1="599.5" x2="457.5" y2="599.5" stroke="#111" stroke-width="1"/>
<text x="453.3" y="602.2" font-size="7.6" text-anchor="end">3</text>
<line x1="467.09999999999997" y1="667.3666666666667" x2="467.09999999999997" y2="666.3486666666666" stroke="#111" stroke-width="0.9"/>
<line x1="464.59999999999997" y1="666.3486666666666" x2="469.59999999999997" y2="666.3486666666666" stroke="#111" stroke-width="0.9"/>
<rect x="462.4" y="667.4" width="9.4" height="33.9" fill="#030303"/>
<line x1="481.34999999999997" y1="667.3666666666667" x2="481.34999999999997" y2="666.688" stroke="#111" stroke-width="0.9"/>
<line x1="478.84999999999997" y1="666.688" x2="483.84999999999997" y2="666.688" stroke="#111" stroke-width="0.9"/>
<rect x="476.6" y="667.4" width="9.4" height="33.9" fill="#2b3fa5"/>
<line x1="495.59999999999997" y1="667.3666666666667" x2="495.59999999999997" y2="666.688" stroke="#111" stroke-width="0.9"/>
<line x1="493.09999999999997" y1="666.688" x2="498.09999999999997" y2="666.688" stroke="#111" stroke-width="0.9"/>
<rect x="490.9" y="667.4" width="9.4" height="33.9" fill="#e8403f"/>
<line x1="481.35" y1="701.3" x2="481.35" y2="704.3" stroke="#111" stroke-width="1"/>
<text x="481.35" y="713.9" font-size="10.2" text-anchor="middle">0h</text>
<line x1="519.4000000000001" y1="652.6056666666666" x2="519.4000000000001" y2="651.2483333333333" stroke="#111" stroke-width="0.9"/>
<line x1="516.9000000000001" y1="651.2483333333333" x2="521.9000000000001" y2="651.2483333333333" stroke="#111" stroke-width="0.9"/>
<rect x="514.7" y="652.6" width="9.4" height="48.7" fill="#030303"/>
<line x1="533.6500000000001" y1="654.1326666666666" x2="533.6500000000001" y2="652.4359999999999" stroke="#111" stroke-width="0.9"/>
<line x1="531.1500000000001" y1="652.4359999999999" x2="536.1500000000001" y2="652.4359999999999" stroke="#111" stroke-width="0.9"/>
<rect x="529.0" y="654.1" width="9.4" height="47.2" fill="#2b3fa5"/>
<line x1="547.9000000000001" y1="660.5799999999999" x2="547.9000000000001" y2="659.9013333333334" stroke="#111" stroke-width="0.9"/>
<line x1="545.4000000000001" y1="659.9013333333334" x2="550.4000000000001" y2="659.9013333333334" stroke="#111" stroke-width="0.9"/>
<rect x="543.2" y="660.6" width="9.4" height="40.7" fill="#e8403f"/>
<line x1="533.65" y1="701.3" x2="533.65" y2="704.3" stroke="#111" stroke-width="1"/>
<text x="533.65" y="713.9" font-size="10.2" text-anchor="middle">24h</text>
<line x1="571.8000000000001" y1="615.4486666666667" x2="571.8000000000001" y2="611.3766666666667" stroke="#111" stroke-width="0.9"/>
<line x1="569.3000000000001" y1="611.3766666666667" x2="574.3000000000001" y2="611.3766666666667" stroke="#111" stroke-width="0.9"/>
<rect x="567.1" y="615.4" width="9.4" height="85.9" fill="#030303"/>
<line x1="586.0500000000001" y1="631.058" x2="586.0500000000001" y2="628.6826666666667" stroke="#111" stroke-width="0.9"/>
<line x1="583.5500000000001" y1="628.6826666666667" x2="588.5500000000001" y2="628.6826666666667" stroke="#111" stroke-width="0.9"/>
<rect x="581.4" y="631.1" width="9.4" height="70.2" fill="#2b3fa5"/>
<line x1="600.3000000000001" y1="640.8986666666666" x2="600.3000000000001" y2="638.184" stroke="#111" stroke-width="0.9"/>
<line x1="597.8000000000001" y1="638.184" x2="602.8000000000001" y2="638.184" stroke="#111" stroke-width="0.9"/>
<rect x="595.6" y="640.9" width="9.4" height="60.4" fill="#e8403f"/>
<line x1="586.05" y1="701.3" x2="586.05" y2="704.3" stroke="#111" stroke-width="1"/>
<text x="586.05" y="713.9" font-size="10.2" text-anchor="middle">48h</text>
<text x="533.8" y="585.3" font-size="16.4" text-anchor="middle">HNE1</text>
<text x="444.4" y="650.7" font-size="8.95" text-anchor="middle" transform="rotate(-90 444.4 650.7)">Relative migration area</text>
<rect x="463.8" y="592.9" width="10.9" height="5.4" fill="#111"/>
<text x="481.2" y="598.0999999999999" font-size="7.95">si-NC</text>
<rect x="463.8" y="607.0" width="10.9" height="5.4" fill="#2b3fa5"/>
<text x="481.2" y="612.1999999999999" font-size="7.95">si-BIRC2#1</text>
<rect x="463.8" y="621.0" width="10.9" height="5.4" fill="#e8403f"/>
<text x="481.2" y="626.1999999999999" font-size="7.95">si-BIRC2#2</text>
<path d="M520.5 648.9000000000001V643.5M520.5 646.2H534.5M534.5 643.5V648.9000000000001" fill="none" stroke="#151515" stroke-width="1"/>
<text x="527.5" y="643.8000000000001" font-size="7.9" text-anchor="middle">NS</text>
<path d="M520.5 637.0V631.5999999999999M520.5 634.3H549M549 631.5999999999999V637.0" fill="none" stroke="#151515" stroke-width="1"/>
<text x="534.75" y="638.3" font-size="17.5" text-anchor="middle" style="font-weight:normal;stroke-width:0.4">*</text>
<path d="M571.6 609.4000000000001V604.0M571.6 606.7H585.6M585.6 604.0V609.4000000000001" fill="none" stroke="#151515" stroke-width="1"/>
<text x="578.6" y="610.7" font-size="17.5" text-anchor="middle" style="font-weight:normal;stroke-width:0.4">*</text>
<path d="M571.6 597.7V592.3M571.6 595.0H600.2M600.2 592.3V597.7" fill="none" stroke="#151515" stroke-width="1"/>
<text x="585.9000000000001" y="598.6" font-size="17.5" text-anchor="middle" style="font-weight:normal;stroke-width:0.4">**</text>
</svg>
</body></html>
